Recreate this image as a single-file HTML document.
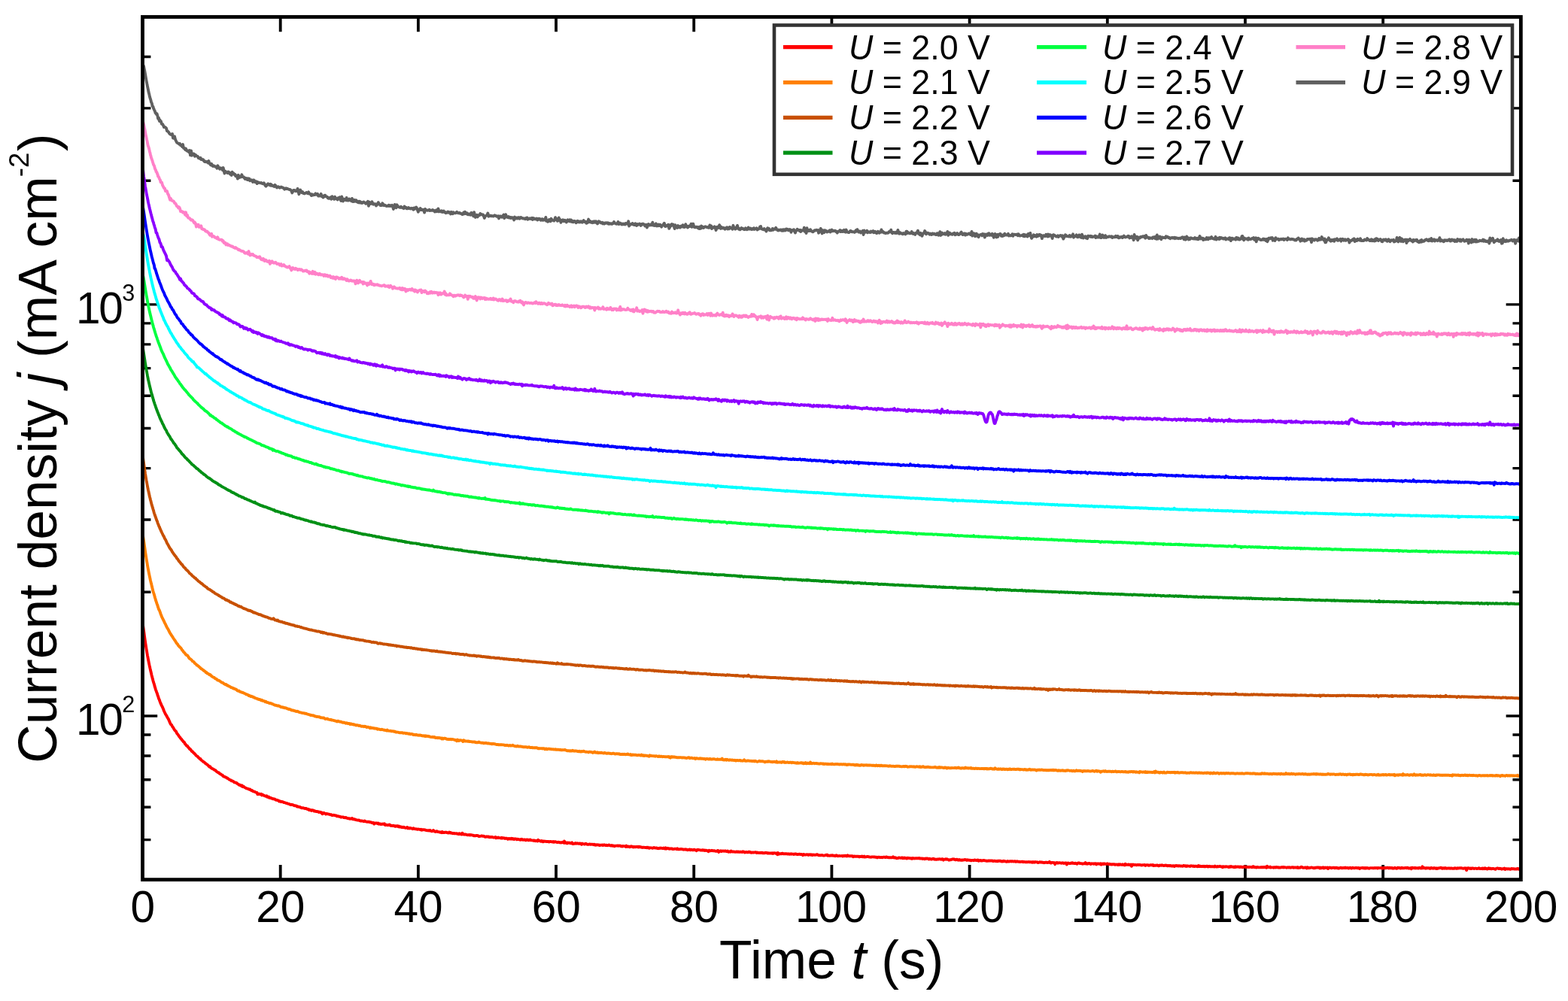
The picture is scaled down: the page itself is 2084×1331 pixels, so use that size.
<!DOCTYPE html>
<html lang="en">
<head>
<meta charset="utf-8">
<title>Current density vs. time</title>
<style>html,body{margin:0;padding:0;background:#fff;}body{width:2084px;height:1331px;overflow:hidden;}svg{display:block;}</style>
</head>
<body>
<svg width="2084" height="1331" viewBox="0 0 2084 1331" font-family='"Liberation Sans", sans-serif' fill="#000" role="img" aria-label="Current density j versus time t for cell voltages U = 2.0 V to 2.9 V">
<rect x="0" y="0" width="2084" height="1331" fill="#fff"/>
<path d="M372.69 1169.65V1149.95M372.69 22.50V42.20M555.87 1169.65V1149.95M555.87 22.50V42.20M739.05 1169.65V1149.95M739.05 22.50V42.20M922.24 1169.65V1149.95M922.24 22.50V42.20M1105.42 1169.65V1149.95M1105.42 22.50V42.20M1288.61 1169.65V1149.95M1288.61 22.50V42.20M1471.80 1169.65V1149.95M1471.80 22.50V42.20M1654.98 1169.65V1149.95M1654.98 22.50V42.20M1838.16 1169.65V1149.95M1838.16 22.50V42.20" stroke="#000" stroke-width="3.8" fill="none"/>
<path d="M189.50 1116.63H200.40M2021.35 1116.63H2010.45M189.50 1073.32H200.40M2021.35 1073.32H2010.45M189.50 1036.69H200.40M2021.35 1036.69H2010.45M189.50 1004.97H200.40M2021.35 1004.97H2010.45M189.50 976.98H200.40M2021.35 976.98H2010.45M189.50 951.95H209.20M2021.35 951.95H2001.65M189.50 787.27H200.40M2021.35 787.27H2010.45M189.50 690.93H200.40M2021.35 690.93H2010.45M189.50 622.58H200.40M2021.35 622.58H2010.45M189.50 569.57H200.40M2021.35 569.57H2010.45M189.50 526.25H200.40M2021.35 526.25H2010.45M189.50 489.63H200.40M2021.35 489.63H2010.45M189.50 457.90H200.40M2021.35 457.90H2010.45M189.50 429.92H200.40M2021.35 429.92H2010.45M189.50 404.88H209.20M2021.35 404.88H2001.65M189.50 240.20H200.40M2021.35 240.20H2010.45M189.50 143.87H200.40M2021.35 143.87H2010.45M189.50 75.52H200.40M2021.35 75.52H2010.45" stroke="#000" stroke-width="3.4" fill="none"/>
<defs><clipPath id="plotclip"><rect x="191.6" y="22.5" width="1828.3" height="1147.2"/></clipPath></defs>
<g clip-path="url(#plotclip)" fill="none" stroke-linejoin="round" stroke-linecap="butt">
<path d="M189.5 831.4l.5 .1 .5 3.4 .5 3.6 .5 3.5 .5 3.9 .5 3.6 .5 3.5 .5 3.3 .5 3.3 .5 3.2 .5 2.9 .5 3 .5 2.9 .5 2.5 .5 2.8 .5 2.5 .5 2.6 .5 2.4 .5 2.1 .5 2.4 .5 2.1 .5 2.3 .5 2 .5 2.4 .5 1.7 .5 2.3 .5 1.5 .5 2.1 .5 1.6 .5 1.8 .5 1.4 .5 2.1 .5 1.6 .5 1.6 .5 1.9 .5 1 .5 1.6 .5 1.4 .5 1.2 .5 1.9 .5 1.2 .5 1.5 .5 1.9 .5 .8 .5 1.3 .5 1.5 .5 1.3 .5 1.4 .5 .7 .5 1.7 .5 .7 1 2 1 2.3 1 2.8 1 2 1 2.2 1 1.4 1 1.9 1 1.8 1 1.6 1 2.4 1 2.3 1 2.1 1 .6 1 2.2 1 1.1 1 1.8 1 1.7 1 1.1 1 .9 1 2.4 1 1.1 1 1.3 1 1.7 1 1.1 1 1.5 1 .9 1 1.7 1 .8 1 1.4 1 .7 1 2.1 1 .8 1 1.5 1 .3 1 1.6 1 .9 1 1.6 1 .2 1 1.6 1 1.3 1 .3 1 1.4 1 .6 1 1.3 1 1 .92 1.2 .91 .5 .92 .6 .91 1.2 .92 .6 .92 1.2 .91-0 .92 1.6 .91 .5 .92 .8 .92 .9 .91 .3 .92 .8 .91 1 .92 .6 .92 .7 .91 .6 .92 .8 .91 1 .92 1 .92-.3 .91 1.6 .92 .4 .91 .8 .92 .3 .92 .4 .91 .8 .92 .4 .91 .4 .92 1.1 .92 .8 .91 .4 .92 .8 .91 0 .92 1.4 .92 .2 .91 .7 .92 .7 .91 .2 .92 1.5 .92 .2 .91 .6 .92 .2 .91 .3 .92 1.1 .92-.1 .91 .9 .92 .5 .91 .8 .92 .3 .92 .4 .91 .9 .92 0 .91 .4 .92 .5 .92 1.1 .91 .1 .92 .3 .91 0 .92 .8 .92 .9 .91 .5 .92 .8 .91-.3 .92 .9 .92 .6 .91-.6 .92 1.8 .91-.6 .92 .5 .92 1 .91 .3 .92 .7 .91 .2 .92 .4 .92 .2 .91 .3 .92 .8 .91-.4 .92 1 .92 .7 .91-.2 .92 1 .91 .4 .92 .1 .92 .3 .91 .6 .92 .5 .91 .1 .92 2.1 .92-.1 .91-.5 .92 .4 .91 .4 .92-.5 .92 1.6 .91-.9 .92 .9 .91-0 .92 .8 .92 .3 .91 .3 .92-.6 .91 1.5 .92 .1 .92-.3 .91 1.4 .92-.2 .91 .2 .92 .6 .92 .1 .91 .6 .92 .1 .91 .1 .92 .3 .92 .9 .91 .1 .92 0 .91 .4 .92 .2 .92 1.2 .91-.2 .92 .2 .91 .7 .92-.3 .92 .2 .91 .4 .92 .5 .91 .2 .92 .2 .92 .5 .91 .1 .92 .1 .91 .8 .92-0 .92 .2 .91 .6 .92 .4 .91-.4 .92 .4 .92 .1 .91 .3 .92 .7 .91 0 .92 .2 .92 .1 .91 1.1 .92-.3 .91 .5 .92 .1 .92 0 .91 .7 .92 .1 .91 .7 .92-0 .92-.3 .91 .6 .92 .2 .91 .3 .92-.2 .92 .2 .91 .7 .92 .3 .91-.2 .92 1.2 .92-.2 .91-.1 .92 1 .91-.8 .92 .4 .92 .2 .91 .9 .92-.4 .91 .7 .92 .1 .92-.1 .91 .5 .92-.2 .91 .8 .92-.3 .92 .2 .91 .7 .92-.1 .91 1.8 .92-.8 .92-.7 .91 .7 .92 .1 .91 .9 .92-.6 .92 .2 .91 .2 .92 .3 .91 0 .92 .6 .92-0 .91 .1 .92 .9 .91-.2 .92-.2 .92 .1 .91 .5 .92-.1 .91 .2 .92 .9 .92-.2 .91 .1 .92 .4 .91-0 .92 .3 .92 .7 .91-.3 .92-0 .91 0 .92 .7 .92-0 .91 .3 .92-.4 .91 .5 .92 .4 .92 .3 .91 .1 .92-0 .91 .6 .92-.2 .92-.4 .91-.3 .92 1.2 .91 .3 .92-.3 .92 .2 .91 .6 .92 .1 .91 .2 .92 .3 .92-0 .91-.1 .92 .8 .91 .1 .92 .3 .92-.2 .91 .1 .92 .2 .91 .4 .92-.7 .92 .6 .91 .2 .92 .3 .91 .2 .92-.1 .92 .2 .91-.2 .92 .7 .91-.1 .92 .2 .92 .6 .91 .1 .92-.2 .91 1.6 .92-1 .92-.1 .91-.1 .92 .1 .91 .7 .92-.7 .92 1.2 .91-.1 .92-.2 .91 .7 .92-.2 .92-.3 .91-.1 .92 .4 .91-.5 .92 1.7 .92-.4 .91 0 .92 .4 .91 .1 .92-.2 .92-.5 .91 .4 .92 1 .91-.3 .92 .5 .92-.1 .91-.3 .92 .4 .91 .7 .92-.5 .92 .5 .91-.7 .92 .1 .91 1.1 .92-.7 .92 1 .91-.3 .92 .1 .91 .7 .92-.4 .92 .6 .91-.5 .92 .5 .91 .4 .92 .1 .92-.3 .91-.5 .92 1.4 .91-.6 .92 .7 .92-.5 .91 .2 .92 .3 .91 .1 .92 .7 .92-1 .91 .5 .92 .3 .91 .2 .92 0 .92 .2 .91 .3 .92-.3 .91 .1 .92 .2 .92 .4 .91-.5 .92 1.1 .91-.6 .92 .1 .92 .1 .91-.1 .92 .2 .91 .3 .92 .3 .92 .2 .91-.2 .92 .1 .91 .4 .92-.6 .92 .6 .91 .5 .92 .3 .91-.5 .92-.9 .92 1 .91 .7 .92 .3 .91-.5 .92-.3 .92 .6 .91 .3 .92 .1 .91 .2 .92 .5 .92-.6 .91 .9 .92-1.1 .91 .9 .92 0 .92 0 .91-.4 .92 .3 .91-.2 .92 .5 .92 .3 .91 0 .92-1 .91 .9 .92-.4 .92 .8 .91-.2 .92 .7 .91-.4 .92 .4 .92-.2 .91 .2 .92 .1 .91-.2 .92 .7 .92-.4 .91 .7 .92-1 .91 .7 .92 .5 .92 .1 .91-1.8 .92 1.7 .91 .1 .92 .2 .92-.2 .91 0 .92 .4 .91 .2 .92 .2 .92-.2 .91-.1 .92 .5 .91-.5 .92 .3 .92 .1 .91 .3 .92 .1 .91 .6 .92-.3 .92 .2 .91-.3 .92-.1 .91 .3 .92 0 .92 .9 .91-.1 .92-.1 .91-.2 .92-.3 .92 .4 .91-0 .92 0 .91 .5 .92 .5 .92 .1 .91-.6 .92 .2 .91 .2 .92-.3 .92 .7 .91 .2 .92-.4 .91 .3 .92-.3 .92 .2 .91 .5 .92 0 .91-.2 .92-.4 .92 1.3 .91-.5 .92 .2 .91-.5 .92 .6 .92 0 .91 0 .92 .4 .91-.8 .92 .9 .92-.4 .91 .1 .92 .2 .91 .5 .92-.3 .92-.1 .91 .4 .92 .8 .91-.6 .92-.3 .92 .6 .91-0 .92-.8 .91 1 .92-.7 .92 .6 .91 .5 .92-.8 .91 .3 .92-.1 .92 .8 .91-.6 .92 .3 .91 .2 .92 .2 .92 .4 .91-.8 .92-.2 .91 .9 .92-.2 .92 .3 .91-.4 .92 .3 .91 .5 .92-.8 .92 .4 .91-.3 .92 .9 .91-.2 .92-.8 .92 .4 .91 .6 .92 0 .91 0 .92 .5 .92-.6 .91 .6 .92 .3 .91-.6 .92 .5 .92 .3 .91-1.5 .92 1 .91-.1 .92 .6 .92 .4 .91-.9 .92 .5 .91 .9 .92-.9 .92 .4 .91 .1 .92-.3 .91 .5 .92-.1 .92-.1 .91 0 .92 .6 .91-.3 .92-.2 .92 .1 .91 .3 .92 .1 .91-.5 .92 .8 .92-.6 .91-.1 .92 .5 .91 .3 .92 .2 .92-.5 .91 .2 .92 .5 .91-.2 .92 .4 .92-.1 .91-.6 .92 .3 .91 .6 .92-2.2 .92 2.3 .91-.3 .92-.1 .91 1 .92-.9 .92 .1 .91 .2 .92-.1 .91 .5 .92-0 .92-.8 .91 1.7 .92 0 .91-.5 .92 .2 .92-.8 .91 .7 .92-.3 .91-.1 .92 .4 .92 .2 .91-.4 .92 0 .91 .6 .92 .7 .92-1.2 .91 .5 .92 0 .91 .5 .92-.3 .92-.6 .91 .4 .92 .7 .91 .1 .92 0 .92-.4 .91-.1 .92 .5 .91-.2 .92-.1 .92 0 .91 .6 .92-.5 .91 .2 .92 .8 .92-.6 .91 .5 .92-.3 .91 .1 .92 0 .92 .7 .91-.5 .92 .1 .91-.1 .92-.1 .92 .5 .91-.5 .92-.2 .91 .6 .92 .1 .92-.4 .91 .6 .92-.1 .91-.5 .92-.1 .92 .8 .91-0 .92 .3 .91-.6 .92 .8 .92-.3 .91 .2 .92 .5 .91-.6 .92 0 .92 0 .91-.2 .92 .4 .91-.3 .92 .1 .92-.1 .91 .8 .92-.2 .91 .4 .92-.5 .92 .1 .91-0 .92-0 .91 .8 .92-1.3 .92 1.3 .91 0 .92-.4 .91 .2 .92 .5 .92-.4 .91-.6 .92 .4 .91 .7 .92-.6 .92 .7 .91-.5 .92 .4 .91-.3 .92 0 .92 .2 .91-.5 .92 .8 .91-.7 .92 .6 .92-.2 .91 .5 .92 .3 .91-.3 .92-.1 .92 .2 .91 .1 .92 .2 .91-.4 .92 .6 .92-.6 .91 .3 .92 .8 .91-.6 .92 .2 .92-0 .91-0 .92 .5 .91-.5 .92-.5 .92 .5 .91 .2 .92-.2 .91 0 .92 .6 .92-.1 .91 .3 .92-.3 .91-.4 .92 .3 .92 0 .91 .1 .92 .3 .91-.7 .92 .6 .92 .5 .91-1.3 .92 1.2 .91-.2 .92-.5 .92 .3 .91 .7 .92-.5 .91 .2 .92 0 .92-.2 .91 .7 .92-0 .91-.1 .92-.2 .92-.1 .91-0 .92 .6 .91-.9 .92 1 .92-.1 .91 0 .92-.1 .91-.2 .92 .1 .92 .2 .91 .3 .92 .2 .91-.2 .92 .1 .92-.3 .91 .5 .92-.1 .91 .5 .92-.2 .92-.3 .91-.3 .92 .9 .91-.7 .92 .4 .92 .2 .91 0 .92-.5 .91 .1 .92 .7 .92-.1 .91 .7 .92-1.1 .91-.2 .92 .2 .92 .1 .91 .2 .92 .2 .91 .1 .92-.3 .92 0 .91 .4 .92-.2 .91 .5 .92-.4 .92-0 .91 .6 .92 0 .91 1 .92-1.5 .92 .6 .91 .1 .92-.3 .91-.3 .92 .3 .92 .3 .91-.1 .92 0 .91 .3 .92 .3 .92-0 .91-.7 .92-.2 .91 1.9 .92-.9 .92-.4 .91-.4 .92 .9 .91-.5 .92-.1 .92 .2 .91 .2 .92-.5 .91 .1 .92 .5 .92 0 .91-.4 .92 1.2 .91-.3 .92-.2 .92 .4 .91-1.1 .92 .7 .91 .2 .92-.1 .92 .1 .91 .1 .92 .3 .91-.1 .92-.4 .92 .5 .91-.4 .92 .2 .91 .3 .92-.3 .92 0 .91 .2 .92 .1 .91-.8 .92 .7 .92-.2 .91 .8 .92-.4 .91-.2 .92 .4 .92-.1 .91 .2 .92-.8 .91 .6 .92-.2 .92 .8 .91-.2 .92-.2 .91 .1 .92-0 .92-.1 .91-.1 .92-.1 .91 .8 .92-.6 .92 .5 .91 .1 .92-0 .91-.2 .92 .3 .92-.3 .91-.1 .92 .6 .91-.1 .92 .2 .92-.3 .91-.5 .92 .5 .91-.1 .92 .6 .92-.5 .91 .5 .92-.1 .91 0 .92 0 .92 .2 .91-.5 .92 .7 .91-.8 .92 .3 .92 .1 .91 .4 .92-.4 .91 1.7 .92-2.1 .92 1.6 .91-.6 .92 .1 .91-.1 .92 .2 .92-.5 .91-.1 .92 .7 .91-0 .92-.3 .92 .1 .91 0 .92 .2 .91 .2 .92-.3 .92 .2 .91 .3 .92-.4 .91 .3 .92-.3 .92 .2 .91-0 .92 .4 .91-.4 .92-.2 .92 .4 .91-.2 .92 .6 .91-.2 .92-.2 .92-.2 .91 .4 .92-.1 .91 .1 .92 .1 .92 1 .91-1.2 .92 .4 .91 .2 .92 .1 .92-.3 .91 .1 .92-.1 .91 .7 .92-.7 .92 .3 .91-.3 .92 .5 .91-.4 .92 .7 .92-.6 .91 .1 .92 .1 .91 .1 .92-.2 .92-.3 .91-0 .92 .5 .91 .4 .92 .1 .92-.2 .91 .2 .92-.2 .91-.1 .92 .3 .92 .3 .91 0 .92-.2 .91-.5 .92 .2 .92-.5 .91 1.1 .92-.3 .91 .4 .92 .1 .92-.5 .91 .3 .92-.2 .91-.3 .92 .6 .92 0 .91-0 .92 .4 .91-.7 .92-.2 .92 .8 .91 .1 .92-.1 .91-.1 .92 .1 .92-0 .91-0 .92-.1 .91 .5 .92-.5 .92-.2 .91 .4 .92-.5 .91 .3 .92 .5 .92-1.1 .91 .7 .92 .1 .91-0 .92 .1 .92-.1 .91-.1 .92 0 .91 1.1 .92-.5 .92-.2 .91 .3 .92-0 .91-0 .92-.1 .92 0 .91 0 .92 .7 .91-.6 .92 .3 .92 0 .91-.6 .92 .9 .91-.3 .92-.5 .92 1 .91-.2 .92-.1 .91-.3 .92-0 .92 .2 .91-0 .92 .4 .91-0 .92 .1 .92-.2 .91-.1 .92 0 .91 .1 .92 0 .92 .2 .91 .1 .92-.1 .91 .7 .92-.6 .92 .1 .91-.2 .92 .4 .91 0 .92-.2 .92 .3 .91-.1 .92-.5 .91 0 .92 .2 .92 .3 .91-.6 .92 .2 .91 .3 .92 .2 .92 0 .91 .1 .92-.1 .91 .2 .92-.1 .92-.2 .91-.8 .92 1.1 .91 .2 .92-.3 .92 .1 .91 .8 .92-.1 .91-0 .92-.6 .92-0 .91 .1 .92 .2 .91 .1 .92-.6 .92 .9 .91-.1 .92-.6 .91 .6 .92-.3 .92 .2 .91 .5 .92-.8 .91 .2 .92 .1 .92 .1 .91 .2 .92-.1 .91 .6 .92-.8 .92 .5 .91-.3 .92 .3 .91-.1 .92-.2 .92 .1 .91 .1 .92-.2 .91 .2 .92-.5 .92 .6 .91-.1 .92 .2 .91-.2 .92 .6 .92-.3 .91 0 .92 .5 .91-.7 .92 .4 .92-.4 .91 .2 .92 0 .91 .8 .92-.7 .92 .5 .91-0 .92 .3 .91-.5 .92-.3 .92 .1 .91 .8 .92-.2 .91 .3 .92 0 .92-.3 .91-.1 .92 .2 .91-.5 .92 .3 .92 .1 .91 .3 .92-.7 .91-0 .92 1.5 .92-.8 .91-.2 .92-.3 .91 .4 .92-.4 .92 .3 .91 .5 .92 .6 .91-.3 .92-.3 .92 .2 .91-.7 .92-0 .91-.4 .92 .4 .92-.1 .91 .8 .92 .1 .91-.6 .92-.1 .92 .8 .91 .2 .92-.8 .91 .5 .92 .4 .92-.3 .91 .4 .92-.4 .91 0 .92-.1 .92-.5 .91 .5 .92-.1 .91 .6 .92-.7 .92 .4 .91 .1 .92 .2 .91-.1 .92 .6 .92-.4 .91-.1 .92 0 .91 .3 .92-.7 .92 .2 .91 .3 .92-.2 .91 .3 .92-.6 .92 1.2 .91-.5 .92-0 .91-.3 .92 .6 .92 0 .91-.4 .92 .1 .91-.3 .92 .5 .92 0 .91 .3 .92-.1 .91 .2 .92-.3 .92 .2 .91-.2 .92 .1 .91-.2 .92 .2 .92-.1 .91 .5 .92-.2 .91 0 .92-.1 .92 .4 .91-.2 .92 .4 .91-.6 .92 .3 .92-.3 .91 .1 .92 0 .91 .7 .92-.4 .92 .4 .91-.7 .92 .4 .91-.2 .92 .3 .92 .4 .91-0 .92-.7 .91 .5 .92 .1 .92-.3 .91-0 .92-.1 .91 .3 .92-.4 .92 .3 .91 .1 .92-.2 .91-.1 .92 .6 .92-.2 .91-.4 .92 .4 .91 .2 .92-.2 .92 .5 .91-.2 .92 0 .91-.2 .92 0 .92 .5 .91-.2 .92 .1 .91 .1 .92 .1 .92-.1 .91-0 .92-.1 .91-.1 .92 .4 .92-.1 .91-.2 .92 .4 .91 .3 .92-.8 .92 .4 .91 .3 .92-.7 .91 .4 .92 0 .92-.1 .91 .7 .92-.2 .91-.3 .92-.3 .92 .4 .91-.2 .92 .4 .91-.2 .92 .2 .92 .4 .91-.2 .92-.3 .91 .1 .92-.2 .92 .5 .91-.5 .92 .2 .91-.9 .92 1.1 .92 .6 .91-.7 .92 0 .91 0 .92 .2 .92 .1 .91 1.9 .92-1.6 .91-.2 .92-.4 .92 .8 .91-.3 .92-.3 .91 .3 .92 0 .92 .3 .91-.1 .92-.4 .91 .4 .92 .4 .92-.3 .91-.2 .92-.1 .91 2.1 .92-1.5 .92-.6 .91 .5 .92 .2 .91-.1 .92-.4 .92 .2 .91-.6 .92 .6 .91 0 .92 .3 .92-.3 .91-0 .92 .6 .91 .4 .92-1 .92-.4 .91 .1 .92 .5 .91 .1 .92-0 .92 .3 .91 .3 .92-.3 .91-.1 .92 0 .92-1.2 .91 1.5 .92-.3 .91 .4 .92-.7 .92 .3 .91-.4 .92 .5 .91 .6 .92-.7 .92 .1 .91 0 .92 .3 .91-.4 .92 .2 .92-.3 .91 1.3 .92-1 .91 0 .92-.1 .92 .4 .91-.1 .92-.5 .91 1.5 .92-1 .92-.2 .91 .6 .92-.8 .91 .6 .92-.3 .92 .2 .91 .1 .92-.6 .91 .6 .92 .3 .92-.4 .91 .4 .92-.1 .91 .5 .92-.4 .92 .1 .91 0 .92-.1 .91 .6 .92-.3 .92-0 .91 .1 .92 .5 .91-.9 .92 .7 .92-.7 .91 .3 .92 .3 .91 .1 .92-.6 .92 .7 .91-.2 .92 .6 .91-1.7 .92 1.2 .92-.3 .91 .1 .92 .1 .91-.4 .92 .6 .92-.1 .91-.3 .92 2.2 .91-1.9 .92-.5 .92 .5 .91 .1 .92-.1 .91 0 .92 .5 .92-.5 .91 .1 .92-0 .91 0 .92-0 .92 .2 .91 .3 .92-.2 .91-0 .92-.2 .92 0 .91-.2 .92 1 .91-.6 .92-.2 .92 .3 .91-.1 .92 .5 .91-.2 .92-.5 .92 .2 .91-.1 .92 .3 .91-.4 .92 1 .92-.4 .91-0 .92 0 .91 .1 .92-.4 .92 .3 .91 .5 .92-0 .91-.8 .92 .2 .92 .1 .91-.4 .92 .4 .91 .1 .92 .2 .92-.1 .91-.4 .92 .4 .91-.2 .92 .6 .92-0 .91-.4 .92 .5 .91-.4 .92 .2 .92 .3 .91 .2 .92-.6 .91 .1 .92 .8 .92-.9 .91 .3 .92-.5 .91 .5 .92-.2 .92 .4 .91-.5 .92 .4 .91-.1 .92 .1 .92 .1 .91 .1 .92-.5 .91-.3 .92 .5 .92 .3 .91-.5 .92 .7 .91-.6 .92 .3 .92 0 .91 0 .92 .4 .91-.7 .92 .1 .92 .1 .91 .3 .92-.3 .91 .6 .92-.3 .92-.1 .91-.1 .92 .5 .91 .1 .92-1.1 .92 .9 .91-.5 .92 .5 .91-.1 .92 .3 .92-.3 .91-.1 .92 .4 .91-.5 .92 .7 .92-.2 .91-.6 .92-0 .91 .9 .92-.5 .92-.2 .91 .6 .92-.2 .91 .1 .92-.1 .92 0 .91 .2 .92 .1 .91-.9 .92 .6 .92 .3 .91 .1 .92-.6 .91 .3 .92-.2 .92-.3 .91 .4 .92 .3 .91-.2 .92 1 .92-1.1 .91 .3 .92-.1 .91 .2 .92-.4 .92 .2 .91 .1 .92 .1 .91 .5 .92-.9 .92 .6 .91-.8 .92 .6 .91-.1 .92 .1 .92 .5 .91-.6 .92 .7 .91-.9 .92 .4 .92-.1 .91-.2 .92 .4 .91-.3 .92 .5 .92-.5 .91 .3 .92 0 .91 .5 .92-.4 .92-.3 .91-.3 .92 .5 .91 .4 .92-.2 .92-.4 .91 .3 .92 .2 .91-.3 .92 .1 .92 0 .91 .1 .92 .3 .91-1.1 .92-0 .92 1.1 .91-.4 .92 .5 .91 .1 .92-.6 .92 .1 .91 .4 .92 0 .91-0 .92-.1 .92-.3 .91 .3 .92-.3 .91 .4 .92-.4 .92 .2 .91 .1 .92-.8 .91 1.2 .92-1.8 .92 1.2 .91 0 .92 .1 .91-.6 .92 .9 .92-.1 .91-0 .92 0 .91 .3 .92-.5 .92-.1 .91 .5 .92-.6 .91 .2 .92-.1 .92 .6 .91-.3 .92 .3 .91-.1 .92-.5 .92 .3 .91-.3 .92-.2 .91 .6 .92-.3 .92 .2 .91 0 .92 .5 .91-.5 .92-.1 .92 .2 .91-.3 .92 .4 .91 .1 .92-.3 .92-.2 .91 .1 .92 .5 .91-.4 .92 .2 .92-.2 .91-0 .92 .4 .91-.7 .92 .9 .92-.3 .91 .2 .92-.4 .91-.8 .92 .2 .92 .6 .91 .4 .92-.2 .91 .1 .92-.4 .92 .1 .91 1 .92-1.2 .91 .1 .92 .8 .92-.3 .91 .1 .92-.3 .91-.2 .92 .2 .92 .2 .91 .3 .92 .1 .91-.6 .92 .3 .92-.4 .91-.2 .92 .3 .91-.2 .92 0 .92 1 .91-.9 .92 .7 .91-.6 .92 .3 .92-.6 .91 1.1 .92-.5 .91-.5 .92 .4 .92 .2 .91-.6 .92 1.5 .91-1.2 .92 .1 .92-.4 .91 .3 .92 .5 .91-.4 .92-.1 .92-.2 .91 .1 .92 .6 .91-.4 .92-.3 .92 .7 .91-.3 .92 .5 .91-0 .92-.4 .92-.4 .91 .1 .92 .5 .91-.1 .92-.2 .92 .2 .91-.2 .92-.5 .91 .7 .92-.2 .92 0 .91-.1 .92 .6 .91-.4 .92-.4 .92 .3 .91 .6 .92-.7 .91-.1 .92 .4 .92 .2 .91-.2 .92-.3 .91 .1 .92-0 .92 .3 .91-.3 .92 .2 .91 .8 .92-.8 .92-.1 .91 0 .92-.3 .91 .6 .92-.5 .92 .7 .91-.6 .92 .6 .91-.6 .92 .4 .92-.3 .91 .5 .92 .1 .91-.6 .92 0 .92-0 .91 0 .92 .1 .91 .1 .92 0 .92-.3 .91 .2 .92-.1 .91-.1 .92 .5 .92-.5 .91 .1 .92 0 .91 0 .92-.1 .92 .1 .91 .7 .92-.9 .91 0 .92 .5 .92-.7 .91 .6 .92-.4 .91-.1 .92-.1 .92 .7 .91-.6 .92 .4 .91-.2 .92 .4 .92-.4 .91 .7 .92-.3 .91 .2 .92-.8 .92 .5 .91 .3 .92 .2 .91-1 .92-0 .92 .2 .91-0 .92 .5 .91-.2 .92-.6 .92 .6 .91 0 .92 .1 .91-.3 .92-.2 .92-0 .91 .4 .92-.6 .91 .2 .92 .6 .92 0 .91-.1 .92-.3 .91 1.2 .92-1.6 .92 .2 .91 .3 .92 .2 .91-.6 .92 .7 .92-.3 .91-0 .92-.1 .91 .5 .92-.6 .92-.2 .91 .6 .92 .1 .91-.2 .92-2 .92 2.1 .91-.2 .92-.2 .91 .5 .92 .2 .92-.7 .91 .3 .92-.2 .91 .3 .92-.1 .92 .6 .91-.7 .92-.3 .91 .6 .92-.1 .92 .3 .91-.7 .92 .4 .91 .5 .92-.6 .92 .8 .91-.6 .92 .1 .91-.4 .92-.1 .92-.1 .91-.3 .92 .9 .91 .2 .92-.6 .92 .3 .91 .2 .92-.8 .91 .5 .92 .4 .92-.2 .91-.1 .92 0 .91-.1 .92 .4 .92-.2 .91-.2 .92 .4 .91 .1 .92-.3 .92 .1 .91-.5 .92 .2 .91 .3 .92 .1 .92-.6 .91 .4 .92-.2 .91-.1 .92-.1 .92-0 .91 .1 .92 .3 .91 .1 .92 .1 .92-.4 .91-.1 .92 .2 .91 2.6 .92-2.6 .92-.2 .91-.1 .92 .5 .91 .3 .92-.5 .92 .6 .91-.6 .92-.1 .91 .2 .92 .5 .92-.5 .91-0 .92 .1 .91 .4 .92-.2 .92-.1 .91-.6 .92 .5 .91 .4 .92-.1 .92 0 .91-.6 .92 .8 .91-.6 .92 .6 .92-1 .91 .9 .92-.2 .91 .6 .92-.6 .92-.7 .91 .9 .92-.3 .91-.1 .92 .7 .92-.2 .91-.2 .92-0 .91 .1 .92 .5 .92 .2 .91-.9 .92-.2 .91-.2 .92 .2 .92 .4 .91-.4 .92 .3 .91-0 .92 .7 .92-.6 .91 .2 .92 .1 .91-.9 .92 1.5 .92-.8 .91 .2 .92-.3 .91 .5 .92-.5 .92 .2 .91 .4 .92-0 .91-.8 .92 .2 .92 .2 .91-.1 .92 .1 .91 .3 .92-.1 .92 0 .91 .1 .92-.6 .91 .2 .92 .6 .92-.7 .91-.7 .92 .9 .53-.1" stroke="#ff0000" stroke-width="3.9"/>
<path d="M189.5 712.6l.5-.1 .5 3 .5 3.4 .5 3.4 .5 3.6 .5 3.6 .5 3.5 .5 3.3 .5 3.3 .5 3.1 .5 3.2 .5 2.8 .5 3 .5 2.8 .5 2.6 .5 2.7 .5 2.7 .5 2.3 .5 2.3 .5 2.4 .5 2.4 .5 2.1 .5 2.1 .5 1.9 .5 2.3 .5 2 .5 2 .5 1.9 .5 1.7 .5 1.4 .5 1.8 .5 1.7 .5 2 .5 1.4 .5 2 .5 1.3 .5 1.6 .5 1.6 .5 1.4 .5 1.1 .5 2.1 .5 1.2 .5 1.8 .5 .5 .5 1.1 .5 1.3 .5 1.4 .5 1.6 .5 1.2 .5 1.3 .5 1.4 1 2 1 2.1 1 2 1 2.1 1 1.9 1 2.3 1 1.9 1 1.7 1 1.7 1 2.1 1 2 1 1.3 1 1.7 1 1.4 1 1.7 1 1.5 1 1.5 1 1.3 1 1.9 1 1.4 1 .9 1 1.9 1 .8 1 1.3 1 .8 1 1.2 1 2 1 .7 1 1.7 1 .9 1 1.2 1 1.4 1 .7 1 .3 1 1.4 1 1.7 1 1.3 1 .5 1 .8 1 .8 1 1.4 1 .4 1 1 1 1.3 1 .8 .92 .7 .91 1.2 .92 .2 .91 .8 .92 .8 .92 1 .91 .6 .92 1.3 .91 .1 .92 1 .92 .4 .91 1 .92 .4 .91 .7 .92 1.2 .92 .1 .91 1.2 .92 .1 .91 .5 .92 1.2 .92-.3 .91 .9 .92 1 .91 .7 .92 .6 .92 .4 .91 .3 .92 1.1 .91 .5 .92 .2 .92 .9 .91 .9 .92 .2 .91 .2 .92 .7 .92 .6 .91 .7 .92 .6 .91 .1 .92 .6 .92 .9 .91 .4 .92 .7 .91-.2 .92 .6 .92 1 .91-.1 .92 1 .91 .2 .92 .3 .92 1 .91 .1 .92 .4 .91 .4 .92 .7 .92-.1 .91 .7 .92 .3 .91 .2 .92 1.2 .92 .6 .91 .3 .92-.3 .91 1 .92 .5 .92 .1 .91 .7 .92-.1 .91 .4 .92 .5 .92 .4 .91 .3 .92 .9 .91-.1 .92 .5 .92 .4 .91 1.1 .92-.4 .91 .7 .92 .7 .92-.4 .91 .5 .92 .5 .91 .1 .92 1 .92-.1 .91 .7 .92 .3 .91 .2 .92 .6 .92-0 .91 .7 .92-.3 .91 .5 .92 .8 .92-.5 .91 1 .92 .1 .91 .3 .92 .3 .92 .8 .91-.4 .92 1 .91 .2 .92 .1 .92 .4 .91 .5 .92-0 .91 0 .92 .8 .92 0 .91 .4 .92 .5 .91 .4 .92 .6 .92-.1 .91 .3 .92 .4 .91 .2 .92-.2 .92 .5 .91 .2 .92 .7 .91 .5 .92 0 .92-0 .91 .7 .92-.2 .91 .6 .92-.1 .92 .3 .91 .2 .92 .7 .91 .1 .92 .5 .92-.2 .91 .7 .92 0 .91 .8 .92 .2 .92-.1 .91 .4 .92 .2 .91 .4 .92 0 .92 .6 .91-.1 .92-.1 .91 .8 .92 .1 .92 .5 .91 .2 .92 .1 .91 .3 .92 .2 .92 .1 .91 .1 .92 .3 .91 .4 .92-.3 .92 .7 .91 .1 .92 .5 .91 0 .92 .5 .92 .1 .91 .6 .92-.1 .91 .2 .92 .3 .92-.2 .91 .4 .92 .8 .91 0 .92 .2 .92 .4 .91-.1 .92 .2 .91 .1 .92-0 .92 .9 .91-.1 .92 .3 .91 .1 .92-.1 .92 0 .91 .9 .92 .7 .91-.1 .92-.1 .92-.3 .91 .8 .92 .3 .91 0 .92 .5 .92-.3 .91 .8 .92-.1 .91 .1 .92 .2 .92 .4 .91 .3 .92 0 .91 .3 .92 .7 .92-.8 .91 .1 .92 .7 .91-.1 .92 .5 .92-.3 .91 .7 .92 .4 .91 .2 .92-.4 .92 .4 .91 .5 .92 .4 .91-.5 .92 .2 .92 .7 .91-.2 .92 0 .91 1.1 .92-.9 .92 .4 .91 .6 .92-.2 .91 .5 .92-.3 .92 .7 .91 .1 .92 .5 .91-.3 .92 .1 .92 .3 .91 .4 .92-.3 .91 .4 .92 .6 .92-.1 .91 .2 .92-.2 .91 .6 .92-.4 .92 .1 .91 .3 .92 .8 .91-.2 .92-.1 .92 .3 .91 .4 .92 .7 .91-.9 .92 .9 .92 0 .91-.2 .92 .2 .91 .6 .92-.2 .92 .2 .91-.1 .92-0 .91 1.2 .92-.4 .92 .1 .91 .3 .92 .3 .91 .1 .92-.4 .92 .4 .91 .2 .92 .3 .91-.1 .92 .4 .92 .1 .91 .4 .92-.9 .91 .9 .92 .2 .92 .2 .91-0 .92-.1 .91 .5 .92 .1 .92-.1 .91-0 .92 .6 .91-.5 .92 .8 .92 .4 .91-.1 .92 .1 .91 0 .92 .5 .92 .1 .91-.1 .92 .3 .91-.1 .92 0 .92 .5 .91-.1 .92-.1 .91 0 .92 .8 .92-.4 .91 .1 .92 .4 .91 .3 .92-.4 .92 .7 .91 .1 .92-.3 .91 .1 .92 .4 .92 .7 .91-.4 .92 .4 .91 .1 .92-.5 .92 .5 .91 .4 .92-.2 .91 .5 .92-.4 .92 0 .91 .4 .92 .4 .91-.2 .92 .5 .92-.5 .91 .4 .92 .6 .91-.8 .92 .8 .92-.2 .91-.1 .92 .5 .91-.2 .92 .7 .92 .1 .91 .2 .92-.1 .91-.2 .92 .6 .92-.4 .91 .2 .92 .9 .91-.2 .92-0 .92 .4 .91-.4 .92 .4 .91-.3 .92 .3 .92 .2 .91 1 .92-1 .91 1 .92-.6 .92-.3 .91 .1 .92 .4 .91 .6 .92-.1 .92 .5 .91-.3 .92 .4 .91-.2 .92-.2 .92 .5 .91-.2 .92-.1 .91 .3 .92 .2 .92 .3 .91 .5 .92-.2 .91 1.2 .92-1.7 .92 .6 .91 .8 .92-.6 .91-.2 .92 .3 .92 0 .91 .3 .92 1.2 .91-1.8 .92 .8 .92 .6 .91-.1 .92 .1 .91-.1 .92 .4 .92-.4 .91 .6 .92-.1 .91 .1 .92-0 .92 .4 .91-0 .92-.1 .91 .2 .92-.2 .92 .7 .91 .2 .92-0 .91-.1 .92 .1 .92-.8 .91 .8 .92 .1 .91 .2 .92 .2 .92-.1 .91-0 .92 .6 .91-.3 .92 0 .92-.2 .91 .2 .92 .4 .91 .2 .92-.4 .92 .5 .91 .2 .92-.1 .91 .2 .92 .4 .92-.4 .91-.1 .92 .4 .91-.1 .92 .3 .92 .3 .91 .2 .92-.1 .91 .4 .92-.2 .92 .2 .91-0 .92 0 .91-.1 .92 .2 .92-0 .91 .1 .92 .2 .91 .4 .92-.3 .92 .3 .91-.4 .92 .4 .91 .5 .92-.2 .92-.5 .91 .6 .92 0 .91-.1 .92-.7 .92 .9 .91 0 .92 .6 .91 0 .92 .1 .92 .2 .91-.7 .92 .5 .91 .3 .92-.2 .92 .1 .91 0 .92 .4 .91-0 .92 .4 .92-.1 .91 0 .92 0 .91-.1 .92 .3 .92 .3 .91-0 .92-.3 .91-.1 .92 .7 .92-.1 .91 .1 .92-.2 .91 .5 .92 .1 .92-.2 .91 .3 .92-.3 .91 .3 .92-.4 .92 .5 .91 .8 .92-.4 .91 .3 .92-.2 .92 0 .91 .1 .92-.1 .91 .4 .92-.3 .92 .2 .91 .9 .92-.6 .91-.2 .92 .9 .92-.5 .91-.1 .92-.1 .91 .3 .92-0 .92 .2 .91 .1 .92 .1 .91-.2 .92 .4 .92 0 .91-.4 .92 .6 .91-.1 .92 .2 .92-.3 .91 .3 .92 .1 .91-.2 .92 .5 .92-.1 .91 .2 .92-.3 .91 0 .92 .1 .92-.2 .91 .5 .92 .3 .91 .4 .92-0 .92 .1 .91 0 .92 .3 .91-.4 .92 .3 .92-0 .91-.8 .92 .8 .91 0 .92 .2 .92-.2 .91 0 .92 .1 .91 .4 .92 0 .92 .3 .91-.6 .92 .7 .91 .2 .92-.6 .92 .3 .91-.3 .92-.3 .91 .4 .92 .5 .92 .1 .91-.1 .92 .3 .91-0 .92 .5 .92-.8 .91 .2 .92 .1 .91 .1 .92 .1 .92 .8 .91-.7 .92 .3 .91-.9 .92 .7 .92 .5 .91 .1 .92-.6 .91 1 .92-.4 .92-.2 .91 .4 .92-.3 .91-.1 .92 .5 .92 .2 .91 .1 .92-.6 .91 .2 .92 .3 .92 .4 .91 .1 .92-.4 .91-.1 .92 .5 .92-.2 .91 .3 .92 .2 .91-.1 .92-.3 .92-0 .91-0 .92 .6 .91 .2 .92-.5 .92 .1 .91-0 .92 .3 .91-.2 .92 .1 .92 .6 .91-0 .92-.2 .91 .3 .92-.4 .92 .4 .91-.3 .92 .1 .91 .5 .92-.5 .92 .2 .91-.6 .92 .5 .91 .4 .92 .1 .92-.4 .91 1 .92-.1 .91-.6 .92 .4 .92 0 .91-.1 .92-.1 .91 .4 .92-0 .92 .4 .91-.2 .92-.3 .91 .1 .92 .3 .92 .3 .91-1 .92 .9 .91 .3 .92-.6 .92 .8 .91-.5 .92 .2 .91-.1 .92 .3 .92 .3 .91 0 .92 .5 .91-1.3 .92 .6 .92-.2 .91 .3 .92-0 .91 .1 .92 .2 .92-.1 .91 .4 .92-.6 .91 .3 .92 .2 .92 .4 .91-.6 .92 .1 .91 .5 .92-.1 .92-.3 .91 .7 .92-.2 .91-.1 .92 .1 .92 .1 .91-.1 .92 .3 .91 0 .92-.3 .92-.1 .91 .9 .92-.7 .91 1.4 .92-.9 .92-.7 .91 .8 .92-.2 .91-.3 .92 .6 .92-.2 .91 .2 .92 .4 .91-0 .92-.2 .92 .1 .91 0 .92-.1 .91-0 .92 .2 .92 .2 .91-.2 .92 .1 .91 .2 .92-.2 .92 .5 .91 .1 .92-.2 .91-.3 .92-.2 .92-.1 .91 1 .92-.2 .91-.4 .92 .1 .92 .4 .91 .3 .92-.1 .91-.3 .92 1.1 .92-.6 .91-.4 .92 .4 .91 .1 .92 .1 .92-0 .91-.4 .92 .5 .91-.3 .92 .3 .92 0 .91 .2 .92-0 .91-.1 .92 .8 .92-.7 .91-0 .92 .2 .91 .1 .92 .2 .92-.6 .91 .3 .92 .4 .91-.1 .92 0 .92-.4 .91 .1 .92 .2 .91 .3 .92 .2 .92 0 .91-.6 .92 .5 .91 .1 .92-.1 .92 0 .91-.1 .92 .2 .91-1.3 .92 1.8 .92-.2 .91 .4 .92-.6 .91-.2 .92 1 .92-1 .91 .3 .92 .5 .91 .2 .92-.5 .92 .2 .91 0 .92 .3 .91-.3 .92 .4 .92 .1 .91-.2 .92 .1 .91 .6 .92-.5 .92-.1 .91 .4 .92 .1 .91-.5 .92-0 .92 .7 .91-.1 .92 .1 .91 .1 .92-.6 .92-.7 .91 1.3 .92 0 .91-.1 .92 .1 .92-.3 .91-0 .92 .2 .91 .2 .92 .1 .92-.1 .91 .2 .92 .2 .91-.2 .92-.2 .92 .6 .91-.7 .92 .4 .91 .5 .92 .2 .92-.2 .91-.5 .92-.3 .91 .4 .92 .1 .92 .1 .91-.2 .92 .1 .91 .3 .92-0 .92 .8 .91-.6 .92 0 .91-.2 .92 .2 .92-.5 .91 .4 .92-.3 .91 .5 .92 .2 .92-.1 .91 .4 .92-.5 .91 .2 .92-.3 .92 .3 .91 .4 .92-1.1 .91 1.3 .92-.1 .92-.1 .91-.2 .92 .2 .91-.2 .92 .6 .92-.7 .91-.2 .92 .6 .91-.6 .92 1 .92-.4 .91 .3 .92-.1 .91-.4 .92 .5 .92 .2 .91-.5 .92 .1 .91 0 .92 .5 .92-.5 .91 .2 .92 .2 .91 .1 .92-.1 .92 .5 .91 .1 .92-.7 .91 .8 .92-.3 .92 .1 .91 0 .92-.5 .91 .1 .92 .5 .92-.3 .91 .9 .92-.8 .91 .4 .92-.8 .92 1.2 .91-0 .92-.8 .91 .5 .92-.1 .92 .4 .91-1.8 .92 1.4 .91 .4 .92-.3 .92-.1 .91-.1 .92 .4 .91-.1 .92-.2 .92 .4 .91-.2 .92 .3 .91 .1 .92 .2 .92-.2 .91-.3 .92 .2 .91 0 .92 .4 .92-.4 .91 .6 .92-.4 .91 .3 .92-.3 .92 .5 .91-.5 .92 .6 .91-.2 .92 .1 .92-0 .91-.4 .92 .6 .91-.7 .92 .5 .92 .2 .91 .1 .92-.4 .91 .1 .92-.1 .92-0 .91 .2 .92-.1 .91 .4 .92-.2 .92-.1 .91 0 .92 .3 .91-.2 .92-.1 .92 .1 .91 .3 .92-.4 .91 .5 .92 .4 .92-.6 .91 .2 .92-.3 .91 .1 .92 .2 .92 .2 .91-.1 .92-.2 .91 .2 .92-.1 .92 .7 .91-.5 .92 .6 .91-.8 .92 .2 .92 .6 .91-.4 .92 .7 .91-.1 .92-.1 .92-.7 .91 .5 .92-.1 .91 .5 .92-.5 .92 .2 .91-.2 .92-.2 .91 .6 .92-.2 .92 .2 .91-.3 .92 .3 .91-.2 .92 .1 .92 .2 .91-.1 .92 .3 .91-.4 .92 .2 .92 .4 .91-.5 .92-.2 .91 .8 .92-.3 .92-.2 .91-0 .92 .6 .91-.6 .92-.1 .92 .6 .91-0 .92 .1 .91-.3 .92 .3 .92-.3 .91 .2 .92 .1 .91 .1 .92 .2 .92-0 .91-.4 .92 .1 .91 .4 .92 .1 .92-.1 .91-.2 .92 .2 .91 .2 .92 .1 .92-.4 .91-.1 .92 .3 .91-.2 .92 .2 .92-.2 .91 .4 .92 0 .91 .3 .92-0 .92-.3 .91-.2 .92 .5 .91-.4 .92-.2 .92 .3 .91-.2 .92 .8 .91-.1 .92 0 .92-.4 .91 .1 .92 .1 .91-.1 .92 .1 .92 .2 .91-.3 .92 .2 .91 .4 .92-.3 .92-.4 .91 .2 .92 .1 .91 .1 .92 .2 .92-.6 .91 .9 .92-.4 .91 .2 .92-.6 .92 0 .91 .7 .92 .1 .91 .1 .92-.3 .92 .1 .91-.2 .92-.1 .91 .4 .92 .1 .92 0 .91 .2 .92 0 .91 0 .92 0 .92-.1 .91-.2 .92-.3 .91 .6 .92 .3 .92-.2 .91 .4 .92-.3 .91-.6 .92 .8 .92-.5 .91 .3 .92-.1 .91 .1 .92 .5 .92-.1 .91-.6 .92 .5 .91-.3 .92 1 .92-.4 .91-.4 .92 .3 .91 .1 .92-.1 .92 .2 .91-.3 .92 .1 .91-0 .92 0 .92 0 .91-.5 .92 .5 .91 .3 .92-.5 .92 .2 .91-.6 .92 .8 .91-0 .92 .2 .92 .2 .91-.6 .92 .1 .91 .3 .92-.2 .92 .3 .91-1.1 .92 .9 .91-.2 .92-.1 .92 .5 .91-.3 .92 .1 .91 .1 .92-.6 .92 .9 .91-.1 .92 0 .91-.1 .92 .5 .92-.3 .91-.3 .92 .4 .91 .2 .92-.3 .92 .1 .91 .1 .92 .1 .91-0 .92-.2 .92 .2 .91-.1 .92-0 .91 .4 .92-.4 .92-.1 .91 .4 .92-.4 .91 .6 .92-.3 .92 .3 .91-.3 .92-.2 .91-.4 .92 .5 .92 .5 .91-.4 .92 .4 .91 .1 .92-1.3 .92 .9 .91 .1 .92 .4 .91 .1 .92-.6 .92 .4 .91-.1 .92-.3 .91 .6 .92 .2 .92-.7 .91 .4 .92-.3 .91 .5 .92 0 .92-.3 .91 0 .92 .5 .91-.4 .92 .3 .92-.7 .91 .1 .92 .7 .91-.2 .92-.1 .92-.2 .91 .3 .92-.3 .91 .3 .92 .2 .92-.2 .91-.3 .92-0 .91 .3 .92-.4 .92 .8 .91-.4 .92 .1 .91 0 .92-0 .92 .5 .91-.5 .92-.1 .91 .6 .92-.4 .92 .6 .91-.2 .92-.3 .91 .2 .92-.7 .92 .4 .91 .6 .92-.4 .91 .1 .92-0 .92 .1 .91-.1 .92 .2 .91-0 .92 .8 .92-.9 .91 .1 .92 .1 .91-.3 .92 .4 .92-.1 .91-.1 .92-.3 .91 .5 .92 .1 .92 0 .91 .1 .92-.2 .91 .4 .92-.3 .92 .3 .91-.3 .92 .4 .91-.3 .92-.2 .92 .1 .91 .2 .92-.4 .91 .5 .92-.6 .92 .6 .91-.3 .92-0 .91 .2 .92 .4 .92 .2 .91-.5 .92 .4 .91-.2 .92 .3 .92-.3 .91 .1 .92-.4 .91 .6 .92-.1 .92 .1 .91 .2 .92-.5 .91 .2 .92-.5 .92 .2 .91-0 .92 .5 .91-0 .92-.1 .92-0 .91 .5 .92-.3 .91-.3 .92 .6 .92-0 .91-.2 .92-.8 .91 .4 .92 .3 .92-.1 .91-.3 .92 .4 .91-.2 .92 .3 .92 0 .91 .9 .92-1.1 .91 .5 .92-.5 .92 .5 .91-.1 .92-0 .91-.1 .92-.2 .92 .3 .91 .1 .92 .2 .91-.2 .92 0 .92-.4 .91-.1 .92 .5 .91 .5 .92-.6 .92-.1 .91-.5 .92 1.1 .91-.6 .92 .1 .92 .2 .91 .2 .92 1 .91-.9 .92-.1 .92-.1 .91-.3 .92 .1 .91 .5 .92-.8 .92 .5 .91 .4 .92-.1 .91-.3 .92 0 .92 .3 .91-.2 .92 .2 .91 .3 .92-.5 .92-0 .91 .4 .92-.2 .91-.2 .92-.3 .92 .9 .91 .1 .92-.5 .91 .2 .92-.1 .92 .1 .91 .3 .92-.2 .91-.2 .92 .2 .92-.1 .91 .2 .92-.2 .91-.1 .92 .6 .92-.2 .91 0 .92 .4 .91-.6 .92-0 .92 .2 .91-.4 .92 .1 .91-.1 .92 .5 .92-.6 .91 .5 .92-.1 .91 .5 .92-.5 .92 .4 .91-.1 .92 0 .91 .8 .92-1.4 .92 .6 .91-.2 .92 0 .91 .5 .92-.5 .92 0 .91 .5 .92-.8 .91 .9 .92-.6 .92 .7 .91-.6 .92 .3 .91-0 .92-0 .92 .1 .91-.1 .92 .3 .91-.1 .92-.6 .92-.3 .91 1.3 .92-1.9 .91 1.4 .92-.2 .92 0 .91-0 .92 .8 .91 .1 .92-.9 .92 .4 .91-.1 .92 .5 .91-.5 .92-.4 .92 .9 .91 0 .92 .1 .91-.3 .92-.7 .92 .2 .91 .2 .92 .2 .91-.2 .92 .3 .92-.4 .91 .1 .92-0 .91 .1 .92-.3 .92 .9 .91-.7 .92 .1 .91 .3 .92-.7 .92 .8 .91 0 .92 .1 .91-.5 .92 0 .92 .2 .91-.1 .92 .2 .91 .1 .92-.1 .92-.1 .91 .4 .92 .1 .91-.1 .92-.1 .92 0 .91 .3 .92-.5 .91-.2 .92 .3 .92 .1 .91-.1 .92 0 .91 .1 .92 .1 .92-.2 .91-.1 .92 .2 .91 .2 .92-.1 .92-.3 .91 .3 .92-.1 .91 .3 .92-.3 .92 .2 .91 .2 .92-.2 .91 0 .92-0 .92-.2 .91 .4 .92-.5 .91 .2 .92-.1 .92 .4 .91 .5 .92-.9 .91 .5 .92-.1 .92 .5 .91-1.1 .92 .4 .91 .4 .92-.1 .92 .1 .91-.6 .92 .3 .91 0 .92 .8 .92-.5 .91 0 .92-.2 .91 .5 .92-.3 .92 .1 .91-.3 .92 .5 .91-0 .92-.5 .92 0 .91 .3 .92-.1 .91-.2 .92 .3 .92 .2 .91-.2 .92-.1 .91 .2 .92-.1 .92-0 .91 .2 .92 .2 .91 0 .92-.2 .92-.2 .91 .1 .92 .1 .91 .1 .92-.2 .92 .1 .91 .1 .92-.4 .91 .3 .92 .1 .92 .1 .91-.1 .92-.2 .91-.2 .92-.1 .92 .1 .91 .1 .92 .1 .91 0 .92 .3 .92-.2 .91 .1 .92 .1 .91-.3 .92-.1 .92 .2 .91-.1 .92 .7 .91-0 .92-.5 .92 .2 .91 .3 .92 0 .91-.1 .92-0 .92 .1 .91-1 .92 .2 .91 .3 .92 .3 .92-.6 .91 .4 .92 .1 .91 0 .92-.2 .92 .2 .91 .3 .92 .2 .91-.4 .92-0 .92 .4 .91 .1 .92-.7 .91 .1 .92 0 .92 .3 .91-.1 .92-.1 .91 .5 .92-.3 .92-.3 .91 .2 .92 0 .91 .4 .92-.8 .92 .5 .91 0 .92 .3 .91-.3 .92 .2 .92 0 .91-1.2 .92 .9 .91-0 .92 .2 .92-.4 .91 .5 .92-.2 .91 .1 .92-.6 .92 .7 .91-0 .92-.4 .91 .3 .92 .2 .92 .4 .91-.7 .92 .2 .91-.2 .92 .3 .92-.5 .91 .2 .92 .2 .91-0 .92-.1 .92-.2 .91 .2 .92 .4 .91-.3 .92-.3 .92 .5 .91-0 .92 .2 .91 .1 .92-.4 .92 .4 .91-.3 .92 .1 .91-.3 .92 .1 .92-0 .91-.4 .92 .4 .91-.3 .92 .5 .92-.7 .91 .6 .92-.4 .91 .2 .92 .2 .92 .1 .91-.3 .92 .2 .91 .3 .92-.3 .92 .4 .91-.3 .92 .3 .91-.1 .92 .1 .92-.3 .91-0 .92-.7 .91 .4 .92 .1 .92 .5 .91-.4 .92-.1 .91 .2 .92-.1 .92-.1 .91-0 .92 .5 .91 .2 .92-.5 .92 .2 .91 .1 .92-.3 .91 .2 .92-.4 .92-.2 .91 .4 .92 .4 .91-.3 .92-.3 .92 .5 .91 .2 .92-.5 .91 .3 .92 .5 .92-.7 .91 .2 .92-.3 .91-.1 .92 0 .92 .6 .91-.1 .92-.2 .91 .6 .92-.6 .92 .1 .91 .2 .92-.4 .91-0 .92 .1 .92-.1 .91 .3 .92-0 .91-.2 .92-.4 .92 .4 .91-.2 .92 .2 .91 .2 .92 .4 .92-.1 .91-.6 .92 .3 .91-.1 .92 .2 .92 .4 .91-.3 .92-.1 .91-.2 .92-0 .92-0 .91 .3 .92 .3 .91-.3 .92-.2 .92 .1 .91 .2 .92 .2 .91 .1 .92-.7 .92-.1 .91 .9 .92-.3 .91 0 .92 .2 .92-.5 .91 .3 .92-.5 .91 .6 .92-.3 .92-0 .91-.3 .92 .7 .91-.2 .92-0 .92-.5 .91 .1 .92 .5 .91-.3 .92 .1 .92 0 .91-.2 .92 .4 .91-.7 .92 1.5 .92-.6 .91-.3 .92 .1 .91-.2 .92 .5 .92-.6 .91-.1 .92 .3 .91-.2 .92 0 .92 .5 .91-1.6 .92 1.4 .91-.4 .92 .3 .92 .1 .91-.1 .92-.4 .91 .4 .92 .1 .92 .4 .91-.4 .92-.4 .91 .1 .92-0 .92 .5 .91-.1 .92-1.2 .91 .9 .92 .5 .92-.6 .91 .4 .92-.2 .91 .1 .92-.1 .92-.3 .91-.2 .92 .7 .91 .3 .92-.4 .92 .3 .91-.1 .92-.4 .91-0 .92 .4 .92-0 .91-.4 .92-.2 .91 .3 .92 0 .92 .3 .91-.4 .92 .3 .91 .2 .92 .1 .92-.6 .91 .6 .92-.2 .91 .4 .92-.6 .92 .2 .91-.2 .92-.1 .91-0 .92 .3 .92 .1 .91-.2 .92 0 .91 .4 .92-.3 .92-.1 .91 .3 .92-.3 .91 .3 .92-.3 .92 .2 .91-.1 .92-.1 .91 .2 .92 .4 .92-.2 .91-.2 .92 .8 .91-1.3 .92 .5 .92-.2 .91-.1 .92 .2 .91 .1 .92-.2 .92 .3 .91-.5 .92 .6 .91 0 .92 .4 .92-.4 .91-.2 .92-0 .91 .2 .92 0 .92-.4 .91-.1 .92 .6 .91-.1 .92-.3 .92 .6 .91-.3 .92-.3 .91 .2 .92 .2 .92-.1 .91-.1 .92 .3 .91-.4 .92 .3 .92 0 .91 .2 .92-0 .91-0 .92 .4 .92-.3 .91-.5 .92 .1 .91 .1 .92 .5 .92-.2 .91-.1 .92-0 .91-.1 .92 .3 .92-.4 .91 .3 .92-.1 .91-.3 .92 .5 .92-.1 .91-.1 .92-.3 .91 .4 .92-.3 .92-.1 .91 .6 .92-.3 .91 .1 .92 .1 .92 .1 .91-.6 .92-.1 .91 .7 .92-.4 .92 .2 .91 .1 .92 .8 .91-1.1 .92 0 .92-.3 .91 .7 .92-.2 .91 0 .92 .5 .92-.8 .91-.1 .92 .2 .91 .4 .92-.5 .92 .1 .91 .4 .92-.4 .91 .1 .92-.1 .92 .4 .91-.3 .92 .4 .91-.3 .92 .2 .92-.3 .91 .4 .92-.8 .91 1.2 .92-.3 .92-.5 .91 .1 .92 .2 .53 0" stroke="#ff8000" stroke-width="3.9"/>
<path d="M189.5 608.4l.5 .1 .5 3.5 .5 3.6 .5 3.7 .5 3.6 .5 3.3 .5 3.4 .5 2.9 .5 3.3 .5 2.9 .5 2.5 .5 2.8 .5 2.6 .5 2.5 .5 2.5 .5 2.2 .5 2.3 .5 2.4 .5 2.2 .5 1.8 .5 2.2 .5 1.7 .5 2.2 .5 2 .5 1.7 .5 1.6 .5 1.5 .5 1.9 .5 1.4 .5 2 .5 1.8 .5 1.5 .5 1.3 .5 1.5 .5 1.3 .5 1.5 .5 1.4 .5 1.4 .5 .9 .5 1.8 .5 1.4 .5 1 .5 1.4 .5 1.3 .5 .7 .5 1.7 .5 .9 .5 1.1 .5 1.3 .5 1 .5 1.1 1 2 1 2.2 1 1.5 1 2.5 1 1.4 1 2.2 1 2.4 1 1.6 1 1.8 1 2 1 1.6 1 1.3 1 1.3 1 2 1 1.4 1 1.6 1 1.2 1 1.4 1 1 1 2 1 .8 1 1.6 1 1.5 1 1.1 1 1.2 1 1.4 1 .6 1 1.6 1 1.5 1 1.1 1 .5 1 1.6 1 1 1 .7 1 1 1 1.3 1 1.3 1 .8 1 .7 1 1.2 1 1.1 1 .7 1 .8 1 1.1 1 .3 .92 1.4 .91 .4 .92 1.1 .91 .9 .92 .6 .92 .6 .91 .9 .92 1 .91 .2 .92 .8 .92 1 .91 .8 .92 .5 .91 .6 .92 1 .92 .2 .91 1.4 .92 .5 .91 .8 .92-0 .92 .7 .91 .7 .92 .4 .91 .8 .92 .9 .92 .1 .91 .8 .92 1 .91 .3 .92 .6 .92 .5 .91 .4 .92 .6 .91 .7 .92 .4 .92 .7 .91 .4 .92 .6 .91 .9 .92 .3 .92 .1 .91 .7 .92 1 .91 .5 .92-.2 .92 .9 .91 .4 .92-.1 .91 1.1 .92 .9 .92-.2 .91 .6 .92 .7 .91 .2 .92 .4 .92 .6 .91 .1 .92 .9 .91-0 .92 .7 .92 .6 .91 .7 .92-.2 .91 .7 .92 .4 .92-.1 .91 .8 .92 .5 .91 .5 .92 .7 .92 0 .91 .4 .92 .3 .91 .4 .92 .5 .92 .7 .91-.2 .92 .6 .91-.2 .92 .5 .92 .8 .91-.1 .92 .9 .91 .6 .92-.2 .92 .4 .91 .5 .92 .3 .91 .4 .92 .2 .92 .7 .91 .2 .92 .3 .91-.2 .92 .7 .92 .5 .91 .5 .92-0 .91 .6 .92 .4 .92-0 .91 .6 .92 .1 .91 .1 .92 .6 .92 .6 .91 .1 .92 .2 .91 .8 .92-0 .92 .2 .91-.2 .92-.7 .91 1.3 .92 1.1 .92 0 .91-.2 .92 .8 .91-.7 .92 1.2 .92 .4 .91 .1 .92 .4 .91 .3 .92-.3 .92 .7 .91 .4 .92 0 .91 .1 .92 .9 .92-0 .91 .1 .92 .2 .91 .4 .92 .5 .92-.1 .91 .5 .92 .2 .91 .2 .92 .3 .92 .2 .91 .1 .92 .1 .91 .7 .92 .4 .92 .1 .91-.1 .92 .5 .91 .1 .92 0 .92 .4 .91 .3 .92 .5 .91-.2 .92 .8 .92-0 .91 .5 .92 .1 .91 .1 .92 .2 .92 .3 .91 .2 .92 .3 .91 .5 .92-0 .92 .4 .91 .1 .92-.1 .91 .4 .92 .3 .92 .2 .91-0 .92 .5 .91-.1 .92 .3 .92 .4 .91 .1 .92-.1 .91 .2 .92 .3 .92 .2 .91 .8 .92-.5 .91 .2 .92 1 .92-.7 .91 .4 .92 .5 .91 .1 .92 .2 .92 .5 .91 .4 .92-.3 .91 .2 .92 .1 .92 .1 .91 .2 .92 .4 .91 0 .92 .4 .92 0 .91 .1 .92 .3 .91 .2 .92 .1 .92 .2 .91 .4 .92-.2 .91 .7 .92-.2 .92 .3 .91 .5 .92 .1 .91-.4 .92 .6 .92 .4 .91-.3 .92 .3 .91 .6 .92-.4 .92 .8 .91-.5 .92 .3 .91 .2 .92 .2 .92 .5 .91 .1 .92 .1 .91 .2 .92-.3 .92 .4 .91 .6 .92-.4 .91 .8 .92-.2 .92-0 .91 .5 .92 .2 .91-.2 .92 .2 .92 .1 .91 .2 .92-.2 .91 .5 .92 .6 .92-.2 .91 .3 .92 .3 .91 0 .92 0 .92 .2 .91 .1 .92 .4 .91-0 .92 .4 .92 .4 .91-.2 .92-.2 .91 .5 .92 0 .92 .1 .91 .1 .92 .1 .91 1.1 .92 .1 .92-.1 .91-.5 .92 .4 .91 .4 .92-.2 .92 .3 .91 .3 .92 .2 .91-.1 .92 .2 .92-0 .91 .1 .92 .3 .91 0 .92 .6 .92-.2 .91-.1 .92 .6 .91-.2 .92 .3 .92 .2 .91-.2 .92 .3 .91 .2 .92-0 .92-.1 .91 1 .92-.5 .91 .2 .92 .1 .92 .2 .91 .3 .92 .1 .91-.1 .92 .3 .92 .2 .91-0 .92 .4 .91-.1 .92 .3 .92-.3 .91 .7 .92-.2 .91-.1 .92 .2 .92 .1 .91 .4 .92-.5 .91 .5 .92 .5 .92 .2 .91-.4 .92 .4 .91 .2 .92-0 .92 0 .91 .5 .92-.1 .91 .2 .92 .2 .92-.2 .91 .1 .92 .8 .91-.6 .92 .6 .92 .2 .91-.2 .92 .1 .91 .1 .92 0 .92 .3 .91 .1 .92 0 .91 .2 .92 .4 .92-.1 .91 .1 .92 .5 .91-.3 .92 .3 .92-.2 .91 .1 .92 .4 .91 .2 .92-.7 .92 .9 .91 .1 .92-0 .91 .2 .92-.2 .92 .4 .91-.2 .92 .3 .91 .1 .92 .2 .92-.2 .91 .4 .92 .2 .91 .2 .92-.2 .92 .3 .91-.1 .92 .3 .91-.1 .92 0 .92 .2 .91 .6 .92 .1 .91-.2 .92 .1 .92 .2 .91-.3 .92 .8 .91-.5 .92 .1 .92 .3 .91-.1 .92 .4 .91 .2 .92-.1 .92 .2 .91-.1 .92-.1 .91 .2 .92 .8 .92-.4 .91-.2 .92-.1 .91 .5 .92 .4 .92-0 .91 .4 .92 .2 .91-.2 .92 .1 .92 .2 .91-.2 .92 .1 .91-.2 .92 .6 .92-.2 .91 .3 .92 .6 .91-.7 .92 .3 .92-.1 .91 .1 .92 .5 .91-.4 .92 .5 .92 .1 .91 .3 .92-.5 .91 .2 .92 .5 .92-.5 .91 .6 .92 .3 .91-.5 .92 .2 .92 .5 .91-.4 .92 .6 .91 .1 .92-.1 .92 0 .91 .1 .92-.2 .91 .6 .92 .1 .92-.1 .91 .2 .92-.3 .91 .2 .92-.2 .92 .5 .91 .4 .92-.1 .91-.1 .92 .2 .92 0 .91 .5 .92-.4 .91 .6 .92-.1 .92-.3 .91 .5 .92 .1 .91-.1 .92 .5 .92-.4 .91 .1 .92 .3 .91 .1 .92-.1 .92 .4 .91-.5 .92 .6 .91-.1 .92 .1 .92-.1 .91 .3 .92-.8 .91 .6 .92 .4 .92 .3 .91-.3 .92 .4 .91 .5 .92-.3 .92 .3 .91-.3 .92-.3 .91 .4 .92 .2 .92-.2 .91 .4 .92-.1 .91 .4 .92-.1 .92 .2 .91 .1 .92-.1 .91 .5 .92-.5 .92 .1 .91 .2 .92 .2 .91-.2 .92 .5 .92-.1 .91 .2 .92-.2 .91 .1 .92 .3 .92-.1 .91 0 .92 .3 .91 .2 .92-.1 .92 .2 .91-.2 .92 .4 .91-.2 .92 .3 .92-.2 .91 .3 .92 .3 .91-.1 .92-.3 .92 .7 .91-.4 .92-.2 .91 .9 .92-.4 .92 .3 .91 0 .92 .4 .91 .1 .92-1.3 .92 1.2 .91-.3 .92 .3 .91 0 .92 .1 .92-.6 .91 .9 .92 .2 .91 0 .92 .3 .92-.3 .91-.1 .92 .3 .91-.5 .92 .5 .92-.1 .91 .1 .92 0 .91 .1 .92 .4 .92-.3 .91 .2 .92 .3 .91-0 .92 .4 .92-.2 .91 .5 .92-.2 .91-.3 .92 .2 .92 .5 .91-.6 .92 .2 .91-.1 .92 .3 .92 .4 .91 .1 .92-.2 .91-.2 .92 .5 .92-.1 .91 .3 .92-0 .91 .2 .92-.3 .92 .2 .91 .1 .92-0 .91 .2 .92-.4 .92 .2 .91-.2 .92 .6 .91 .3 .92-0 .92 .3 .91-.3 .92-.1 .91 .3 .92 .1 .92 0 .91 .3 .92-.4 .91 .1 .92 .2 .92 .4 .91-.4 .92 .6 .91 0 .92-.3 .92 0 .91 .2 .92-.2 .91 .7 .92-.2 .92 .2 .91-.3 .92 .3 .91-0 .92 .4 .92-.5 .91 .6 .92-.2 .91 0 .92-.3 .92 .4 .91 0 .92 .5 .91-.4 .92-.1 .92 .6 .91-.1 .92-.1 .91 .2 .92 .2 .92-.1 .91 .1 .92 .4 .91-.3 .92-.4 .92 .7 .91 .2 .92-0 .91 0 .92-.6 .92 .3 .91 .3 .92 .1 .91 0 .92-.2 .92 .2 .91 .1 .92 .4 .91 .3 .92-.7 .92 .4 .91-.2 .92 .5 .91-.1 .92 .1 .92-0 .91-.1 .92 0 .91 .2 .92 .3 .92 .3 .91-.1 .92-.3 .91 .5 .92-.2 .92-0 .91 .1 .92-.5 .91 .2 .92 .3 .92 .1 .91 .2 .92-.3 .91 .3 .92-.3 .92 .8 .91-.4 .92-0 .91 .4 .92-.1 .92-.1 .91 .6 .92-.5 .91 .4 .92-.2 .92 .4 .91 0 .92-.2 .91 0 .92 .5 .92-.2 .91 .2 .92-0 .91 .2 .92-.1 .92-.1 .91 .5 .92-.3 .91 .1 .92 .2 .92 .1 .91-.3 .92 .2 .91 0 .92 0 .92-.1 .91-.3 .92 .5 .91 .4 .92-.1 .92-.1 .91 .1 .92 .3 .91-.1 .92-0 .92 .2 .91 .2 .92-.1 .91 0 .92-.9 .92 .6 .91 .5 .92-.1 .91 0 .92 .3 .92 .1 .91 .5 .92-.7 .91 .3 .92 .5 .92-.6 .91 .3 .92-.3 .91 .6 .92-.4 .92 .4 .91 .1 .92-.3 .91-.1 .92 .2 .92 .2 .91 .2 .92 .1 .91-.3 .92 .5 .92-.1 .91-.1 .92-.1 .91 0 .92-.2 .92 .4 .91 .2 .92 .4 .91-.1 .92-.4 .92 .4 .91-.3 .92 .8 .91 .1 .92-.4 .92-.1 .91 .4 .92-.1 .91 .1 .92-0 .92-.2 .91 .3 .92 .2 .91-.1 .92-.1 .92 0 .91 .3 .92 .1 .91-.2 .92-.1 .92 .4 .91-.1 .92 .1 .91 .4 .92-0 .92-.7 .91-0 .92 .5 .91-.3 .92-0 .92 .4 .91 0 .92 .1 .91 .2 .92-.2 .92 .2 .91 0 .92 .3 .91-.6 .92 .6 .92-.5 .91 .2 .92 .4 .91 .1 .92 0 .92-.1 .91 .2 .92-.2 .91 .3 .92 .7 .92-1.1 .91 .4 .92-0 .91-.1 .92 .3 .92-0 .91-1.4 .92 1.1 .91 .5 .92 .1 .92 .8 .91-.8 .92 .4 .91-.3 .92-.1 .92 .4 .91-.1 .92 .1 .91-.5 .92 .7 .92-.1 .91 .2 .92 0 .91 .4 .92-.4 .92 .1 .91 .3 .92 0 .91-.1 .92-.1 .92 0 .91 .1 .92-0 .91 .4 .92-.3 .92 .3 .91-.2 .92 .4 .91-.2 .92 .4 .92-.2 .91 0 .92-.1 .91 .1 .92 0 .92 0 .91 0 .92 .4 .91 0 .92-.1 .92 .4 .91-.3 .92-.2 .91 .3 .92 .1 .92-0 .91 .1 .92-.2 .91 .2 .92 .1 .92 .1 .91-.1 .92-0 .91 .2 .92 .1 .92-.1 .91 .1 .92-.2 .91 .6 .92-.5 .92 .9 .91-.6 .92 .4 .91-.3 .92 .2 .92-0 .91-.2 .92-0 .91 .2 .92-.2 .92 .7 .91-.5 .92 .6 .91-.3 .92-.3 .92 .8 .91-.1 .92-.4 .91 .1 .92 0 .92 .4 .91-.4 .92 .2 .91 .4 .92 .2 .92-.5 .91 .1 .92-.3 .91 .7 .92-.4 .92 .2 .91 .2 .92 .1 .91 .1 .92-.3 .92 .2 .91 .1 .92 .2 .91 .1 .92-0 .92-.4 .91 .3 .92-.2 .91 .5 .92-.3 .92 .1 .91 .1 .92-.1 .91 .3 .92 .1 .92-.1 .91-0 .92-.7 .91 .7 .92 .2 .92 0 .91-.8 .92 1 .91 .1 .92-.3 .92-0 .91 .2 .92-.2 .91-.3 .92 .3 .92 .6 .91-.2 .92-.1 .91-.1 .92 .5 .92-.2 .91 0 .92 .1 .91 0 .92 .2 .92 .2 .91-.5 .92 .1 .91 .5 .92-.7 .92 .6 .91 .3 .92-.1 .91 .2 .92 0 .92 0 .91-.1 .92 .3 .91-.4 .92 .1 .92 .5 .91-.5 .92 .2 .91-.1 .92 .4 .92-0 .91 .1 .92-.5 .91-0 .92 .7 .92 .6 .91-1 .92-0 .91-.1 .92 .7 .92-.5 .91 .3 .92 .1 .91-.2 .92 .1 .92 0 .91 .3 .92 .2 .91 0 .92-.5 .92 .1 .91 .2 .92 .2 .91 .1 .92-.6 .92 .6 .91 .2 .92-.2 .91 0 .92-.3 .92 .8 .91-.2 .92-.2 .91 0 .92 .4 .92 .1 .91-.3 .92-.2 .91 .5 .92-.3 .92 .2 .91 0 .92-.1 .91 .5 .92-.5 .92 .6 .91-.4 .92 .2 .91 0 .92 .2 .92-.3 .91 .7 .92-.4 .91 .4 .92-.1 .92-.2 .91-.1 .92 .3 .91 .1 .92-.5 .92 .4 .91 .2 .92 .2 .91-.3 .92 .1 .92-.1 .91-.1 .92 .5 .91-.1 .92-.1 .92 .4 .91-.1 .92-.5 .91-.8 .92 1.3 .92-.1 .91 .6 .92-.7 .91 .5 .92-0 .92-.7 .91 1.1 .92-.6 .91 .2 .92-.1 .92 .1 .91-.1 .92 .1 .91 .3 .92-.4 .92 .3 .91 .1 .92 .1 .91-0 .92 .4 .92-.3 .91-0 .92-.1 .91 .5 .92-0 .92-.5 .91 .1 .92-0 .91 .5 .92-.2 .92 .2 .91-.3 .92 .2 .91 0 .92 .3 .92-.4 .91-.3 .92 .5 .91 .4 .92 .1 .92-.8 .91 .6 .92 .1 .91-0 .92-.2 .92 .3 .91-.1 .92 .4 .91-.4 .92 .5 .92-.3 .91-.1 .92 .4 .91-.2 .92 .2 .92-0 .91-.2 .92 .1 .91 .5 .92-.6 .92 .3 .91 .2 .92-0 .91 .1 .92-.4 .92 .4 .91 .5 .92-1 .91 .5 .92-.1 .92-.1 .91 .4 .92-.1 .91 .3 .92-.2 .92-.4 .91 .3 .92 .2 .91 .1 .92-.2 .92 .3 .91-.3 .92 .5 .91-.2 .92 .1 .92-.7 .91 .7 .92 0 .91-.2 .92 .1 .92 .3 .91-.2 .92 .2 .91-.5 .92 .7 .92-.6 .91 .1 .92 .4 .91-.1 .92-.1 .92 .4 .91-.1 .92 .4 .91-.3 .92 .3 .92-.4 .91 .3 .92 .6 .91-.5 .92-.5 .92 .4 .91 0 .92 .3 .91-.6 .92 .7 .92-.1 .91-.1 .92 .3 .91-.7 .92 1.5 .92-.8 .91 .2 .92-.4 .91 .3 .92-0 .92 .2 .91-.4 .92 .7 .91-.3 .92 .3 .92-.3 .91 0 .92 .1 .91 .2 .92-0 .92-.3 .91 .1 .92 .2 .91-.3 .92 .4 .92-.2 .91 .4 .92 .1 .91-.2 .92-.1 .92 .3 .91-.2 .92 .4 .91-.6 .92 .4 .92-.1 .91 .4 .92-.1 .91 0 .92-.2 .92 .1 .91-.2 .92 .1 .91 .5 .92-.5 .92 .4 .91 .1 .92-0 .91 .2 .92-.7 .92 .7 .91 .2 .92-.6 .91 .2 .92 0 .92-.1 .91 .4 .92-.3 .91 .3 .92 0 .92-.4 .91 .2 .92 .2 .91 .4 .92-.3 .92 .1 .91-1 .92 1.5 .91-.4 .92 .1 .92 .2 .91-.1 .92-.5 .91 .2 .92 .6 .92-.7 .91 .6 .92 .3 .91-.5 .92 0 .92 .3 .91 0 .92-0 .91 .6 .92-.7 .92 .4 .91 1.3 .92-1.5 .91-.1 .92 .7 .92-.6 .91 .4 .92-.6 .91 .4 .92-.5 .92 .2 .91 0 .92 .3 .91 .3 .92 .1 .92-.3 .91-.3 .92-.4 .91 .9 .92-.1 .92-0 .91 .3 .92 0 .91 .3 .92-0 .92 0 .91-.3 .92-.1 .91-0 .92 .1 .92 .3 .91-.5 .92 .3 .91 .2 .92 .3 .92-.4 .91 0 .92 0 .91 .4 .92-.6 .92 .6 .91-.4 .92 .2 .91 .4 .92-.3 .92 .1 .91-.5 .92 .2 .91 .7 .92-.4 .92 .2 .91-.1 .92 .1 .91 0 .92 .2 .92-.3 .91 .1 .92 .2 .91-.1 .92 .1 .92-.1 .91 .2 .92-.1 .91-.3 .92 .2 .92 .4 .91 .5 .92-.7 .91-.3 .92 .7 .92 .4 .91-.7 .92 .1 .91 0 .92 .5 .92-.8 .91 .7 .92-.1 .91-0 .92-0 .92 .2 .91 .1 .92-.5 .91 .3 .92 .2 .92-.4 .91 .5 .92 0 .91-.2 .92-.3 .92 .2 .91-0 .92 .4 .91-.1 .92 0 .92 .2 .91-.1 .92-.1 .91 .1 .92 .1 .92-.1 .91-.1 .92 .1 .91 .2 .92-.4 .92 .2 .91 .1 .92-.2 .91 .6 .92-.3 .92-.4 .91 .8 .92-.1 .91-.7 .92 .8 .92-0 .91-.1 .92 .2 .91-.3 .92 .4 .92-.4 .91 .2 .92-0 .91 .1 .92-.1 .92-.1 .91 .3 .92-.1 .91 .1 .92-.3 .92 .5 .91-.4 .92-0 .91 .2 .92 .4 .92-.2 .91-0 .92 .1 .91-.2 .92 .2 .92 .1 .91-.1 .92-.3 .91 .7 .92-.3 .92-.3 .91 .2 .92 1 .91-.7 .92-.3 .92-.1 .91-.4 .92 .8 .91 .2 .92 0 .92 0 .91 0 .92-0 .91-0 .92 .2 .92-.3 .91 .3 .92-.7 .91 .2 .92 .5 .92-.1 .91-.3 .92 .8 .91 .1 .92-.5 .92 .1 .91-.2 .92-.2 .91 .3 .92-.1 .92 .2 .91-0 .92-0 .91 .1 .92 .4 .92-.6 .91 .3 .92 .3 .91-.2 .92-0 .92-.1 .91-.1 .92 .1 .91 .3 .92-.2 .92 .4 .91-0 .92-.1 .91 .1 .92-.2 .92 .4 .91-.4 .92 .2 .91-.1 .92 0 .92-.1 .91 .3 .92-.3 .91 .5 .92-.2 .92 .1 .91-.2 .92 .1 .91 0 .92-.1 .92 .1 .91-.2 .92 .1 .91 .3 .92-.4 .92-.2 .91 .6 .92 .3 .91-.4 .92 .1 .92-0 .91 .3 .92-.5 .91 .3 .92-0 .92 .4 .91-.3 .92-.1 .91-.1 .92-.4 .92 .2 .91 .1 .92 .2 .91 .2 .92-.6 .92 .7 .91-.1 .92 .1 .91 1.1 .92-1.2 .92 .2 .91 .2 .92-.4 .91 0 .92 .2 .92 0 .91 .1 .92-0 .91 .1 .92-.2 .92-.1 .91 .2 .92 .2 .91-.3 .92 .2 .92 0 .91-0 .92-0 .91 .2 .92-0 .92 0 .91-.2 .92 .2 .91 0 .92-0 .92-.2 .91 .4 .92 0 .91-.2 .92 .3 .92-.4 .91 .2 .92-.2 .91-.9 .92 1.1 .92-.1 .91 .1 .92 .3 .91 .1 .92-.2 .92 0 .91 .1 .92-.1 .91-.2 .92 .3 .92-0 .91 .4 .92-.6 .91 .4 .92 0 .92-.3 .91 .5 .92-.1 .91 .1 .92-0 .92-.3 .91-.3 .92 .6 .91-.1 .92-.5 .92 0 .91 .2 .92 .1 .91-.1 .92-.1 .92 .1 .91 .3 .92 0 .91-.2 .92 .3 .92-.4 .91-.2 .92 .5 .91-.1 .92-0 .92 .1 .91 .2 .92 .1 .91-.2 .92-0 .92 .3 .91-.2 .92-.1 .91-.1 .92 0 .92 .1 .91 0 .92-.1 .91 .5 .92 .2 .92-.5 .91-.1 .92 .3 .91-.6 .92 .2 .92 .2 .91 .3 .92 .1 .91-.2 .92 .1 .92-.3 .91 0 .92 .1 .91 .3 .92-.2 .92 .3 .91-.5 .92 .4 .91 .1 .92-.4 .92 .4 .91-.2 .92-.1 .91 .5 .92-.4 .92 .5 .91-.9 .92 .5 .91 .2 .92-.6 .92 .8 .91-.5 .92 .4 .91-.3 .92 .2 .92 0 .91-0 .92-.5 .91 .5 .92-.5 .92 .5 .91-0 .92-.1 .91 0 .92-.2 .92 .5 .91-.3 .92 .3 .91 .2 .92-.2 .92 .1 .91-.5 .92-0 .91 .4 .92-.4 .92 .5 .91-.3 .92 .5 .91-.4 .92 .1 .92 .4 .91-.3 .92-0 .91 .1 .92-.4 .92-.1 .91 1.3 .92-1.2 .91 .2 .92-.3 .92 .4 .91-.5 .92 .4 .91 .2 .92 0 .92 0 .91-.3 .92 .2 .91-.2 .92 .3 .92 .1 .91-.3 .92 .3 .91-.1 .92-.2 .92 .2 .91-.1 .92-0 .91-0 .92 .5 .92-.8 .91 .3 .92 .3 .91-.6 .92 .3 .92 .2 .91-.3 .92 .1 .91-.1 .92 0 .92-0 .91-.2 .92 .8 .91-.5 .92-0 .92-.2 .91 .1 .92 .1 .91-.4 .92 .7 .92-.2 .91-.2 .92 .1 .91 .1 .92 .1 .92-.2 .91 .3 .92-.3 .91 .3 .92-.3 .92 .1 .91 .4 .92-.2 .91-.2 .92 .2 .92-.2 .91-.1 .92 .4 .91-.2 .92-.4 .92 .4 .91-0 .92 .2 .91-.2 .92 .3 .92-.1 .91-.6 .92 .9 .91-.3 .92-0 .92 .2 .91-.4 .92 .1 .91-.2 .92 .5 .92-.1 .91 .1 .92-.7 .91-0 .92 .5 .92 1.1 .91-1 .92-.1 .91-0 .92-.4 .92 .6 .91-.3 .92-.2 .91 .3 .92-.2 .92-.1 .91 .2 .92 .2 .91-.2 .92 0 .92 .4 .91 .3 .92-.6 .91 .1 .92 .5 .92-1.1 .91 1.2 .92-.5 .91-.2 .92-.1 .92-0 .91 0 .92 .1 .91 .4 .92-.1 .92-.2 .91 .4 .92-.5 .91 .3 .92-.2 .92 .3 .91-.5 .92 .1 .91 .5 .92-.4 .92 .3 .91-.1 .92 .1 .91-.6 .92 .1 .92-.2 .91 .5 .92-.5 .91 .7 .92-.4 .92 0 .91 .4 .92 .3 .91-.3 .92-.2 .92 .4 .91-.4 .92-.2 .91 .1 .92 .1 .92 .3 .91-.4 .92 .3 .91-.3 .92 .4 .92-.5 .91 .4 .92 .2 .91-.6 .92 .3 .92-.1 .91 .2 .92 .3 .91-.4 .92-.1 .92 1 .91-.8 .92 .1 .91 .1 .92 .2 .92-.4 .91 .2 .92-0 .91 .4 .92-.6 .92-.2 .91 .2 .92 .4 .91-.2 .92 .4 .92-.9 .91 1 .92-.6 .91 .2 .92 .3 .92-.4 .91 .3 .92 .2 .91-1.7 .92 1.1 .92 .3 .91-0 .92 .1 .91 .1 .92-.6 .92 .7 .91-.1 .92-.3 .91 .3 .92 .1 .92-.3 .91 0 .92 .3 .91-0 .92 .9 .92-1.2 .91 0 .92-.1 .91 .7 .92-.1 .92 .3 .91-.7 .92 .1 .91 .1 .92 .3 .92-.4 .91 .2 .92 0 .91 0 .92 0 .92 .2 .91 .1 .92-.3 .91 .3 .92 0 .92-0 .91-.3 .92 .4 .91-.3 .92 0 .92 .5 .91-.1 .92-0 .91-.1 .92 .2 .92-.1 .91 .1 .92-.5 .91-.1 .92 .4 .92 0 .91-.1 .92 .4 .91-.3 .92 .3 .92 .3 .91-.5 .92 .1 .91-.1 .92-.3 .92 .4 .91-0 .92 0 .91-0 .92 0 .92 .4 .91-.2 .92-.4 .91 .7 .92-0 .92 .1 .91-.2 .92-0 .91 .2 .92-0 .92-.2 .91 .2 .92 .1 .91 .3 .92-.4 .92 .1 .91-.5 .92 .3 .91-0 .92-.1 .92-.1 .91 .7 .92 .1 .91-.2 .92-.2 .92 .1 .91 .2 .92-.1 .91-.3 .92 .3 .92-.1 .91 .2 .92 0 .91 .2 .92 0 .92-.2 .91 .2 .92-.1 .91 .4 .92-.1 .92-.1 .91 0 .92-.1 .53 .1" stroke="#c85000" stroke-width="3.9"/>
<path d="M189.5 463.5l.5-.2 .5 3.2 .5 3.2 .5 3.4 .5 3.2 .5 3.3 .5 3.1 .5 3 .5 3.1 .5 2.8 .5 2.6 .5 2.8 .5 2.7 .5 2.4 .5 2.6 .5 2.2 .5 2.2 .5 2.3 .5 2.1 .5 2 .5 2 .5 2.1 .5 2.3 .5 1.4 .5 1.9 .5 1.4 .5 2 .5 1.7 .5 1.9 .5 1.6 .5 1.4 .5 1.6 .5 1.4 .5 1.3 .5 1.6 .5 1.4 .5 1.5 .5 1.4 .5 1.1 .5 1.6 .5 .9 .5 1.5 .5 1.3 .5 .8 .5 1.6 .5 1.2 .5 1.4 .5 .8 .5 1.2 .5 1.2 .5 .6 1 2.6 1 1.6 1 2.4 1 2.1 1 1.8 1 1.3 1 2.6 1 1.5 1 1.8 1 1.3 1 1.7 1 2.2 1 1 1 1.5 1 1.5 1 1.7 1 .9 1 1.7 1 1.2 1 2.1 1 1 1 1.1 1 1.3 1 1.1 1 1.2 1 1.3 1 1.6 1 .7 1 1.1 1 1.3 1 1.3 1 .9 1 .7 1 1.3 1 1 1 .7 1 1.2 1 1.2 1 .8 1 1.4 1 .7 1 .7 1 1 1 .8 1 .9 .92 1.1 .91 .6 .92 .4 .91 .9 .92 1.2 .92 .4 .91 .8 .92 1.2 .91 .4 .92 .8 .92 .6 .91 1.1 .92 .3 .91 .6 .92 .9 .92 1.1 .91 .4 .92 .9 .91 .6 .92 .1 .92 .9 .91 .6 .92 .7 .91 .9 .92 .6 .92 .5 .91 .7 .92 .2 .91 .9 .92 .2 .92 .8 .91 .3 .92 1.2 .91 .2 .92 .8 .92 .1 .91 .9 .92 .7 .91 .4 .92 .5 .92 .5 .91 .5 .92 .5 .91 .4 .92 .9 .92 .3 .91 .5 .92 .6 .91 .2 .92 .4 .92 .5 .91 1.2 .92 0 .91 .7 .92-0 .92 .7 .91 .6 .92 .3 .91 .9 .92 .1 .92 .5 .91 .7 .92 .6 .91 .2 .92 .2 .92 .5 .91 .8 .92-.1 .91 .4 .92 .5 .92 .8 .91 .3 .92 .1 .91 .5 .92 .6 .92 .3 .91 .3 .92 .4 .91 .5 .92 .3 .92 .6 .91 .3 .92 .3 .91 .6 .92 .4 .92-.8 .91 1.6 .92 .2 .91 .2 .92 .8 .92 .2 .91 .5 .92 .1 .91 .9 .92 .1 .92 .1 .91 .9 .92-.3 .91 .9 .92-0 .92 .2 .91 .4 .92 .2 .91 .4 .92 .6 .92 .3 .91-0 .92 .7 .91-0 .92 .7 .92 .2 .91 .3 .92 .7 .91-.4 .92 1.3 .92 .5 .91-.2 .92 .2 .91 .1 .92 .7 .92 0 .91 .3 .92 .2 .91 1.3 .92-.3 .92-.2 .91 .6 .92 0 .91 .8 .92-.1 .92 .5 .91 .4 .92 .1 .91 .1 .92 .5 .92 .1 .91 .9 .92 .1 .91-.3 .92 .4 .92 1.1 .91-.1 .92 .1 .91 .5 .92 .2 .92 .4 .91-0 .92 .7 .91-0 .92-.1 .92 .5 .91 .2 .92 .5 .91 .2 .92 .2 .92 .1 .91 .5 .92 .1 .91 .7 .92-.3 .92 .4 .91 .2 .92 .2 .91 .5 .92 .3 .92 .2 .91 .5 .92-.4 .91 .7 .92 .2 .92 .3 .91-.1 .92 .2 .91 .7 .92-.2 .92 .8 .91 .3 .92-.2 .91 .4 .92 .2 .92 .5 .91 .4 .92-0 .91 .2 .92 .3 .92-.2 .91 .4 .92 .4 .91-0 .92 .7 .92-.4 .91 .4 .92 .3 .91 .3 .92-.1 .92 .4 .91 .3 .92 .2 .91 .3 .92-.1 .92 .2 .91-.2 .92 .1 .91 .9 .92-0 .92 .4 .91 .5 .92-.1 .91 .5 .92 .2 .92 .1 .91 .3 .92 .3 .91-.3 .92 .9 .92-.6 .91 .7 .92-0 .91 .2 .92 .4 .92 .1 .91 .1 .92 .3 .91 .1 .92 .4 .92-.1 .91 .6 .92-.2 .91 .5 .92-.1 .92 .8 .91-.4 .92 .7 .91-.1 .92-.1 .92 .9 .91 .1 .92 .3 .91-.3 .92 .5 .92 .4 .91-.1 .92 .7 .91-.4 .92 .4 .92-.2 .91 .2 .92 .3 .91 .2 .92 .3 .92 .2 .91-.4 .92 .7 .91 0 .92-0 .92 .4 .91 .5 .92 .1 .91-.3 .92 .3 .92 .3 .91 .6 .92-.2 .91 0 .92 .4 .92-.4 .91 .7 .92 .4 .91 .1 .92-.4 .92 1.1 .91-.2 .92-0 .91 .2 .92 .4 .92-.1 .91 .2 .92 .3 .91-.2 .92 .6 .92-.2 .91 .5 .92 .3 .91 0 .92 .3 .92-.1 .91 0 .92 .6 .91-.1 .92 0 .92 .2 .91 .2 .92 .4 .91 .2 .92 .3 .92-.4 .91 .4 .92 .2 .91-.3 .92 .6 .92 .3 .91-.2 .92 .1 .91 .9 .92-.6 .92 .8 .91-.1 .92 .1 .91-0 .92 0 .92 .7 .91 .3 .92-.5 .91 .6 .92-.1 .92 .3 .91-0 .92 0 .91-0 .92 .1 .92 .5 .91 .1 .92-.1 .91 .1 .92 .3 .92 .4 .91 .3 .92 .1 .91-0 .92 .3 .92-.3 .91 .8 .92-.2 .91-.1 .92 .1 .92 .1 .91 .3 .92 .4 .91-.4 .92 .7 .92 0 .91-.3 .92-.1 .91 .6 .92 .2 .92 .7 .91 .2 .92-.3 .91 .2 .92-.1 .92 .5 .91-.3 .92 .2 .91 .3 .92 .3 .92 0 .91-.4 .92 .7 .91-0 .92 .3 .92 .3 .91-.5 .92 .5 .91 .3 .92-.4 .92 .8 .91-0 .92 0 .91-.1 .92 .4 .92 .2 .91-.2 .92-.1 .91 .3 .92 .4 .92 .2 .91 .2 .92 0 .91-0 .92 .2 .92-.1 .91 .6 .92-.3 .91-.2 .92 .6 .92-.3 .91 .7 .92 .3 .91-0 .92 .1 .92 .1 .91 0 .92 .1 .91-.1 .92 .5 .92 .2 .91 .3 .92-.3 .91 .2 .92 .4 .92-.3 .91 .1 .92 .2 .91 .1 .92 .5 .92-.6 .91 .3 .92 0 .91 .5 .92 .2 .92-.2 .91 .5 .92-.3 .91 .7 .92-.2 .92 .3 .91-.4 .92 .6 .91-0 .92-.1 .92-.1 .91 .9 .92-.2 .91-.1 .92 .4 .92 .2 .91 .1 .92-.3 .91 .4 .92 0 .92-.2 .91 .5 .92-.1 .91 .5 .92-.2 .92 .3 .91 .2 .92 .3 .91-.1 .92-.3 .92 .7 .91-.2 .92 .3 .91-.1 .92-0 .92-.1 .91 .4 .92 .3 .91-.2 .92 .1 .92 .1 .91 .2 .92 .1 .91 .3 .92-.1 .92 .2 .91-.2 .92 .6 .91-.1 .92-.2 .92 .2 .91 .2 .92 .4 .91-.1 .92 .4 .92-.1 .91-.2 .92 .1 .91 .7 .92-.5 .92 .1 .91 .1 .92 0 .91 .6 .92 .1 .92-.3 .91 .7 .92-.1 .91-.2 .92-.6 .92 .8 .91 .1 .92 .4 .91-.2 .92 .4 .92 .5 .91-.6 .92 .1 .91 .5 .92 .2 .92-.7 .91 .4 .92-.2 .91 .6 .92 0 .92-.1 .91 .4 .92 .3 .91-.9 .92 .4 .92 .3 .91 .3 .92 .2 .91 0 .92 .5 .92-.3 .91-.1 .92-.2 .91 .1 .92 .5 .92 .3 .91-.3 .92 .5 .91-.4 .92 .6 .92-.1 .91 .5 .92-.2 .91 0 .92-0 .92-.1 .91 .2 .92 0 .91 0 .92 .7 .92 .1 .91-.1 .92 .1 .91-.3 .92-.2 .92 .8 .91 .1 .92 .1 .91 .2 .92 0 .92-.2 .91 .4 .92 .1 .91 .3 .92-.1 .92-0 .91 0 .92-.1 .91 .2 .92 .4 .92-.6 .91 .3 .92 .5 .91-.2 .92-.2 .92 .6 .91 .1 .92 0 .91 .1 .92-.3 .92 1 .91-.7 .92-.1 .91 .6 .92 .1 .92-0 .91 .1 .92 .2 .91-0 .92-.4 .92 .5 .91 .1 .92 .1 .91 0 .92-.1 .92 .4 .91 .1 .92 .1 .91-.4 .92 .5 .92 .4 .91-.2 .92-.1 .91 .2 .92 0 .92 .1 .91 .2 .92 .1 .91-.2 .92 .7 .92-.1 .91-.6 .92 .5 .91 .1 .92-.5 .92 .4 .91 .6 .92-.2 .91 .2 .92 0 .92 .1 .91-.1 .92-.1 .91 0 .92 .3 .92 .4 .91 .1 .92 .2 .91-.2 .92-.1 .92 .6 .91-0 .92-.1 .91 .1 .92-.1 .92 .4 .91-.6 .92 .4 .91 .5 .92-.2 .92 .4 .91-.2 .92-.2 .91 .1 .92-.2 .92 .8 .91-.2 .92 .2 .91-.7 .92 .5 .92 .4 .91-.1 .92 .1 .91 .5 .92-.2 .92 .3 .91-.2 .92-.1 .91 .4 .92-.1 .92 .6 .91-.3 .92-.4 .91 .3 .92-0 .92 .6 .91-.3 .92-.2 .91 .3 .92 .4 .92-0 .91-.1 .92 .1 .91-.3 .92 .3 .92 .1 .91-.1 .92 .4 .91-.3 .92 .6 .92-.3 .91-0 .92 0 .91 .2 .92 .3 .92 0 .91-.1 .92 .2 .91-.2 .92 .3 .92 .2 .91 0 .92-.1 .91 0 .92 .3 .92 0 .91-.3 .92 .3 .91 .2 .92 .2 .92-0 .91 .4 .92-.5 .91 .6 .92-.3 .92 .2 .91-.1 .92 .2 .91-.3 .92 .7 .92-.3 .91 .1 .92-.4 .91 .6 .92-.1 .92 .4 .91 0 .92-.3 .91 .1 .92 .6 .92-.3 .91 .4 .92 .1 .91 .1 .92-.5 .92 .1 .91 .2 .92 0 .91 .4 .92-0 .92 .1 .91-0 .92 .1 .91 .1 .92-0 .92-.1 .91 .5 .92-.3 .91-.2 .92-0 .92 .6 .91-.2 .92 .1 .91-.1 .92 .4 .92 .2 .91-.1 .92-.2 .91 .2 .92 .2 .92-.2 .91 0 .92 .1 .91 .7 .92-0 .92-.3 .91 .1 .92 .3 .91 .1 .92-.1 .92-.2 .91 0 .92 .3 .91 .2 .92 0 .92-.1 .91-0 .92 .5 .91-.4 .92 .2 .92 .1 .91 .2 .92 .2 .91-.7 .92-.1 .92 .8 .91 .2 .92 0 .91 0 .92-.1 .92 .1 .91 .5 .92-.5 .91 .4 .92-.2 .92 .1 .91-.2 .92 .2 .91 0 .92-.1 .92 .1 .91-.1 .92 .7 .91-.4 .92 .2 .92 .5 .91-.2 .92-.1 .91 .3 .92-.1 .92 .2 .91-.3 .92 .5 .91-.1 .92-.1 .92-.1 .91 .2 .92-0 .91 .2 .92 .1 .92-.1 .91 .5 .92-0 .91-.5 .92 1.1 .92-.8 .91-.1 .92 .4 .91 .3 .92 .6 .92-.8 .91 .2 .92 .1 .91 .3 .92-.1 .92 0 .91 .1 .92-0 .91 0 .92 0 .92-0 .91 .5 .92-.3 .91 .1 .92-0 .92 .2 .91-.2 .92 .3 .91-.1 .92 .4 .92-.6 .91 .7 .92-.2 .91-.2 .92 .4 .92-.1 .91 .2 .92-.1 .91 .2 .92-0 .92-0 .91-0 .92 .3 .91 .1 .92 0 .92-.2 .91 .2 .92 .1 .91 0 .92 0 .92 .2 .91-.1 .92 .2 .91-.3 .92 .3 .92-0 .91 0 .92 .4 .91-.5 .92 .3 .92 .1 .91 .2 .92-.3 .91 0 .92 .2 .92 .2 .91 .1 .92 .4 .91 .6 .92-.7 .92-.1 .91 .2 .92 0 .91-.1 .92 0 .92 .5 .91 0 .92-.4 .91 .5 .92-.4 .92 .2 .91 .1 .92 0 .91 0 .92 0 .92 0 .91 0 .92 .4 .91 .2 .92-.4 .92 .4 .91 .1 .92-.4 .91 .5 .92 .4 .92-.5 .91-.1 .92 .4 .91-0 .92-.2 .92-.3 .91 .8 .92-.8 .91 .6 .92-.5 .92 .5 .91 .1 .92 .1 .91 .2 .92 .1 .92-.3 .91 .4 .92 0 .91-.3 .92 .4 .92-.2 .91 .2 .92-.2 .91 .3 .92 .3 .92-.3 .91 .2 .92 .4 .91 .2 .92-.7 .92 .2 .91-.4 .92 .2 .91 .8 .92-.4 .92 0 .91 .1 .92 .3 .91-.4 .92 .1 .92 .2 .91-0 .92 .2 .91 .3 .92-.4 .92 .2 .91 .4 .92-.3 .91-.2 .92 .5 .92 0 .91 .3 .92-.4 .91 .3 .92 .1 .92-.6 .91 .4 .92 .5 .91-.5 .92 .5 .92-.3 .91-.2 .92-.2 .91 .4 .92-.1 .92 .8 .91-.9 .92 .8 .91-.2 .92 .3 .92-.5 .91 .4 .92-.2 .91 .4 .92 .7 .92-.6 .91-.1 .92 .2 .91 0 .92-.2 .92-.3 .91 .4 .92-.3 .91 .3 .92 .8 .92-.1 .91-.5 .92 .4 .91 .2 .92-.3 .92-.3 .91 0 .92 .8 .91 0 .92 0 .92-.1 .91 0 .92 .1 .91-.1 .92 .2 .92 .1 .91-.3 .92 .7 .91-.3 .92 .1 .92-.3 .91 .2 .92 0 .91-.1 .92 .1 .92 .7 .91-.4 .92 .4 .91-.3 .92 0 .92-.1 .91 .3 .92-.2 .91 .3 .92-.4 .92 .2 .91 .2 .92 .2 .91-.3 .92 .3 .92 .1 .91 .1 .92-.1 .91 .1 .92-0 .92-.2 .91 .6 .92-.4 .91 .2 .92 .4 .92-.2 .91-0 .92-.1 .91-0 .92-.1 .92 .3 .91 .4 .92-.2 .91-.3 .92 .5 .92-.4 .91 .1 .92 .4 .91-0 .92 .2 .92-.5 .91 .4 .92-0 .91-.1 .92 .1 .92-.4 .91 .5 .92-.2 .91 .3 .92-.2 .92 .4 .91-0 .92-.1 .91 .1 .92-.1 .92 .4 .91-.1 .92-0 .91 0 .92 0 .92 .1 .91-.1 .92-.1 .91-.1 .92 .1 .92 .6 .91-.3 .92 .3 .91 .2 .92-.2 .92-0 .91 .1 .92 .2 .91-.3 .92 .3 .92 .4 .91-.2 .92-0 .91-0 .92-.1 .92-.2 .91 .5 .92 0 .91-.4 .92 .4 .92 .3 .91-.1 .92 0 .91-.3 .92 .1 .92 .2 .91 .3 .92-.3 .91 .5 .92-.6 .92 .2 .91 .4 .92-.5 .91 .5 .92-0 .92 0 .91-0 .92-0 .91-.2 .92 .2 .92-0 .91-.2 .92 .1 .91 .5 .92-.2 .92-.1 .91 .2 .92-.3 .91 .6 .92 .1 .92 .2 .91-.4 .92 .3 .91-.3 .92 0 .92 .1 .91 .2 .92-.1 .91 .2 .92-.2 .92-0 .91 .4 .92-.4 .91 .2 .92 .4 .92-.2 .91 .1 .92-.1 .91-0 .92 .4 .92-.2 .91 0 .92 .2 .91-.3 .92 .3 .92-.8 .91 1.1 .92-0 .91-.5 .92 .4 .92 0 .91-.3 .92 .3 .91-.1 .92 .1 .92 .1 .91 .2 .92-.2 .91 0 .92 0 .92-.1 .91 .4 .92 .9 .91-.6 .92-.5 .92 .4 .91-.2 .92 .4 .91-.5 .92 .7 .92-.6 .91 .5 .92 .2 .91-.2 .92 .4 .92-.4 .91 1 .92-1 .91 .2 .92 .2 .92 .4 .91-.6 .92-0 .91 .5 .92-.2 .92-.2 .91 .2 .92 .2 .91-.3 .92-.2 .92 .6 .91 0 .92-.3 .91 .3 .92 .3 .92-.5 .91 .1 .92 .5 .91 .3 .92-.1 .92-.2 .91-.1 .92 .2 .91-.4 .92 .1 .92 .4 .91 0 .92 .1 .91 0 .92-.1 .92-.2 .91 .4 .92-0 .91-.8 .92 1 .92-.1 .91 .1 .92-.3 .91 .1 .92 .8 .92-.7 .91 .1 .92 .3 .91-.6 .92 .5 .92 .1 .91 .1 .92 0 .91-.4 .92 .4 .92 .1 .91-.6 .92 .7 .91-.2 .92 .2 .92-0 .91-0 .92 .2 .91-0 .92 .1 .92-.1 .91-.2 .92 .6 .91-.3 .92-.3 .92 .5 .91-.1 .92 .2 .91 .1 .92-.2 .92-.2 .91 .5 .92-.3 .91 .1 .92 .2 .92-.2 .91 0 .92 .5 .91-.3 .92 .1 .92-.1 .91 .1 .92-.1 .91 .2 .92-0 .92 0 .91-0 .92 .7 .91-.3 .92-.4 .92-.1 .91 .5 .92-.1 .91-.1 .92 .3 .92-.3 .91 .6 .92-.3 .91-.2 .92-.1 .92 .7 .91-.4 .92 .1 .91 .1 .92-.2 .92-0 .91 .1 .92 .4 .91-.2 .92-.1 .92 .1 .91 .5 .92-.1 .91-.3 .92 .2 .92-0 .91 .1 .92 .4 .91-.5 .92 .2 .92 .1 .91-0 .92-.1 .91-.1 .92 .1 .92-.3 .91 .2 .92 .2 .91 .3 .92 .1 .92-.2 .91-.1 .92-.1 .91-0 .92 .4 .92 .1 .91-.1 .92-.2 .91 .1 .92 .5 .92-.2 .91-.1 .92 .3 .91-.1 .92-.4 .92 .5 .91 0 .92 .3 .91-.5 .92 .4 .92 0 .91-0 .92-0 .91-0 .92-0 .92 .1 .91 .1 .92-.1 .91-.1 .92 .1 .92 0 .91 .1 .92 .1 .91-.3 .92 .4 .92 .4 .91-.2 .92-.3 .91-.2 .92 .3 .92 .1 .91 .1 .92-.2 .91 0 .92 .4 .92-.2 .91 .4 .92-.5 .91-.1 .92 .5 .92-.3 .91 .1 .92 .4 .91-.2 .92 .5 .92-.5 .91 .2 .92 .1 .91 .1 .92-0 .92-.2 .91-.1 .92 .4 .91 .4 .92-.3 .92-.5 .91 0 .92 .4 .91-.2 .92 .2 .92 .1 .91-0 .92 .1 .91 .3 .92-.5 .92 .3 .91-.2 .92 .1 .91-.1 .92 .4 .92-.2 .91 .5 .92-.1 .91-.5 .92 .5 .92-.2 .91 0 .92 .4 .91 .2 .92-.7 .92 .1 .91 .1 .92 .3 .91-.2 .92 .3 .92-.7 .91 .1 .92 .7 .91 .1 .92-.5 .92 0 .91 .2 .92 .1 .91 0 .92-0 .92 .7 .91-.3 .92-.3 .91 0 .92 .2 .92 .1 .91 .3 .92-0 .91-.2 .92-.2 .92 .4 .91-0 .92-.7 .91 .2 .92 .3 .92 .2 .91-.1 .92-0 .91-.1 .92 .6 .92-.4 .91-.5 .92 .4 .91 .3 .92-.3 .92 .6 .91-.6 .92 .2 .91-.2 .92 .5 .92-.4 .91 0 .92 .5 .91 .2 .92-.4 .92 .5 .91-.1 .92-.6 .91 .6 .92 .2 .92-.2 .91-.2 .92 .1 .91-.1 .92 .3 .92 .2 .91-.1 .92 0 .91 .4 .92-.4 .92 .3 .91-.5 .92 .2 .91 .3 .92 .2 .92-.1 .91 0 .92-.1 .91 .2 .92 0 .92-.2 .91-.4 .92 .3 .91 .7 .92-.5 .92 0 .91-.1 .92 .3 .91-.2 .92 .4 .92-.1 .91-.5 .92 .3 .91 .2 .92-.1 .92 .1 .91 .1 .92-.1 .91-.1 .92 .3 .92-.1 .91-.1 .92 .1 .91 .5 .92-.3 .92-.2 .91 .1 .92-0 .91 0 .92 .1 .92 .3 .91-.2 .92-.1 .91 .4 .92-.1 .92-0 .91 0 .92-0 .91 .2 .92-.3 .92 0 .91 .3 .92-.3 .91 .1 .92 .2 .92 .5 .91-.5 .92 .2 .91-.3 .92 .1 .92 .6 .91-.3 .92-0 .91-.2 .92 .4 .92-.1 .91 .1 .92 0 .91-.2 .92-.1 .92 .2 .91 .1 .92 .1 .91-.1 .92-.3 .92 .7 .91-.2 .92-.4 .91 .7 .92-.6 .92-.1 .91 .1 .92 .6 .91-.2 .92-.1 .92 .1 .91 .3 .92-.4 .91 .3 .92-.1 .92 0 .91 .2 .92-.1 .91 .1 .92-.1 .92-.2 .91 .2 .92 .2 .91 .5 .92-.6 .92 .3 .91-.3 .92 .3 .91 .1 .92-.2 .92 .1 .91-.2 .92 .2 .91 .1 .92 .1 .92-.2 .91-0 .92 0 .91 .1 .92 .2 .92 .1 .91-.4 .92 .4 .91-.1 .92-.2 .92 .1 .91-.1 .92-.5 .91 .7 .92 .1 .92-.1 .91 .2 .92 .1 .91-0 .92-0 .92-0 .91-.5 .92 .5 .91-.4 .92 .6 .92-.3 .91 0 .92-0 .91 .3 .92-.3 .92 .1 .91-0 .92 .2 .91-.2 .92 .3 .92-.1 .91-.1 .92 .2 .91-.1 .92-.1 .92 .2 .91-.4 .92 .4 .91 .2 .92-.3 .92 .3 .91 .1 .92-.3 .91 .5 .92-.4 .92 .3 .91-.1 .92 .2 .91-.2 .92 .1 .92 .2 .91 .1 .92-.2 .91 .1 .92-.4 .92 .1 .91 .2 .92 .1 .91 .1 .92 .2 .92-.3 .91 .2 .92-0 .91-.3 .92-.2 .92 .4 .91-0 .92 .3 .91-.1 .92 .1 .92-.2 .91-0 .92 .2 .91 .2 .92-.5 .92 .2 .91-.2 .92 .1 .91 .3 .92-0 .92-.2 .91 .2 .92 .3 .91-.5 .92 .4 .92-.1 .91-.5 .92 .9 .91 0 .92-.5 .92 .1 .91-.1 .92 .2 .91 0 .92 .3 .92-.1 .91-.1 .92-0 .91 .3 .92-.3 .92 0 .91 .2 .92 .1 .91-.3 .92 .1 .92 .6 .91-.8 .92 .4 .91-.1 .92 .4 .92-.4 .91-.2 .92 .3 .91-.1 .92 .4 .92-0 .91-.1 .92 .1 .91-.3 .92 .1 .92 .3 .91-.3 .92 .1 .91-.2 .92 .2 .92 0 .91 .1 .92 .1 .91-.2 .92 .3 .92-.1 .91 .1 .92-.1 .91-.1 .92 .2 .92-.1 .91 0 .92-0 .91-.4 .92 .9 .92-.2 .91 .2 .92-.3 .91 .2 .92-.2 .92-.3 .91 .7 .92-.2 .91 .3 .92-.2 .92 .2 .91-1.4 .92 1.5 .91-.4 .92 .2 .92-.3 .91-0 .92 .6 .91-.8 .92 .6 .92-0 .91-0 .92-.3 .91 .3 .92-.3 .92 .1 .91 .1 .92 .3 .91-.2 .92 0 .92 .2 .91 0 .92-.3 .91 .5 .92-.2 .92-.1 .91-.3 .92 .3 .91 .1 .92 .1 .92-0 .91-.1 .92 0 .91-.2 .92 .1 .92 .4 .91-.2 .92 .2 .91-0 .92 .2 .92-.5 .91 .2 .92-.4 .91 .3 .92 .1 .92 .4 .91-.3 .92-.2 .91 .6 .92 .1 .92-.2 .91-.2 .92 .4 .91-.6 .92 .3 .92-.3 .91 .6 .92-.1 .91 0 .92 .1 .92-.3 .91-.2 .92 .1 .91 .4 .92-0 .92-.7 .91 1 .92-.2 .91 0 .92-0 .92-.1 .91-0 .92-0 .91-.1 .92-.2 .92 .3 .91 .2 .92-.3 .91 .2 .92 0 .92-.1 .91-0 .92 .1 .91-.1 .92-.2 .92 .6 .91 .4 .92-.6 .91 .2 .92-.5 .92 .3 .91 0 .92 .2 .91-.3 .92 .3 .92-.2 .91 .3 .92-.3 .91-0 .92 0 .92-0 .91 .1 .92-.1 .91 .2 .92-.1 .92 .1 .91-.1 .92 .1 .91 .3 .92-0 .92-.2 .91 .3 .92-.1 .91-.4 .92 .1 .92-.1 .91 0 .92 .6 .91-.4 .92 0 .92 .9 .91-1 .92 .2 .91 .3 .92-.1 .92 0 .91 .2 .92-.5 .91 0 .92 .5 .92-.1 .91-.1 .92 0 .91 .2 .92 .1 .92-.5 .91 .4 .92 .4 .91-.6 .92 .3 .92 .3 .91-.5 .92 .1 .91-.4 .92 .3 .92-.3 .91 .6 .92 .6 .91-.7 .92 .1 .92-.6 .91 1 .92-.3 .91 0 .92 .4 .92-.5 .91-0 .92-.1 .91-.3 .92 1.2 .92-.8 .91-.2 .92 .1 .91 .3 .92 .2 .92-.2 .91-.3 .92 0 .91 .4 .92 .2 .92-.3 .91-.5 .92 .7 .91-.4 .92 .3 .92 0 .91 .1 .92-.3 .91-0 .92 .2 .92 .2 .91-.2 .92-.1 .91-.1 .92-.2 .92 .5 .91-.2 .92-.4 .91 .9 .92-.1 .92 .1 .91-.4 .92 .2 .91-.4 .92 .4 .92-0 .91 .1 .92-.4 .91 .5 .92 .1 .92-0 .91-.1 .92 .1 .91-.1 .92-.2 .92-.2 .91-0 .92 .3 .53-.1" stroke="#009015" stroke-width="3.9"/>
<path d="M189.5 366.1l.5 0 .5 2.1 .5 2.8 .5 2.9 .5 3.1 .5 3.2 .5 3 .5 3 .5 3 .5 3 .5 2.7 .5 2.8 .5 2.7 .5 2.6 .5 2.4 .5 2.7 .5 2.3 .5 2.4 .5 2.2 .5 2.3 .5 2 .5 2 .5 2.2 .5 2.1 .5 1.8 .5 2 .5 2 .5 1.4 .5 2.2 .5 1.7 .5 1.5 .5 1.7 .5 1.6 .5 1.8 .5 1.4 .5 1.7 .5 1.6 .5 1 .5 1.8 .5 1.4 .5 1.3 .5 1.6 .5 1.3 .5 1.1 .5 1.4 .5 1.4 .5 1.2 .5 1.2 .5 1.8 .5 1.1 .5 1.2 1 2.1 1 1.8 1 2.5 1 2.5 1 1.9 1 2 1 2.2 1 2.3 1 1.5 1 1.9 1 1.6 1 2.3 1 1.4 1 1.6 1 1.7 1 1.5 1 1.8 1 2 1 1.1 1 1.6 1 1.2 1 1.6 1 1.1 1 2 1 .9 1 1.6 1 1.3 1 1.5 1 1.1 1 1.3 1 .8 1 1.3 1 1.2 1 1.2 1 1.1 1 1.6 1 .9 1 1.1 1 .9 1 1.1 1 .9 1 1.6 1 .8 1 1.2 1 .9 .92 .7 .91 1 .92 .5 .91 1.5 .92 .7 .92 .9 .91 .8 .92 1.2 .91 .4 .92 .9 .92 .6 .91 .9 .92 1.1 .91 .8 .92 .5 .92 .5 .91 .7 .92 1.1 .91 .6 .92 1 .92 1.5 .91-.3 .92 1.2 .91 .7 .92 .2 .92 .8 .91 .9 .92 .4 .91 .3 .92 1.4 .92 .3 .91 .7 .92 .9 .91 .6 .92 .6 .92 .9 .91 .6 .92-0 .91 1.2 .92 .4 .92 .7 .91 .7 .92 .8 .91 .4 .92 .4 .92 .9 .91-.1 .92 1 .91 .5 .92 .3 .92 .5 .91 .6 .92 .6 .91 .9 .92 .4 .92 .4 .91 .6 .92 .9 .91 .1 .92 .5 .92 1.1 .91-.1 .92 .8 .91 .6 .92 .3 .92 .4 .91 .8 .92 .3 .91 .6 .92 .3 .92 .9 .91-.1 .92 .4 .91 .5 .92 .7 .92 .3 .91 .6 .92 .3 .91 .7 .92 .1 .92 .5 .91 .6 .92 .4 .91 .4 .92 .5 .92 .4 .91 .6 .92 .5 .91 .6 .92 .2 .92 .2 .91 .3 .92 .4 .91 .3 .92 .9 .92 .6 .91 .1 .92 .4 .91-.1 .92 .8 .92 .3 .91 .6 .92 .2 .91 .3 .92 .4 .92 .4 .91 1 .92 .1 .91-.1 .92 .6 .92 .2 .91 1.7 .92-1.1 .91 .9 .92 .4 .92 .6 .91 .3 .92-.1 .91 0 .92 .5 .92 .4 .91 .5 .92 .2 .91 .2 .92 .8 .92 .2 .91 .2 .92 .4 .91 .3 .92 .2 .92 1.1 .91-.3 .92 .3 .91 .8 .92-.1 .92 .4 .91 .1 .92 .4 .91 0 .92 .9 .92 .6 .91-.1 .92 .4 .91 .5 .92 .3 .92-.2 .91 .4 .92 .3 .91 .7 .92-.2 .92 .4 .91 .4 .92 .3 .91 .4 .92 .1 .92 .7 .91-.2 .92 .9 .91-.1 .92 .4 .92-.1 .91 .6 .92-0 .91 .2 .92 .8 .92 .1 .91-0 .92 .1 .91 .9 .92 .1 .92 .4 .91 .3 .92 .4 .91-.5 .92 0 .92 1.2 .91-.3 .92 .9 .91 .1 .92 .2 .92 .2 .91-0 .92 .6 .91 .2 .92 .4 .92 .6 .91-.3 .92 .5 .91 .6 .92-.3 .92 .2 .91 .3 .92 .1 .91 .2 .92 .7 .92 .5 .91 0 .92 0 .91 .3 .92 .4 .92 0 .91 .4 .92 .2 .91 .5 .92 .4 .92 0 .91-.1 .92 .4 .91 .5 .92 .5 .92-.3 .91 1 .92-.5 .91 .3 .92 .4 .92-0 .91 .4 .92 .2 .91 .1 .92 .3 .92 .4 .91 .4 .92 .5 .91-.3 .92-.1 .92 .5 .91-.1 .92 .6 .91-.1 .92 .8 .92-.1 .91 .3 .92 .2 .91 .6 .92-.5 .92 .8 .91 .3 .92 .1 .91 .1 .92 .3 .92 0 .91 .1 .92 .6 .91 .2 .92 .3 .92-0 .91 .4 .92 .1 .91 .5 .92-.2 .92-.2 .91 .4 .92 .5 .91-.1 .92 .6 .92-.3 .91 .6 .92 .3 .91-.4 .92 .8 .92 .4 .91-.2 .92 .2 .91 .2 .92 .5 .92 .2 .91-.1 .92 .2 .91 .5 .92 0 .92 .6 .91-.2 .92 0 .91 .1 .92 .3 .92-0 .91 .6 .92 .5 .91-.5 .92 .2 .92 .3 .91 .4 .92 0 .91 .6 .92 .2 .92-.2 .91 .3 .92 .1 .91 .5 .92 .4 .92-.4 .91 .3 .92 .1 .91 .6 .92 .1 .92-.1 .91 .3 .92 .7 .91 .2 .92-.5 .92 .4 .91 .1 .92 .3 .91-.1 .92 .5 .92 .3 .91 .2 .92-.4 .91 .9 .92-.4 .92 0 .91 .8 .92 .1 .91-0 .92 .3 .92 .2 .91 .1 .92-.2 .91 .4 .92 .2 .92 .4 .91 .3 .92-.2 .91 0 .92 .2 .92 .5 .91-.2 .92 .8 .91-.2 .92 .1 .92 .3 .91 0 .92-0 .91 .4 .92 .2 .92-0 .91 .2 .92 .2 .91-.3 .92 .4 .92 .3 .91-0 .92 .5 .91 .2 .92-1.2 .92 1.2 .91 .4 .92 0 .91 .3 .92 .2 .92-.3 .91 .6 .92-.1 .91-.2 .92 .8 .92-.2 .91 .3 .92 .4 .91 .2 .92-.1 .92-0 .91 0 .92 .7 .91-.1 .92 .6 .92 .6 .91-.9 .92 .7 .91-.5 .92 .4 .92 .2 .91-.1 .92 .4 .91 .2 .92 .6 .92-.1 .91-.3 .92 .4 .91 .3 .92-.2 .92 0 .91 .3 .92-.1 .91 .5 .92-0 .92 .5 .91-.2 .92-.1 .91 .6 .92-.1 .92 0 .91 .4 .92-.1 .91-.1 .92 .3 .92 .6 .91 .3 .92-.3 .91 .3 .92-.4 .92 .7 .91-0 .92 .3 .91-.1 .92 .2 .92-.2 .91 .6 .92-.1 .91 .3 .92 .4 .92-.8 .91 .9 .92 0 .91 .1 .92 .3 .92-.2 .91-.2 .92 .4 .91 .2 .92-1.1 .92 1.6 .91 .1 .92-.2 .91 .4 .92 0 .92 .2 .91 .1 .92 .4 .91-.1 .92 .5 .92-.2 .91 .3 .92 .2 .91-.5 .92 .5 .92 .1 .91 .2 .92 .2 .91 .2 .92 0 .92-.1 .91 .8 .92-.5 .91 .2 .92-.1 .92-0 .91 .1 .92 .7 .91-0 .92-.2 .92 .4 .91-.2 .92 .1 .91-.1 .92 .4 .92 .4 .91 .5 .92-.5 .91 .3 .92 .1 .92 .2 .91-.2 .92 0 .91 .6 .92-.4 .92 .5 .91-.1 .92 .2 .91 .3 .92-1.1 .92 1.7 .91-.7 .92 .1 .91 .5 .92-.7 .92 .6 .91 .4 .92-0 .91 .1 .92 .1 .92 .1 .91 .1 .92 .6 .91-.2 .92-.2 .92 .2 .91 .4 .92 .2 .91-.5 .92 .4 .92-.4 .91 .5 .92 .6 .91-.1 .92-.1 .92-.1 .91 .4 .92 .1 .91 .1 .92 .2 .92 0 .91-.3 .92 .3 .91 .2 .92-.1 .92 .7 .91-.4 .92 .4 .91 .1 .92 .1 .92 0 .91-.1 .92 .4 .91 .2 .92-.3 .92 .6 .91-.3 .92 .5 .91-.2 .92 .5 .92 .1 .91 .1 .92 .2 .91-.4 .92-.6 .92 .5 .91 .2 .92 .5 .91 .1 .92-.3 .92 .5 .91-.2 .92 .1 .91 .3 .92-.3 .92 .6 .91 0 .92 .4 .91-.1 .92-0 .92 .3 .91-.2 .92 .1 .91-.6 .92 .6 .92 .3 .91 .3 .92 .2 .91 .1 .92-.3 .92 .2 .91-.1 .92-.1 .91 .7 .92-.5 .92 .6 .91-.2 .92 .2 .91 .3 .92-.3 .92 .4 .91-.2 .92 .3 .91 0 .92 .2 .92-.7 .91 .8 .92 .2 .91-.2 .92 .6 .92-.1 .91-0 .92-0 .91 .2 .92-.1 .92 .3 .91 0 .92 .4 .91-.3 .92-0 .92 .4 .91-.1 .92 .5 .91-.9 .92 .6 .92 .1 .91-0 .92 .3 .91 .6 .92-.5 .92 .5 .91-.4 .92 .1 .91 .2 .92 .5 .92-.2 .91 .1 .92-.2 .91 .2 .92 1.4 .92-1.5 .91-.1 .92 .5 .91-.1 .92 0 .92-.1 .91 .7 .92-0 .91-0 .92 .3 .92 .2 .91-.2 .92 .3 .91-.4 .92 .4 .92-.2 .91 .3 .92 .4 .91-.3 .92 .6 .92-.1 .91 0 .92-.4 .91 .4 .92 .2 .92 .2 .91-.2 .92-.2 .91 .6 .92-.5 .92 .3 .91-.2 .92 .5 .91 .3 .92 .1 .92-.8 .91 .9 .92-0 .91 .1 .92 .2 .92-0 .91 .3 .92-.5 .91 .4 .92 0 .92-.2 .91 .4 .92-0 .91-.1 .92 .4 .92-.1 .91 .4 .92-.3 .91 1 .92-.6 .92 0 .91 .3 .92 .3 .91-.4 .92 .1 .92 0 .91 .2 .92-1.1 .91 1.5 .92 .1 .92 0 .91-.2 .92-.3 .91 .2 .92 .3 .92-0 .91-.2 .92 .3 .91-.2 .92 .2 .92 .4 .91-.2 .92 0 .91 .2 .92-.2 .92 .6 .91 .2 .92 0 .91-.2 .92 .1 .92 .6 .91-.3 .92-.1 .91 .4 .92-.4 .92 1.2 .91-.4 .92-.1 .91-.8 .92 .8 .92 .2 .91-0 .92 .5 .91-.6 .92 .1 .92 .4 .91-.1 .92 .3 .91-.2 .92-.1 .92-0 .91 .3 .92-0 .91 .3 .92-0 .92-.4 .91 .7 .92-.3 .91-.1 .92 .8 .92-.4 .91 .1 .92 .2 .91-.3 .92 .3 .92 .2 .91-.2 .92 .3 .91 .2 .92-.1 .92-.4 .91 .4 .92 .2 .91 .4 .92-.1 .92-0 .91-.3 .92 .4 .91 .5 .92-.5 .92 0 .91 .2 .92 .2 .91-.2 .92 .2 .92-.2 .91 .2 .92 .2 .91-.1 .92-0 .92 1.3 .91-1 .92 .6 .91-.8 .92 .4 .92 0 .91 .6 .92-.2 .91-.1 .92 .2 .92-.1 .91 .2 .92-.4 .91-.1 .92 .5 .92 .1 .91 .1 .92 .4 .91-.3 .92 .1 .92-.1 .91-.2 .92 .2 .91 .2 .92 .2 .92 1 .91-.7 .92-.1 .91-.3 .92 .6 .92-.2 .91-.4 .92 .7 .91 0 .92 .1 .92 .1 .91-.2 .92 .2 .91-.1 .92 .2 .92 .3 .91-0 .92-.2 .91 .5 .92-.3 .92-.4 .91 .9 .92-0 .91 .1 .92-.2 .92-0 .91-.1 .92 .4 .91 .4 .92-.2 .92 0 .91-.2 .92 .2 .91 .2 .92-.1 .92 .5 .91-.9 .92 .7 .91-.1 .92 .1 .92 .1 .91-0 .92 .1 .91 0 .92-.2 .92 .5 .91 .1 .92-.4 .91 .4 .92-0 .92 .1 .91 0 .92-.1 .91 .3 .92-.4 .92 .8 .91-.5 .92 .1 .91 .4 .92-.1 .92 .2 .91 1 .92-.9 .91-.1 .92-.2 .92 .3 .91-.1 .92 .3 .91-.6 .92 .5 .92 .1 .91-0 .92 .4 .91 .1 .92-.6 .92 .8 .91-.3 .92 .2 .91 .1 .92-.2 .92 .2 .91 .2 .92-.2 .91 .2 .92 .2 .92-.1 .91-0 .92-0 .91 0 .92 .1 .92-.1 .91 .3 .92-.3 .91 .5 .92 .4 .92-.2 .91-.2 .92 .3 .91-.1 .92-.1 .92 .6 .91-.1 .92-0 .91-.1 .92-.2 .92 .2 .91 .3 .92-0 .91 .1 .92-.2 .92-.4 .91 .8 .92 .1 .91 .2 .92 0 .92-0 .91-.3 .92-.2 .91 .3 .92-0 .92-.1 .91 .3 .92 .3 .91-.5 .92 .5 .92 .1 .91-.3 .92 .2 .91-0 .92-.1 .92 .5 .91 .1 .92 0 .91-.1 .92-.1 .92 .5 .91-.7 .92 .6 .91-.2 .92-.1 .92 .6 .91 .2 .92-.4 .91 0 .92 .2 .92-0 .91 1.2 .92-1.3 .91 .1 .92 .3 .92-.1 .91 0 .92 .1 .91 .1 .92 .4 .92-.5 .91 .5 .92-.3 .91-0 .92 .5 .92-.1 .91 .2 .92 0 .91-.2 .92-.1 .92 .3 .91-.2 .92 .2 .91 .5 .92-.6 .92 .1 .91 .5 .92 .1 .91-.2 .92 .1 .92-.1 .91 0 .92 .2 .91 .2 .92-.4 .92-0 .91 .5 .92-.2 .91 .4 .92-.1 .92-.2 .91 .3 .92 .7 .91-.6 .92-.1 .92-.2 .91 .6 .92 .2 .91-.2 .92-0 .92-0 .91 .1 .92-0 .91 .2 .92-0 .92 0 .91 1 .92-1.1 .91 .1 .92-0 .92 .2 .91 .1 .92 .4 .91-.4 .92 .1 .92 .1 .91-.2 .92 .2 .91-.3 .92 .6 .92 .1 .91 0 .92 .3 .91-.2 .92 .2 .92-.1 .91-.1 .92 .1 .91 .2 .92-0 .92-.4 .91 .1 .92 .1 .91-.1 .92 .2 .92 0 .91 0 .92 .3 .91 .3 .92 .1 .92 .1 .91 0 .92-.8 .91 1 .92-.3 .92-.3 .91 .2 .92 .1 .91-0 .92 .4 .92-.2 .91 .5 .92 0 .91-.7 .92 .3 .92 .4 .91-.1 .92-0 .91 0 .92-0 .92-0 .91 .3 .92-.1 .91-.1 .92-.2 .92 .5 .91-.1 .92-.4 .91 .6 .92-.2 .92 .3 .91-.1 .92 .4 .91-.5 .92 .7 .92-.3 .91 .5 .92-.3 .91-0 .92-.2 .92 1.3 .91-.7 .92-.2 .91-.1 .92 0 .92 .1 .91 .2 .92-.2 .91 .1 .92 .4 .92-.3 .91 0 .92 .4 .91 .2 .92-.2 .92 0 .91 0 .92 0 .91 .1 .92 .1 .92-.2 .91-.1 .92 .2 .91 0 .92 .4 .92 .1 .91-.2 .92-.2 .91 0 .92-0 .92 .4 .91 .2 .92-.3 .91 .1 .92 .2 .92 0 .91 .2 .92-.2 .91 .1 .92 .1 .92 .3 .91-.2 .92 .2 .91-.2 .92 .3 .92-.1 .91-.2 .92-.1 .91 .6 .92-.4 .92 .3 .91-.7 .92 .8 .91-.2 .92 .6 .92-.5 .91 .4 .92 .5 .91-.2 .92-.2 .92-.3 .91 .6 .92 .1 .91-.4 .92 .1 .92-.1 .91-0 .92 .2 .91 .2 .92-0 .92 .2 .91-.1 .92-0 .91 .3 .92-.5 .92 .3 .91 .1 .92 .2 .91-.4 .92 .5 .92-.5 .91 .2 .92 .4 .91-1.3 .92 1.1 .92 .4 .91-.1 .92-.1 .91-0 .92 .2 .92-.5 .91 .8 .92-.4 .91-0 .92 .4 .92-0 .91-.1 .92 .1 .91-0 .92-.3 .92-.1 .91 .7 .92-0 .91-.1 .92 .3 .92-.4 .91 0 .92 .4 .91-.3 .92-0 .92 .2 .91-.1 .92 .3 .91 .2 .92-.3 .92 .2 .91 .2 .92-.2 .91 .1 .92 .3 .92-.4 .91 .3 .92 .5 .91-.6 .92-.2 .92 .2 .91 .1 .92 .4 .91-.1 .92-.1 .92-.4 .91 .4 .92 .6 .91-.7 .92 .4 .92 .1 .91 .1 .92 0 .91 .1 .92 .2 .92-.2 .91 .1 .92-.2 .91 .1 .92-.2 .92 .5 .91-.8 .92 .8 .91-.5 .92 .5 .92-.2 .91 .8 .92-.5 .91-.1 .92 .4 .92-.1 .91-.3 .92 .2 .91 .4 .92-.8 .92 .2 .91 .4 .92 .4 .91-.6 .92 .2 .92 0 .91 .4 .92-.1 .91-.1 .92-.1 .92-.2 .91 .6 .92 .3 .91-.4 .92-.1 .92 .5 .91-.6 .92-.1 .91 .7 .92 0 .92 .2 .91-.4 .92 .2 .91-0 .92 .2 .92-.1 .91 .1 .92 .1 .91-0 .92-.2 .92 .4 .91-0 .92-0 .91-.2 .92 .1 .92 .1 .91-.5 .92 .7 .91-.2 .92-.2 .92 .6 .91-.4 .92 .2 .91 0 .92-.2 .92 .2 .91 .7 .92-.1 .91-.5 .92 .4 .92-.2 .91 .3 .92-.5 .91 .1 .92 .4 .92-.2 .91 .4 .92 0 .91-0 .92-.2 .92 .3 .91-.2 .92-.2 .91 .6 .92-.6 .92 .2 .91 .3 .92 .2 .91-.1 .92-.2 .92 .7 .91-.7 .92 1.1 .91-1 .92 .3 .92 .1 .91 0 .92-.1 .91 .2 .92 0 .92-.2 .91 .5 .92-.2 .91 0 .92-.2 .92 .4 .91 .2 .92-.2 .91 0 .92 .1 .92-.1 .91 .3 .92-.3 .91 .4 .92-0 .92-0 .91 0 .92 .1 .91-.3 .92 0 .92 .3 .91-.2 .92 0 .91 0 .92 .4 .92-.1 .91 .2 .92 .7 .91-.7 .92-.2 .92 .2 .91 .2 .92 .1 .91-.2 .92 .2 .92-.3 .91 0 .92-0 .91 .4 .92-.3 .92 .2 .91 .1 .92-.2 .91-.1 .92 .6 .92-.1 .91 .5 .92-.4 .91 .2 .92-.1 .92-.4 .91 .5 .92-.1 .91-.2 .92 .1 .92 .2 .91-.4 .92 .4 .91-.3 .92 .5 .92 .1 .91-.4 .92 .1 .91 .1 .92 .1 .92-.1 .91 .4 .92-.1 .91-.3 .92 .4 .92-.2 .91 .2 .92 .3 .91-.4 .92 .2 .92-.1 .91 .2 .92 .3 .91 .4 .92-1 .92 .8 .91-.1 .92-.4 .91 .4 .92-.2 .92 .2 .91-.5 .92 .7 .91-.6 .92 0 .92 .5 .91 .2 .92-.2 .91 .3 .92 .1 .92-.2 .91 .3 .92-0 .91-.5 .92 .1 .92 .1 .91 .1 .92 .5 .91 0 .92-.7 .92 .9 .91-1 .92 .2 .91 .1 .92 .6 .92-.5 .91 .4 .92-0 .91-.1 .92 .2 .92-.2 .91 .2 .92-.1 .91 .9 .92-1.1 .92 .5 .91-.2 .92 .5 .91-0 .92-.2 .92 .2 .91-.4 .92 .1 .91 .4 .92-.5 .92 .5 .91 .1 .92-0 .91-.1 .92 .1 .92-.4 .91 .3 .92-.4 .91 .1 .92 .4 .92 .2 .91-.8 .92 .9 .91-.3 .92-.2 .92 .4 .91 .1 .92-.1 .91 .1 .92 .5 .92-.6 .91-.1 .92 .2 .91 .3 .92-.2 .92 .3 .91-.1 .92 .2 .91-.7 .92 .8 .92-.6 .91 .7 .92-.6 .91 .1 .92 .2 .92 .5 .91-.5 .92 .4 .91-.2 .92-.2 .92 .4 .91-.2 .92-0 .91 .7 .92-.4 .92-0 .91-0 .92 .5 .91-.8 .92 .3 .92-.1 .91-.1 .92-.1 .91 .4 .92 .1 .92-0 .91-.1 .92-.1 .91 .3 .92-.1 .92 .2 .91-0 .92 .4 .91-.4 .92 .3 .92-.2 .91 .2 .92-0 .91 .1 .92-.4 .92 .2 .91-.2 .92 .4 .91-.2 .92 .1 .92-.2 .91 .3 .92 .2 .91-.1 .92 .1 .92 .2 .91-.1 .92 .1 .91-.5 .92 .1 .92-0 .91 .3 .92 .3 .91-0 .92-.1 .92-.3 .91 .2 .92-1.3 .91 1.2 .92 .2 .92-.1 .91 .2 .92 .3 .91-.3 .92 .1 .92-.1 .91 1.5 .92-1.2 .91-0 .92 .3 .92-.1 .91-.2 .92-.1 .91 .3 .92 .1 .92 .2 .91-.2 .92-.3 .91-.1 .92 .2 .92 .5 .91-.3 .92-0 .91-.1 .92 .2 .92 .2 .91-.1 .92-.4 .91 .2 .92 .4 .92-.4 .91 .4 .92-.3 .91-.2 .92 .7 .92-.3 .91 .3 .92-.3 .91 .2 .92 .4 .92-.2 .91-.2 .92 .1 .91-.3 .92 .5 .92 .2 .91 .2 .92-.7 .91 .1 .92 .1 .92 0 .91-.2 .92 .2 .91 .3 .92-.3 .92 .6 .91-.8 .92 .3 .91 .2 .92-0 .92-.1 .91 .5 .92 0 .91-.1 .92-.1 .92-.2 .91-.1 .92 .5 .91 .1 .92-0 .92-.1 .91-0 .92 0 .91 .4 .92-.7 .92 .2 .91 .2 .92 .1 .91-.1 .92 .2 .92-.1 .91-0 .92-.2 .91-.1 .92 .4 .92 .3 .91 0 .92-.7 .91 .5 .92-.2 .92 .2 .91-.3 .92 .9 .91-.8 .92 .1 .92 .5 .91 .1 .92-.4 .91-.3 .92 .6 .92-.1 .91-.1 .92 .1 .91-.2 .92 .3 .92-.2 .91 .3 .92-.2 .91 .4 .92-.1 .92 0 .91-.2 .92 .4 .91-.2 .92-.1 .92-.3 .91 .5 .92-.1 .91 .4 .92-.1 .92-.2 .91-.4 .92 .6 .91 .3 .92-.3 .92-.1 .91 .2 .92-.3 .91 .3 .92-.4 .92-.1 .91 .2 .92 .4 .91-.3 .92-.2 .92 .5 .91-.1 .92 .3 .91 .4 .92-.3 .92 .1 .91-.1 .92-.3 .91 .1 .92-.1 .92 .4 .91-.1 .92-.1 .91 .2 .92-.2 .92 .3 .91-.4 .92 .9 .91-.3 .92-.1 .92 .3 .91-.2 .92 0 .91-.3 .92 .2 .92 .2 .91-.2 .92 .1 .91-.1 .92 .4 .92-.2 .91-.2 .92-.2 .91 .4 .92 .3 .92-.5 .91 .3 .92 0 .91 .3 .92-.2 .92 .1 .91-.1 .92-.1 .91 .1 .92 .1 .92-.1 .91 .2 .92-.3 .91 .6 .92-.4 .92-.1 .91 .3 .92-.3 .91 .1 .92 .1 .92 0 .91 .1 .92-.2 .91 .6 .92-.8 .92 .4 .91 .3 .92-.2 .91-.1 .92-.1 .92 .5 .91-.4 .92 .2 .91 0 .92-.3 .92 .4 .91-0 .92 .1 .91-.5 .92 .4 .92-.1 .91-0 .92 .7 .91-.4 .92-.1 .92-.1 .91-.1 .92 .3 .91-.3 .92 .3 .92 .3 .91-.2 .92 .3 .91-.5 .92 .2 .92 .5 .91-.7 .92 .2 .91 .4 .92-.4 .92-0 .91 .1 .92-.2 .91 .4 .92-.6 .92 1.1 .91-.4 .92-.4 .91 .4 .92-0 .92 0 .91 .5 .92-.4 .91-.1 .92 .1 .92-.2 .91 0 .92 .4 .91 .3 .92-.4 .92 .3 .91 .3 .92-.5 .91-.2 .92 .4 .92-.4 .91 .1 .92-0 .91 .1 .92 .2 .92-.7 .91 .3 .92 .4 .91-0 .92 .2 .92-.5 .91 .5 .92-0 .91-.2 .92 .2 .92-.3 .91 .1 .92 .1 .91-.3 .92 .3 .92-.3 .91 .8 .92-.3 .91 .8 .92-.7 .92-.5 .91 .6 .92-.3 .91 .4 .92 .2 .92-.9 .91 .6 .92-.2 .91 .1 .92 .4 .92-.1 .91-.1 .92-.6 .91 .4 .92 .1 .92 .2 .91-.1 .92-.4 .91 .1 .92 .4 .92 .3 .91-.3 .92-.2 .91 .3 .92-.2 .92 .2 .91 .2 .92-.6 .91 .3 .92 .2 .92-0 .91-0 .92 0 .91-0 .92 .2 .92-.4 .91 .2 .92 .1 .91 .1 .92 .1 .92 0 .91-.6 .92 .5 .91 .2 .92-.3 .92-.2 .91 .5 .92-.5 .91 .2 .92 .2 .92-.1 .91-.1 .92-0 .91 .5 .92-.3 .92-.1 .91-.1 .92-.1 .91 .3 .92 .1 .92-.6 .91 .3 .92 .3 .91 .2 .92 .2 .92-.2 .91-.2 .92 .1 .91-.2 .92 .2 .92 .1 .91-.4 .92 .3 .91 .1 .92 .1 .92 .1 .91 .1 .92-.7 .91 .4 .92 .4 .92-.2 .91-.2 .92 0 .91 0 .92 .3 .92 .3 .91 .1 .92-1.3 .91 .9 .92-.1 .92-.1 .91 .5 .92-.4 .91 .2 .92-0 .92-.1 .91 .6 .92-.4 .91 .3 .92-.4 .92-.1 .91 .3 .92-.3 .91 .5 .92-.1 .92-0 .91-.2 .92 .2 .91-.1 .92 .1 .92-.3 .91 .4 .92-.5 .91 .6 .92 .5 .92-.7 .91 .2 .92 .1 .91-.1 .92-.1 .92-.2 .91 .6 .92-.5 .91-0 .92 .9 .92-.7 .91-.3 .92 .2 .91 .3 .92 .6 .92-.7 .91-.1 .92 .1 .53-.3" stroke="#00ff40" stroke-width="3.9"/>
<path d="M189.5 310.9l.5 .1 .5 .9 .5 2 .5 2.8 .5 3.2 .5 3.2 .5 3.4 .5 3.3 .5 3.3 .5 3.2 .5 3.1 .5 3.2 .5 3 .5 2.9 .5 2.9 .5 2.7 .5 2.7 .5 2.6 .5 2.7 .5 2.4 .5 2.5 .5 2.5 .5 2.2 .5 2.1 .5 2.3 .5 2.2 .5 2 .5 2 .5 1.9 .5 1.8 .5 2.2 .5 1.7 .5 1.7 .5 1.7 .5 1.7 .5 2 .5 1.3 .5 1.4 .5 1.8 .5 1.7 .5 1.4 .5 1.2 .5 1.3 .5 2 .5 .9 .5 1.6 .5 1.2 .5 1.3 .5 1.3 .5 1.1 .5 1.2 1 2.5 1 2.4 1 2.9 1 1.4 1 2.6 1 1.8 1 1.9 1 1.2 1 2.7 1 1.7 1 2.1 1 1.8 1 1.3 1 2.2 1 1.4 1 1.6 1 1.7 1 1.4 1 1.8 1 1.6 1 1.2 1 1.5 1 1.7 1 1.1 1 1.1 1 1.6 1 1.1 1 1.2 1 1 1 1.6 1 1 1 1.4 1 .7 1 1.3 1 1.7 1 1.2 1 .8 1 1.1 1 .5 1 1.7 1 .8 1-.1 1 2 1 1 1 1.4 .92 .8 .91 2.1 .92-.1 .91 .6 .92 .9 .92 .5 .91 1.3 .92 .6 .91 .9 .92 .9 .92 .7 .91 .7 .92 1 .91 1.1 .92-.3 .92 1.2 .91 .9 .92 .6 .91 .9 .92 .9 .92 .6 .91 .6 .92 1 .91 .6 .92 .7 .92 1.1 .91 .4 .92 .2 .91 1.2 .92 .2 .92 .9 .91 .2 .92 1.3 .91 0 .92 1.1 .92 1 .91 .3 .92 .5 .91 .4 .92 .8 .92 .8 .91-.1 .92 .9 .91 1.1 .92 .2 .92 .9 .91 .5 .92 .2 .91 .8 .92 .9 .92 .2 .91 .6 .92 .7 .91 .3 .92 .6 .92 .7 .91 .4 .92 .6 .91 .6 .92 .8 .92 .1 .91 .4 .92 1.3 .91 .1 .92-.1 .92 .8 .91 .2 .92 1.1 .91 0 .92 .7 .92 .9 .91 0 .92 .6 .91 .6 .92 .6 .92 .5 .91 .6 .92-.1 .91 .7 .92 0 .92 .8 .91 .5 .92 .8 .91 .2 .92 .2 .92 .5 .91 .3 .92 .5 .91 .4 .92 .6 .92 .3 .91 .6 .92 .6 .91-.1 .92 .5 .92 .3 .91 1.2 .92 .3 .91 .2 .92 .3 .92 .1 .91 .9 .92 .2 .91 .4 .92 .4 .92-.3 .91 .6 .92 .7 .91 .6 .92 0 .92 .7 .91 .3 .92 .2 .91 .7 .92 0 .92 .3 .91 1.1 .92 .3 .91 .1 .92 .6 .92-.1 .91 .5 .92 .5 .91 .3 .92 .4 .92-.1 .91 .9 .92-.1 .91 .6 .92 .9 .92-0 .91-0 .92 .5 .91 .1 .92 .4 .92 .3 .91 .3 .92 .5 .91 .5 .92 .7 .92-.1 .91 .3 .92-0 .91 .9 .92 0 .92 1.2 .91-.5 .92 .6 .91-.2 .92 .4 .92 .3 .91 .3 .92 .5 .91 .2 .92-.1 .92 .4 .91 .4 .92 .6 .91 .1 .92 .5 .92 .3 .91 .3 .92-.3 .91 1.2 .92-0 .92 0 .91 .5 .92 .1 .91 .5 .92 0 .92 1 .91-.3 .92 .5 .91 0 .92 .6 .92 .5 .91-0 .92 0 .91 .5 .92 .2 .92 .5 .91 .2 .92 .2 .91 .2 .92 .2 .92 .4 .91 .5 .92-0 .91 .4 .92-0 .92 .3 .91 0 .92 .5 .91 .2 .92-.1 .92 .5 .91 .1 .92 .5 .91 .3 .92 .6 .92-0 .91 .1 .92 .2 .91 .3 .92 .2 .92 .5 .91 0 .92 .4 .91 .4 .92-0 .92 .3 .91 .6 .92 0 .91 .1 .92 .4 .92 0 .91 .2 .92 .6 .91-.2 .92 .3 .92 .3 .91 .5 .92 .2 .91-.1 .92 .4 .92 .1 .91 .5 .92 .1 .91 0 .92 .6 .92-.3 .91 .3 .92 .1 .91 1.1 .92-.3 .92 .4 .91 .6 .92-.3 .91 .2 .92 .1 .92 .4 .91 0 .92 .5 .91 .2 .92 .1 .92 .1 .91 .3 .92 .2 .91 .2 .92 .3 .92-0 .91 .3 .92 .3 .91 .5 .92-.1 .92 .1 .91 .2 .92 .6 .91-.3 .92 .2 .92 .3 .91 .1 .92 .3 .91 .3 .92 .1 .92-.1 .91 .7 .92 .2 .91-.1 .92 .8 .92-.2 .91 .2 .92-.1 .91 1 .92 .1 .92 0 .91 .3 .92-.6 .91 .5 .92 .4 .92 .1 .91-.1 .92 .5 .91 .3 .92-0 .92 .5 .91 .1 .92-.3 .91 .3 .92 .1 .92 .6 .91-.3 .92 .6 .91 .2 .92-.2 .92 .6 .91 .1 .92 .5 .91-.1 .92 .1 .92 .3 .91 .3 .92-.3 .91 .2 .92 .6 .92 .4 .91-.6 .92 .8 .91-0 .92 .2 .92 .2 .91-.1 .92 .1 .91 .8 .92-.6 .92 .5 .91 .5 .92-.2 .91 .3 .92 .1 .92-.1 .91 .5 .92 0 .91 .1 .92 .4 .92-0 .91 .3 .92-0 .91 .6 .92-0 .92 0 .91 .1 .92 .1 .91 .2 .92-0 .92 .7 .91-.4 .92 .6 .91 .1 .92-.1 .92 .2 .91-.1 .92 .4 .91 .1 .92 .5 .92-.2 .91 .1 .92 .5 .91-.4 .92 .4 .92 .5 .91-.1 .92 .4 .91-.7 .92 .6 .92 .3 .91-.6 .92 1.1 .91-.3 .92 .3 .92 .4 .91 .1 .92 0 .91 0 .92 .4 .92-.1 .91 .7 .92-.4 .91 .1 .92 .6 .92 .3 .91-.1 .92-.1 .91-.1 .92 .1 .92 .8 .91 0 .92-.3 .91 .5 .92-.2 .92 .6 .91 .4 .92-.3 .91 .4 .92-.2 .92 .2 .91 .4 .92 .2 .91-.2 .92 .5 .92-.1 .91-.6 .92 1 .91 .3 .92-.8 .92 .7 .91 .6 .92-.2 .91-.4 .92 .4 .92 .4 .91 0 .92 .4 .91 0 .92 .4 .92-.5 .91 .6 .92 .1 .91 0 .92 .3 .92-.3 .91 .4 .92 .6 .91-.2 .92 0 .92 .4 .91-.1 .92-.1 .91 .4 .92 .3 .92-.2 .91 .6 .92-.2 .91 .1 .92-0 .92 .7 .91 .9 .92-1.4 .91 .4 .92-0 .92 .5 .91-.1 .92 .3 .91-.1 .92-0 .92 .6 .91-.2 .92 .1 .91-0 .92 .4 .92 .3 .91-.2 .92 .7 .91-.1 .92-.2 .92 .3 .91-.1 .92 .3 .91-.3 .92 .2 .92 .8 .91-.2 .92 .1 .91-.2 .92 .4 .92-0 .91-.3 .92 .5 .91 .2 .92 0 .92 .4 .91 0 .92-.7 .91 .7 .92 .2 .92 .2 .91 .1 .92-.2 .91 .5 .92-.1 .92-.3 .91 .1 .92 .3 .91 .3 .92-0 .92 .2 .91-0 .92 .3 .91 .3 .92 .1 .92-.3 .91 .7 .92 .2 .91-.4 .92 .7 .92-.3 .91-.1 .92 .7 .91-.3 .92 0 .92 .7 .91-0 .92-.3 .91 0 .92 .3 .92 .2 .91 .2 .92-.6 .91 .7 .92 .1 .92-0 .91 .2 .92 .2 .91-.4 .92 .2 .92 .3 .91 .1 .92 .2 .91 .2 .92 .5 .92-.5 .91 .3 .92 .2 .91-.2 .92 .1 .92 .3 .91 .1 .92-.2 .91 .4 .92 .1 .92 .1 .91 .2 .92-.4 .91 .6 .92-.2 .92 .2 .91 .1 .92-.1 .91 .4 .92 .5 .92-.3 .91 .3 .92-.3 .91 .1 .92 .2 .92 0 .91 .1 .92 .4 .91 .1 .92 .1 .92-0 .91 0 .92 .1 .91 .4 .92-.2 .92 .4 .91 .1 .92 .3 .91-.4 .92 .4 .92-.4 .91 .6 .92 0 .91 .2 .92-.6 .92 .9 .91-.3 .92 .1 .91-.2 .92 .2 .92 .6 .91 .2 .92-0 .91-.6 .92 .6 .92-.4 .91 .4 .92 0 .91 .5 .92-.5 .92 .3 .91 .3 .92 .2 .91-.4 .92 .3 .92-.3 .91 .8 .92-.2 .91 .1 .92 0 .92 .6 .91-.3 .92-.1 .91 .5 .92 0 .92-0 .91-.1 .92 .3 .91 .2 .92-.1 .92 .1 .91 .4 .92-.3 .91 .4 .92-.2 .92-.1 .91 .6 .92 .1 .91-.3 .92 .1 .92 .5 .91-.1 .92-.4 .91 .3 .92 .4 .92-.1 .91 .4 .92-.2 .91 .3 .92-0 .92 .1 .91 .1 .92 0 .91-.2 .92 .6 .92-.2 .91-.1 .92 .7 .91-.4 .92 .5 .92-.7 .91 .7 .92 0 .91-.1 .92 .5 .92-.4 .91 .3 .92-0 .91 .4 .92-.4 .92 .4 .91 0 .92-.3 .91 1.2 .92-.6 .92 .2 .91 .4 .92-.5 .91 .1 .92-.3 .92 .4 .91 .2 .92 .2 .91 0 .92 .1 .92 .1 .91 .1 .92 .1 .91 0 .92 .3 .92-.5 .91 .4 .92 .3 .91-.1 .92-.1 .92 .2 .91 .1 .92 .2 .91 1.1 .92-.7 .92-.3 .91 .2 .92 .5 .91-.5 .92 .4 .92-.2 .91-.1 .92 .3 .91 .1 .92 .4 .92-.4 .91 .5 .92-.2 .91 .1 .92-.1 .92-.2 .91 .5 .92-.1 .91 .3 .92-0 .92-.3 .91 .4 .92 .2 .91 0 .92 .2 .92-0 .91-.1 .92 .2 .91 0 .92 .2 .92 .1 .91 0 .92 .5 .91-.5 .92-.1 .92 .6 .91-.2 .92 .3 .91-.1 .92 .2 .92-.1 .91 .1 .92 .6 .91-.1 .92-.4 .92 .2 .91 .4 .92-.1 .91-.6 .92 .8 .92 .4 .91-.4 .92 .2 .91-.1 .92 .4 .92 .3 .91-.4 .92-0 .91 .3 .92-0 .92 0 .91-.1 .92 .1 .91 0 .92 .1 .92 .2 .91 0 .92 .6 .91-.4 .92 .1 .92 .1 .91 .3 .92 .1 .91-.4 .92 .1 .92 .1 .91 .2 .92 .1 .91 .4 .92 .1 .92-.4 .91-.3 .92-.3 .91 .7 .92 .3 .92 .2 .91-.3 .92 .5 .91 .1 .92-.7 .92 .3 .91 .7 .92-.3 .91 .1 .92 2.1 .92-1.9 .91-0 .92-.4 .91 .5 .92 .2 .92-.2 .91 .6 .92-.5 .91 .6 .92-.2 .92-.1 .91 .3 .92 .3 .91-.1 .92-.4 .92 .5 .91-.1 .92 .3 .91 0 .92-.1 .92 .3 .91-.3 .92 .5 .91-.5 .92 .5 .92-0 .91-.1 .92 .4 .91-.5 .92 .9 .92-.5 .91 .1 .92 .1 .91-.1 .92 .3 .92-.3 .91-.3 .92 .7 .91-.3 .92 .7 .92-.2 .91 .1 .92-.2 .91 .5 .92-.3 .92-0 .91-0 .92 .2 .91 .5 .92-.1 .92-.1 .91-0 .92 .1 .91 .4 .92-.1 .92 0 .91 .4 .92-.4 .91 .2 .92-.3 .92 .2 .91-.1 .92 .4 .91 .1 .92-.1 .92 .3 .91 .1 .92-.2 .91 .2 .92 .2 .92-.4 .91 .6 .92-.3 .91 .2 .92-.3 .92 .5 .91 .1 .92-.1 .91-.1 .92 .3 .92-.3 .91 .5 .92 .1 .91 0 .92 .2 .92-.2 .91 .1 .92 .2 .91 0 .92-.2 .92 .2 .91-0 .92 .2 .91 0 .92 .3 .92-0 .91 .1 .92-.2 .91 .4 .92-.1 .92 .6 .91-.5 .92-.5 .91 .9 .92-.6 .92 .3 .91 0 .92 .1 .91 .4 .92-.1 .92 0 .91-.1 .92 .1 .91 .1 .92 .1 .92-0 .91-.3 .92 .5 .91-0 .92-.1 .92 .3 .91 .1 .92-.1 .91 .6 .92-.7 .92 .3 .91 .1 .92 0 .91 .3 .92-.3 .92-.1 .91 .7 .92-.3 .91 .1 .92 .1 .92 .2 .91-.1 .92-.3 .91 .3 .92 .1 .92 .2 .91 .2 .92-.5 .91 .4 .92-0 .92 .1 .91-.5 .92 .2 .91 .3 .92-.1 .92 .2 .91 .1 .92 .2 .91-.4 .92 .1 .92 .1 .91 .7 .92-.6 .91 .5 .92 0 .92-.1 .91-.2 .92 .3 .91 .1 .92-.1 .92-.1 .91 .2 .92-0 .91 .1 .92 .2 .92-.1 .91-0 .92 .6 .91-.2 .92 .4 .92-.2 .91-.2 .92 .2 .91 0 .92 .1 .92 .1 .91-.1 .92 .3 .91 .1 .92-.6 .92 .7 .91-.1 .92-.3 .91 .6 .92-.1 .92 .2 .91 .1 .92 0 .91-.3 .92 .1 .92 .1 .91-.2 .92 .2 .91 .3 .92-.4 .92 .5 .91-.4 .92 .1 .91 .4 .92-.3 .92 .5 .91 0 .92-0 .91-.2 .92 .2 .92 .3 .91 .2 .92-.5 .91-.2 .92 .4 .92 .1 .91 .1 .92 .4 .91-.5 .92 0 .92 0 .91 .5 .92-.2 .91 .3 .92-0 .92 .1 .91-.1 .92 .1 .91-.1 .92 .2 .92 0 .91 .1 .92 .1 .91 0 .92-0 .92 0 .91 0 .92-.2 .91 .6 .92 .1 .92-.6 .91 .8 .92-0 .91-.2 .92 0 .92 .1 .91-.1 .92 0 .91 .2 .92 .1 .92-.4 .91 .3 .92-0 .91 .1 .92-.1 .92 .2 .91 .2 .92-.2 .91 .4 .92 0 .92-.1 .91 .4 .92-.4 .91 .2 .92-.2 .92-0 .91 .7 .92-.4 .91-.1 .92 .3 .92 .1 .91-.2 .92 .2 .91 .4 .92-.1 .92-.1 .91-.2 .92 .6 .91 0 .92-.3 .92 .1 .91 .5 .92-.1 .91 0 .92-.1 .92-.1 .91 .1 .92-0 .91 .2 .92 .3 .92-.4 .91-0 .92 .2 .91 .2 .92-.3 .92 .2 .91-.1 .92-0 .91 .6 .92-.2 .92-.1 .91 .1 .92 0 .91 .2 .92 .2 .92-.5 .91 .6 .92-.3 .91 .2 .92-.2 .92-0 .91 .3 .92 0 .91 0 .92 .2 .92-.3 .91 .5 .92 .2 .91-.3 .92 .2 .92-.2 .91 .3 .92-.1 .91-.2 .92 .3 .92-.1 .91 .1 .92 .2 .91-.2 .92 .3 .92-.1 .91 .2 .92-.3 .91 0 .92 .4 .92-.1 .91 .2 .92 .3 .91-.1 .92-.2 .92 .5 .91-.5 .92-.2 .91 1.7 .92-1.3 .92 .3 .91-.5 .92 .6 .91-.1 .92 .6 .92-.6 .91 .4 .92-.2 .91 .2 .92-.1 .92-0 .91-.3 .92 .5 .91-.5 .92 .4 .92 .3 .91-.2 .92 .2 .91 .2 .92-0 .92-.2 .91 0 .92 .3 .91-.1 .92-.1 .92-.1 .91 .2 .92 .1 .91-.1 .92 .4 .92-.1 .91-.3 .92 0 .91 .5 .92 .1 .92 .1 .91-.2 .92 0 .91-.4 .92 .7 .92-.5 .91-0 .92 .4 .91 0 .92 .4 .92-.4 .91 0 .92 .1 .91-0 .92 .4 .92-0 .91 .1 .92-.3 .91 .2 .92 .3 .92-.3 .91-.1 .92-.2 .91 .6 .92-.1 .92-.3 .91 .4 .92 .3 .91 .2 .92-.5 .92 .3 .91-0 .92 .1 .91-.1 .92-1 .92 1.4 .91-.1 .92-.2 .91 .1 .92 0 .92 .2 .91 .1 .92-.5 .91 .3 .92 0 .92 .3 .91-.2 .92 .1 .91-.3 .92 .3 .92 0 .91 .4 .92 0 .91 .2 .92-.5 .92 .2 .91 .2 .92 .3 .91-.2 .92 .2 .92-.1 .91 .3 .92-.2 .91-.1 .92 .2 .92 .1 .91 .1 .92-.4 .91 .2 .92-.1 .92 .1 .91-.1 .92 .7 .91-.4 .92-.1 .92-.2 .91 .5 .92-.2 .91 .1 .92 .2 .92 .1 .91-.1 .92-.1 .91 .8 .92-.7 .92 .2 .91-.1 .92 .6 .91-.6 .92 .2 .92-.4 .91 .4 .92 .4 .91-.3 .92-.1 .92 0 .91 .4 .92 .2 .91-.2 .92-.2 .92 .3 .91-0 .92 0 .91 .3 .92-.2 .92-.2 .91 .8 .92-.8 .91 .4 .92 .1 .92-.3 .91 .8 .92-.2 .91-.3 .92-.4 .92 .7 .91 .4 .92-.2 .91-.3 .92 .3 .92-.1 .91 0 .92 .2 .91-.2 .92 0 .92 .4 .91-.2 .92 .1 .91-0 .92-.1 .92 .4 .91-.2 .92-.3 .91 .3 .92-.3 .92 .6 .91-.6 .92 .5 .91-.1 .92 .2 .92 0 .91 .1 .92 .3 .91-.6 .92 .3 .92-.3 .91 .7 .92-0 .91 .1 .92-.1 .92 .1 .91-.4 .92-0 .91 .5 .92-.1 .92-.4 .91 .6 .92-.3 .91 .1 .92 .2 .92-.3 .91 .5 .92-0 .91-.4 .92-.3 .92 .7 .91 .1 .92 .4 .91-.7 .92 .8 .92-.5 .91 .1 .92-.3 .91 .3 .92 .4 .92-.3 .91-.4 .92 .4 .91-.2 .92 .2 .92 .2 .91-.3 .92 .2 .91 .5 .92-.1 .92-.3 .91-.4 .92 .5 .91-0 .92-.2 .92 .3 .91-.1 .92 .5 .91-.3 .92 .1 .92 .4 .91-.4 .92-.1 .91-.1 .92 .6 .92-.2 .91 .4 .92-.6 .91 .2 .92 .1 .92 .2 .91-.3 .92-.1 .91 .7 .92-.7 .92 .3 .91-.3 .92 .8 .91-.6 .92 .6 .92 .1 .91-.6 .92 .7 .91-.2 .92-.3 .92 .7 .91-.3 .92 .1 .91 0 .92-.1 .92 .1 .91 0 .92-.1 .91-.1 .92 .4 .92-.2 .91-.1 .92 .2 .91-0 .92 .5 .92-.2 .91-.4 .92 .4 .91-.1 .92-0 .92 .3 .91-.2 .92-.2 .91 .4 .92-.2 .92 .3 .91-.2 .92 .6 .91-0 .92-.4 .92 .4 .91-.4 .92 .1 .91 .5 .92-.5 .92 .3 .91-.1 .92 .3 .91-.2 .92-.3 .92 .4 .91-0 .92 .1 .91 0 .92 .2 .92-.4 .91-.1 .92 .2 .91-.1 .92 .1 .92 .6 .91-.4 .92 0 .91 .2 .92-.1 .92-.2 .91 .3 .92-0 .91 .5 .92-.1 .92-.4 .91 .3 .92-.3 .91 .4 .92-1.5 .92 1.2 .91 .3 .92 0 .91 0 .92 .1 .92 .2 .91 .2 .92-.5 .91 .4 .92-.1 .92-.2 .91 .1 .92 .4 .91-.3 .92-0 .92 0 .91-0 .92-.3 .91 .1 .92 .3 .92 .1 .91 .4 .92-.3 .91 .5 .92-.7 .92 .2 .91 .9 .92-1 .91 .2 .92 .5 .92-.6 .91-.1 .92 .3 .91 .2 .92-0 .92 0 .91 .4 .92-.4 .91 .2 .92-.3 .92 0 .91 .3 .92-.1 .91 .1 .92-.2 .92 .3 .91 .1 .92-.2 .91 .3 .92 .1 .92-.9 .91 .8 .92 .2 .91 0 .92-.3 .92-.2 .91 .2 .92 .2 .91 .3 .92-.3 .92 .2 .91 .1 .92-.6 .91 .6 .92-0 .92-0 .91 0 .92-.1 .91 .3 .92-.3 .92 .4 .91-.1 .92-.1 .91-.1 .92 .4 .92-.4 .91 .1 .92-.2 .91 .3 .92 .3 .92-.3 .91 .1 .92-.1 .91 .1 .92 .1 .92 .8 .91-.6 .92-.2 .91 .3 .92 .1 .92-.4 .91 .3 .92 .1 .91-.1 .92-.2 .92 .4 .91-.3 .92 .2 .91 .1 .92-0 .92 .1 .91-0 .92 .2 .91-.5 .92 .3 .92 .1 .91 .5 .92-0 .91-.8 .92 .5 .92 .5 .91-.6 .92 .8 .91-.6 .92-.4 .92 .3 .91-.1 .92 .3 .91 .3 .92-.7 .92 .2 .91 .2 .92-0 .91 .2 .92-0 .92-.3 .91 .1 .92 .3 .91 .1 .92-.3 .92 .3 .91-.1 .92-0 .91-.2 .92 .1 .92 .6 .91-.2 .92-.1 .91-.1 .92-.3 .92 .3 .91-.1 .92 .1 .91 .5 .92-.8 .92 .3 .91 .3 .92-.3 .91 .2 .92 .3 .92-.1 .91 .2 .92-.1 .91-.3 .92 .4 .92-.2 .91 .1 .92 .3 .91-.3 .92-.2 .92 .4 .91-.4 .92-.1 .91 .4 .92-.1 .92 .3 .91-.1 .92 .3 .91 .1 .92-.7 .92 .6 .91-.2 .92 .2 .91-.2 .92 0 .92-.3 .91 .4 .92-.3 .91 .2 .92 .6 .92-.1 .91-.2 .92 .5 .91-.3 .92-.1 .92-.2 .91 .5 .92 0 .91 .5 .92-.6 .92-.3 .91 .3 .92-.4 .91 .3 .92 .2 .92-.1 .91-0 .92 .1 .91 .3 .92-.4 .92-0 .91 .1 .92-0 .91 .2 .92-.6 .92 .5 .91-.2 .92 .3 .91 .2 .92-.1 .92-0 .91-.2 .92 .3 .91 0 .92-.2 .92 .1 .91 .2 .92-.2 .91-.1 .92 .5 .92-.3 .91 0 .92 .4 .91-.1 .92-.1 .92-.1 .91-.1 .92 .2 .91-.4 .92 .5 .92 .1 .91-.2 .92-.1 .91 .7 .92-.6 .92 .1 .91 .3 .92 .1 .91-.1 .92-.2 .92 .2 .91 .3 .92-.3 .91 .1 .92 .1 .92-.3 .91 .2 .92-.2 .91 .2 .92-.2 .92 .2 .91 .2 .92-.1 .91 .1 .92-.1 .92-.2 .91 0 .92 .7 .91-.2 .92-.2 .92 .1 .91 .5 .92-.1 .91-.3 .92-.1 .92 .3 .91-.1 .92-.1 .91-0 .92 .4 .92 .1 .91-.2 .92-.1 .91 .1 .92-0 .92-.6 .91 .7 .92 0 .91-.2 .92 .2 .92-.3 .91-.1 .92-.2 .91 1.1 .92-.4 .92-0 .91-.3 .92 .1 .91 .2 .92 .1 .92-0 .91-.2 .92 .4 .91 0 .92-.2 .92 .6 .91-.3 .92-.4 .91 .1 .92-.2 .92 .4 .91-.3 .92 .6 .91-.1 .92 0 .92 0 .91-.4 .92-.1 .91 .3 .92 .2 .92-.1 .91 .2 .92-.2 .91 .1 .92-.5 .92 .5 .91-.1 .92 1.1 .91-.8 .92 .1 .92-.5 .91 0 .92 .1 .91 .2 .92-.1 .92-0 .91 .3 .92-.4 .91 .3 .92 .1 .92-.1 .91-.1 .92 .4 .91-.2 .92 0 .92 .1 .91-0 .92 .1 .91-.4 .92 .4 .92-.3 .91 .2 .92 .6 .91-.3 .92-0 .92 0 .91-.2 .92 .1 .91-.1 .92 .4 .92-.7 .91 .6 .92-.3 .91 .2 .92-0 .92-.1 .91-0 .92-.2 .91 .6 .92-.1 .92-.1 .91-.1 .92 .5 .91-.5 .92 0 .92 .2 .91 0 .92 .1 .91 .1 .92-.4 .92 .4 .91 .2 .92 .2 .91-.2 .92-.4 .92 .3 .91-.1 .92 .5 .91-.7 .92 .3 .92 .4 .91-.7 .92 .3 .91-.3 .92 .4 .92 .1 .91-.2 .92-.3 .91 .7 .92-.6 .92 .5 .91-.3 .92 .3 .91 0 .92-.3 .92 .3 .91-.3 .92 .7 .91-.5 .92 .3 .92 0 .91 .3 .92-.7 .91 .4 .92-.2 .92 .1 .91 .2 .92 .1 .91-.3 .92 0 .92-.1 .91 1.3 .92-1.2 .91 1 .92-.8 .92 .2 .91-.3 .92 .1 .91 .1 .92 0 .92-0 .91-.1 .92 .2 .91-.1 .92 .3 .92-.1 .91-.4 .92 .3 .91 0 .92 .1 .92-.3 .91 .4 .92-.1 .91-0 .92 0 .92 0 .91 .3 .92-.2 .91 0 .92 .1 .92 .1 .91-.5 .92 .1 .91 .3 .92 .2 .92-.5 .91 .5 .92-.3 .91 .2 .92-.1 .92-0 .91 .2 .92 .3 .91-.5 .92-.2 .92 .4 .91 .1 .92-.1 .91 .1 .92-.2 .92 .1 .91 .4 .92-.4 .91 .4 .92-.1 .92-.4 .91 0 .92 .3 .91 .1 .92-.4 .92 .1 .91 .2 .92-0 .91-0 .92 .3 .92-0 .91-.1 .92-.1 .91-.1 .92 .2 .92-.6 .91 .4 .92 .2 .91-.2 .92 .3 .92-.6 .91 .7 .92-.3 .91-0 .92 .3 .92-.3 .91 .3 .92-.1 .91 .2 .92 .1 .92-.2 .91-.1 .92 .3 .91-.1 .92-.1 .92 .4 .91-.4 .92 0 .53 .3" stroke="#00ffff" stroke-width="3.9"/>
<path d="M189.5 275.5l.5-0 .5 2.7 .5 3.1 .5 3.5 .5 3.3 .5 3.6 .5 3.3 .5 3.3 .5 3.2 .5 3.1 .5 3.1 .5 3 .5 2.9 .5 2.8 .5 2.6 .5 2.7 .5 2.5 .5 2.3 .5 2.5 .5 2.3 .5 2.5 .5 2 .5 2.2 .5 2.2 .5 2.1 .5 1.8 .5 2 .5 2 .5 2 .5 1.1 .5 2 .5 3.7 .5 0 .5 1.7 .5 1.2 .5 1.8 .5 1.8 .5 1.4 .5 1.6 .5 1.5 .5 1.6 .5 1.6 .5 .9 .5 1.4 .5 1.7 .5 1.3 .5 1.1 .5 1.1 .5 1.5 .5 1.4 .5 1.4 1 2.6 1 2.2 1 1.7 1 3.1 1 1.8 1 1.9 1 2 1 2.3 1 1.5 1 1.9 1 2 1 2.2 1 .9 1 2.5 1 .7 1 2 1 1.9 1 1.9 1 .8 1 2.2 1 1.6 1 .9 1 1.5 1 1.4 1 .8 1 2.8 1 .7 1 .7 1 1.9 1 1.2 1 1 1 1.4 1 1.4 1 .7 1 1 1 2 1 .7 1 .9 1 1.7 1-.1 1 1.4 1 1.6 1 .9 1 1 1 .7 .92 .9 .91 .9 .92 .8 .91 1.3 .92 1 .92 .7 .91 1.1 .92-.1 .91 1.3 .92 .5 .92 1.7 .91 .1 .92 1.1 .91 .6 .92 .5 .92 .7 .91 1.4 .92 .6 .91 .3 .92 1.5 .92 .2 .91 .9 .92 .6 .91 .9 .92-.2 .92 1.7 .91 .4 .92 .7 .91 .8 .92 .5 .92-.1 .91 1 .92 .4 .91 .8 .92 1 .92 .9 .91-.3 .92 .7 .91 1 .92 .7 .92 .5 .91 .3 .92 .9 .91 .6 .92 .2 .92 1.2 .91-.3 .92 1 .91 .6 .92 .6 .92 .8 .91 0 .92 .7 .91 .7 .92 .9 .92-.2 .91 .9 .92 .4 .91 .2 .92 .9 .92-.4 .91 1.2 .92 .6 .91 1.1 .92-.9 .92 1.4 .91 .5 .92 .2 .91 .4 .92 1.1 .92-.2 .91 .9 .92 0 .91 .9 .92 .5 .92-.3 .91 .6 .92 .7 .91 .5 .92-0 .92 1 .91 .6 .92 .1 .91 .5 .92-0 .92 1.1 .91 .7 .92 .7 .91-.4 .92 .9 .92-.6 .91 1 .92 .3 .91-.1 .92 .6 .92 .6 .91 .4 .92 .3 .91 .5 .92 .7 .92 .4 .91-.7 .92 1 .91 .5 .92-.4 .92 1.3 .91 .6 .92-.4 .91 0 .92 .9 .92 1 .91 .8 .92-.4 .91 .3 .92 0 .92 .9 .91-.1 .92 .6 .91 .7 .92-0 .92-0 .91 .8 .92 .6 .91 .3 .92-.6 .92 1 .91 .4 .92 .1 .91 0 .92 .5 .92 .3 .91 1.2 .92-.2 .91 .1 .92 .6 .92 .6 .91-.1 .92 .6 .91 .2 .92-0 .92 .9 .91-.1 .92 .6 .91 .4 .92-.3 .92 .2 .91 .4 .92 1.2 .91-.4 .92 .2 .92 .9 .91-.5 .92 1.2 .91-.6 .92 .7 .92 .2 .91 .3 .92 .5 .91 .2 .92-.3 .92 .3 .91 .6 .92 .6 .91-.1 .92 .2 .92-.2 .91 1.1 .92 .2 .91-.2 .92 .5 .92 .9 .91-.4 .92 .2 .91 .7 .92-.5 .92 .7 .91 .3 .92-.2 .91 .7 .92 .3 .92 .4 .91 .1 .92 .6 .91 .3 .92-0 .92 0 .91-.2 .92 1.7 .91-.5 .92 .3 .92 .5 .91-.3 .92 .2 .91 .7 .92-1.1 .92 1.7 .91 0 .92-.3 .91 .4 .92 .9 .92-.4 .91 .8 .92 .1 .91 .1 .92 .2 .92 .2 .91 .2 .92 .4 .91 .5 .92-.7 .92 1.3 .91 .5 .92-1 .91 1.1 .92-0 .92 .3 .91-0 .92-.1 .91 .8 .92 0 .92 .4 .91-.3 .92 .5 .91 1.1 .92-1.1 .92 .8 .91-.4 .92 1 .91 .7 .92-1 .92 .7 .91 .4 .92-.3 .91 .8 .92 0 .92 .1 .91 .6 .92 .1 .91 .8 .92-.2 .92-.1 .91 .2 .92-.3 .91 .4 .92-.4 .92 1.1 .91 .2 .92-.3 .91 .6 .92 .1 .92 0 .91 .6 .92-.3 .91 .3 .92-.1 .92 .8 .91-.4 .92 .5 .91 .5 .92 .3 .92-0 .91 .1 .92-1.1 .91 1.8 .92-.4 .92 .2 .91 .8 .92-.4 .91 .1 .92 .6 .92 .3 .91 .1 .92-.5 .91 .9 .92-.1 .92 .2 .91 .6 .92 .1 .91-.5 .92 1 .92-.2 .91 .2 .92-0 .91 .4 .92 .4 .92-.2 .91-.1 .92 1.4 .91-.3 .92 .1 .92 .4 .91-.9 .92 .7 .91-0 .92 .5 .92 1.1 .91-.3 .92-.5 .91 .8 .92 .1 .92 .3 .91-.5 .92 .4 .91-.2 .92 .5 .92 .4 .91-.2 .92 .2 .91 .5 .92-.2 .92-.1 .91 .7 .92-.6 .91 1.2 .92-.6 .92 .3 .91-.1 .92 1 .91 .2 .92-.2 .92 .2 .91 .5 .92-.3 .91-.3 .92 .3 .92 .3 .91-.6 .92 .9 .91 .1 .92 .5 .92-0 .91 .6 .92-.5 .91 .4 .92 .4 .92-.2 .91 .3 .92-.5 .91 .7 .92 .1 .92 .5 .91-.2 .92 .3 .91 .6 .92-.8 .92 .6 .91-.3 .92 .2 .91 .5 .92-.1 .92 .6 .91-.3 .92 .3 .91 .3 .92 0 .92 .3 .91-.2 .92 .8 .91 .2 .92-.1 .92 .1 .91-.1 .92 .3 .91 .2 .92 1 .92-.6 .91-.2 .92 .6 .91-.6 .92 .6 .92-0 .91 .1 .92 .2 .91-.2 .92 .3 .92 .2 .91 .3 .92 .2 .91-.1 .92 0 .92 .7 .91-.6 .92 1.2 .91-.1 .92-0 .92-.3 .91 .2 .92 0 .91 .7 .92-0 .92-.2 .91 .2 .92 .1 .91-.1 .92 .5 .92-0 .91 .5 .92-.1 .91-.3 .92 .5 .92 .5 .91-.2 .92-.1 .91-.1 .92 .3 .92 .5 .91-0 .92-.5 .91 .8 .92-.4 .92 .5 .91 .1 .92 .2 .91 0 .92-0 .92-.2 .91 .7 .92 0 .91 .5 .92-.2 .92 .4 .91-.1 .92-.1 .91 1.5 .92-1.5 .92 .3 .91 .5 .92 .3 .91-.2 .92-0 .92 .1 .91 .5 .92-.8 .91 .1 .92 .5 .92-0 .91 .3 .92 .2 .91-0 .92 .3 .92 0 .91 0 .92 .2 .91 .2 .92-.1 .92 .7 .91-.1 .92-.3 .91 .9 .92 0 .92-.5 .91 .2 .92-.2 .91 .3 .92 .1 .92 .6 .91 .5 .92-.3 .91-0 .92 0 .92 .7 .91-.3 .92-.4 .91 .2 .92 .2 .92 .5 .91-.2 .92-.6 .91 1 .92 .5 .92-.3 .91-.2 .92 .4 .91 .3 .92-.1 .92-.1 .91-.3 .92 1 .91-.5 .92 1.1 .92-.9 .91-0 .92 1.2 .91-1.2 .92 .8 .92-.2 .91 .7 .92-.4 .91 .2 .92 .7 .92-.6 .91 .1 .92 .3 .91-.4 .92 .6 .92-.2 .91 .6 .92-.2 .91-.5 .92 .1 .92 .3 .91 .8 .92-.5 .91 .6 .92-.4 .92 .3 .91 .1 .92 .7 .91-.8 .92 .3 .92-.1 .91 1.5 .92-1 .91 .3 .92-.3 .92 .8 .91-.2 .92-.3 .91 .5 .92-.2 .92-.2 .91 .9 .92-.1 .91-.2 .92-.4 .92 1.2 .91-.6 .92-0 .91 .2 .92 .3 .92-.3 .91-.1 .92 .6 .91 .2 .92-.3 .92 .3 .91 .4 .92-.1 .91-.2 .92 .5 .92-.4 .91 .4 .92 .1 .91 .1 .92 .2 .92-.3 .91 .4 .92-.5 .91 .6 .92-.7 .92 .7 .91 .5 .92-.8 .91 .6 .92 .4 .92-.2 .91-0 .92 .5 .91-.2 .92 .2 .92-.1 .91 .4 .92 .1 .91-.2 .92 .4 .92-.1 .91 .3 .92-.8 .91 .3 .92 .3 .92 .6 .91 .2 .92-.4 .91 0 .92 .7 .92-.4 .91-.3 .92 .3 .91 .5 .92-0 .92 .5 .91-.5 .92 .6 .91-.7 .92 .5 .92-.1 .91 .5 .92-.9 .91 .9 .92-.1 .92 .3 .91 .6 .92-1.1 .91 1 .92-.4 .92-.2 .91 .5 .92-.9 .91 .7 .92 .7 .92-.1 .91-.1 .92 .4 .91-.8 .92 .6 .92-.3 .91 .6 .92 .1 .91-.5 .92 .9 .92 .4 .91-.8 .92 .5 .91-.1 .92-.3 .92 .4 .91-0 .92-.2 .91 .6 .92 .3 .92-.9 .91 .1 .92 .6 .91-.4 .92 1.8 .92-1.3 .91 .6 .92-.8 .91 .5 .92 .2 .92 .5 .91-.1 .92-.7 .91 .5 .92 .1 .92 .2 .91 .8 .92-.4 .91-.5 .92 .2 .92 .2 .91-.3 .92 .3 .91-0 .92 .5 .92-.4 .91 1.1 .92-.7 .91-.5 .92 .6 .92-0 .91-.2 .92 .7 .91-.3 .92 .3 .92 0 .91 .1 .92-.2 .91-0 .92-1.7 .92 2.7 .91-.2 .92-.4 .91 .3 .92-.2 .92 .4 .91-.2 .92-.7 .91 .8 .92 .2 .92 .1 .91 .9 .92-1.4 .91 1 .92-0 .92-.7 .91 .7 .92 .8 .91-1 .92 .1 .92 0 .91 .6 .92-.1 .91 .4 .92 .2 .92-.7 .91 .3 .92-.3 .91 .7 .92-.6 .92 .6 .91 .4 .92-0 .91-.5 .92 0 .92 .3 .91-.1 .92 .1 .91-.6 .92 .2 .92 .9 .91 .4 .92-.5 .91-.1 .92 .6 .92-.2 .91-.1 .92 0 .91-.4 .92 1 .92 .1 .91-.2 .92 .1 .91-.4 .92 .4 .92 .2 .91-.2 .92 .2 .91 .2 .92-.5 .92 .3 .91 .9 .92-.3 .91-.5 .92 .9 .92-.4 .91 .1 .92 .3 .91 .5 .92-0 .92-.9 .91 .8 .92 .4 .91-.3 .92-.6 .92 .4 .91 .1 .92-.1 .91-.1 .92 .4 .92-.1 .91 .4 .92 .2 .91-.4 .92 .3 .92-.3 .91 .7 .92 .2 .91-.4 .92 .1 .92-1.9 .91 1.6 .92 .4 .91-0 .92 .2 .92-.2 .91 .7 .92-.4 .91-.3 .92 .8 .92-.2 .91 .3 .92-.3 .91 .3 .92 .3 .92-.6 .91 .9 .92-.3 .91-.2 .92-.5 .92 .4 .91 .1 .92 .2 .91-0 .92 .1 .92-.1 .91 .7 .92-1.1 .91 .6 .92-0 .92 0 .91 .6 .92-.2 .91 .7 .92-.6 .92 .2 .91 .2 .92-.9 .91 1 .92-.5 .92 .1 .91 .4 .92-.3 .91 .3 .92 .1 .92 .2 .91 .1 .92 .3 .91-.1 .92-.7 .92 .1 .91 .3 .92 .4 .91-.1 .92-.3 .92 .7 .91-.3 .92-.2 .91 .6 .92-.3 .92 .5 .91-.7 .92 .4 .91 .4 .92 .2 .92-.4 .91 .6 .92-.2 .91 .2 .92-.2 .92-.4 .91 .4 .92-.3 .91-0 .92-.3 .92 1.1 .91-.3 .92 .1 .91 .6 .92-.4 .92 .3 .91-.4 .92 .5 .91-.2 .92 .4 .92-.4 .91-.5 .92 1 .91-.4 .92 .4 .92-.2 .91 .4 .92-.2 .91 .3 .92-.1 .92 .5 .91 .4 .92-.5 .91 .2 .92-1.2 .92 1.2 .91-.6 .92 .3 .91 .1 .92 .1 .92-.5 .91 .1 .92 .7 .91-.1 .92 .4 .92-0 .91-.1 .92-.2 .91 .6 .92-.2 .92 .1 .91-1 .92 .5 .91 .7 .92-.6 .92 .4 .91 .1 .92 0 .91 .2 .92-.3 .92-.2 .91-.4 .92 1 .91 .2 .92-.2 .92-.5 .91 .2 .92 .5 .91-.7 .92 .8 .92 .2 .91-.1 .92-.2 .91 .8 .92-.2 .92-.2 .91-.6 .92 1 .91 .4 .92-.2 .92-.5 .91 .3 .92-.5 .91 .3 .92 .6 .92-.5 .91 .3 .92 .3 .91-.3 .92-.4 .92 .4 .91 .2 .92 .3 .91-.3 .92 .1 .92 .4 .91 .5 .92-.8 .91-.5 .92 .9 .92-.4 .91 .1 .92 .8 .91-.2 .92 .2 .92 .3 .91-.4 .92-.2 .91-.3 .92 1.9 .92-1.4 .91 .2 .92 .1 .91 .1 .92-.2 .92-.2 .91-.2 .92 .1 .91 .5 .92 .3 .92 .3 .91-.4 .92 .2 .91-.2 .92-.5 .92 1 .91 .3 .92 .5 .91-1.3 .92-.3 .92 .9 .91-.3 .92 .7 .91-1 .92 .1 .92-.1 .91 .5 .92 .3 .91-0 .92 .6 .92-1.5 .91 1.2 .92 .3 .91-.7 .92 .2 .92-.4 .91 1.8 .92-1.7 .91 .7 .92-.1 .92-.4 .91 .5 .92-.3 .91 .5 .92-.3 .92 0 .91 .5 .92-.3 .91 0 .92 .5 .92-.6 .91 1.1 .92-.7 .91 .3 .92-.3 .92-.1 .91 .4 .92-.2 .91 .1 .92 .8 .92-1 .91 .3 .92-0 .91 .4 .92-.1 .92 .4 .91-.4 .92 .1 .91 .2 .92-0 .92 .3 .91-.8 .92 .2 .91 .1 .92 .7 .92-0 .91-0 .92 .2 .91-.4 .92-0 .92 .2 .91-0 .92 .5 .91-.5 .92 .6 .92-.8 .91 .7 .92-0 .91-.4 .92 .4 .92-.2 .91-0 .92 .5 .91-1 .92 1.2 .92-.6 .91 .4 .92 .9 .91-.3 .92-.4 .92 .2 .91-.7 .92 .4 .91 .4 .92 .1 .92-0 .91-.4 .92 .1 .91 .4 .92 .1 .92-.1 .91-1.9 .92 1.6 .91 .1 .92 .2 .92-.5 .91 .5 .92-.4 .91 1 .92-.5 .92 .1 .91-.2 .92-.6 .91 1.1 .92-.7 .92 1.1 .91-.2 .92-.2 .91 .2 .92-.3 .92-.2 .91 .9 .92-.8 .91 .2 .92 .5 .92-.5 .91 .1 .92 .4 .91-.7 .92 1.1 .92-.3 .91-.1 .92 .2 .91-.7 .92 1.1 .92-.9 .91 1.1 .92-.4 .91-.2 .92 .1 .92 .3 .91 .4 .92-.7 .91 .5 .92 .3 .92-.6 .91 0 .92 .3 .91 .2 .92 .2 .92-.5 .91-.4 .92 .5 .91 .4 .92-.6 .92 .7 .91-.1 .92 .5 .91-.5 .92 .4 .92-.5 .91-1.7 .92 2.2 .91 .3 .92-.6 .92 .1 .91-.1 .92 .6 .91-.5 .92-.2 .92 .5 .91 .2 .92-.3 .91-.1 .92 .7 .92-.1 .91 .2 .92-.4 .91-.2 .92 .4 .92 .7 .91-.4 .92-.5 .91 .2 .92 .8 .92-.7 .91-.8 .92 1.2 .91-.6 .92 .7 .92-.4 .91 .6 .92-.6 .91-0 .92 1.2 .92-.9 .91 .1 .92-.3 .91 .2 .92 1.6 .92-.9 .91-.4 .92 .1 .91-.3 .92 .5 .92-.5 .91-.3 .92 1.2 .91-.9 .92 .6 .92 .2 .91-.4 .92 .3 .91 0 .92-0 .92 .1 .91 .1 .92-0 .91-.7 .92 .9 .92-.6 .91 .3 .92 1 .91-.4 .92-.1 .92-.1 .91 .5 .92-.4 .91-.4 .92-.6 .92 1 .91 .3 .92 .2 .91-.5 .92-0 .92 .4 .91-.5 .92 .5 .91 .4 .92-.5 .92-.4 .91 .4 .92 .7 .91-.3 .92-.1 .92-.2 .91 .6 .92-.7 .91 .9 .92-.4 .92-.1 .91 2 .92-2.2 .91 .7 .92-.4 .92 .2 .91 .3 .92-.1 .91-.7 .92 1.1 .92 .1 .91-.9 .92 .2 .91 .7 .92-.5 .92 0 .91 .3 .92-0 .91-.2 .92 .3 .92-.1 .91 0 .92-0 .91 1.2 .92-.3 .92-1.2 .91 .5 .92 .4 .91 .1 .92-.5 .92-0 .91 .5 .92-.1 .91-.3 .92 .7 .92-.1 .91 .1 .92-.4 .91 .3 .92-0 .92-.2 .91 .4 .92-.2 .91-.2 .92 .2 .92 .1 .91 0 .92 .4 .91-.8 .92 .7 .92-.6 .91 .2 .92-.5 .91 .5 .92 1.2 .92-1.5 .91 .8 .92-.1 .91 .3 .92 .5 .92 .1 .91-.4 .92-.6 .91 .2 .92-.1 .92 .4 .91-.1 .92-.2 .91 .2 .92 .3 .92 .1 .91 .2 .92 .1 .91-.1 .92 .1 .92 .2 .91 .1 .92-.2 .91-0 .92-.8 .92 0 .91 .6 .92 .7 .91-1.5 .92 1.2 .92 .7 .91-1.2 .92 .8 .91-0 .92-.4 .92-0 .91-0 .92 .6 .91-.9 .92 .8 .92-.5 .91-0 .92 .5 .91 .5 .92-1 .92 .7 .91-.4 .92 .1 .91 .1 .92-.2 .92-.6 .91 1.3 .92-.1 .91 .9 .92-.8 .92-.8 .91 .2 .92-.1 .91 .6 .92-.2 .92 .5 .91 0 .92-.4 .91 .4 .92-.6 .92 .4 .91-.1 .92 .5 .91-.1 .92 .4 .92-.3 .91-.7 .92 .6 .91 .3 .92-.2 .92-.3 .91 .5 .92-.2 .91 .2 .92 .3 .92-.4 .91 .2 .92-.3 .91-.1 .92 1.1 .92-.6 .91 .5 .92-1.2 .91 .1 .92 .5 .92 1.1 .91-1.3 .92 .4 .91-.2 .92 0 .92 .9 .91-.6 .92 .8 .91-.7 .92 .6 .92-.6 .91 .9 .92-1.4 .91 .2 .92 .4 .92 .9 .91-.5 .92 .6 .91-1 .92 .9 .92-.8 .91-.5 .92 .7 .91 0 .92 .5 .92-.5 .91 .3 .92-.6 .91-.6 .92 1.2 .92 .2 .91 .2 .92-.1 .91 .6 .92-.3 .92-.8 .91 .2 .92 .5 .91 0 .92-.3 .92 .1 .91 .4 .92-.2 .91 .3 .92-.5 .92-.1 .91 .2 .92-.1 .91 .3 .92-.2 .92 .5 .91-.4 .92-.3 .91 .6 .92-.1 .92-.7 .91 .4 .92 0 .91 .6 .92 .4 .92-.4 .91 .2 .92 .5 .91-.4 .92-.4 .92 0 .91-.1 .92 0 .91-.4 .92 .7 .92-.5 .91 .1 .92 .3 .91 .3 .92-.4 .92 .2 .91 0 .92 0 .91 1 .92-.4 .92-.4 .91 .3 .92-.1 .91 .2 .92-.1 .92-.3 .91 .6 .92-.3 .91 .2 .92-.1 .92 .1 .91 .6 .92-1.1 .91 .4 .92-.1 .92 .5 .91-.4 .92 .4 .91-0 .92 .1 .92-.2 .91-.5 .92-.2 .91 1 .92-.1 .92-.2 .91 .6 .92 .1 .91-.2 .92 .1 .92-.2 .91-.4 .92 .1 .91 .5 .92 0 .92-.6 .91 .7 .92 .2 .91-.1 .92-.3 .92-.2 .91 .3 .92-.1 .91 .3 .92 0 .92-.1 .91 .5 .92-.3 .91 .3 .92-1.1 .92 1 .91 .4 .92-.7 .91-.3 .92 .4 .92 .4 .91 .1 .92 .2 .91-.4 .92 .1 .92-.2 .91 .2 .92-.4 .91-.1 .92 .8 .92-.9 .91 .9 .92-.6 .91 .6 .92 .3 .92-.8 .91-0 .92 .6 .91-.1 .92-.7 .92 .8 .91-.1 .92 .3 .91-.3 .92-.2 .92 .2 .91 0 .92 .8 .91-.2 .92-1.8 .92 1.1 .91 .2 .92-.4 .91 1 .92-.3 .92 .1 .91-.2 .92 .4 .91-.3 .92 .2 .92-.1 .91 .3 .92-.5 .91-.5 .92 .9 .92-0 .91-.1 .92 .4 .91-.1 .92-0 .92-.1 .91-.6 .92 1.3 .91-1 .92 .5 .92-.2 .91 .2 .92-.3 .91-.4 .92 .4 .92-.5 .91 1.1 .92-.4 .91-.1 .92 .3 .92 .3 .91-.6 .92 .1 .91 .2 .92-0 .92 .5 .91-.4 .92-.3 .91 .5 .92 .1 .92-.3 .91 .3 .92-.5 .91-.3 .92-.1 .92 .3 .91 .6 .92 .1 .91 0 .92-.5 .92 .3 .91 .1 .92 .3 .91-.1 .92-.7 .92 .8 .91 .1 .92-.3 .91 .1 .92 .3 .92-.5 .91 .2 .92-.2 .91 .8 .92-.4 .92-.3 .91 .4 .92-.1 .91-.3 .92 0 .92 .8 .91-.7 .92 .4 .91-.5 .92 0 .92 .5 .91-.1 .92-0 .91-.2 .92 .3 .92-.5 .91 1.3 .92-1.7 .91 .5 .92 .3 .92 .9 .91-1.1 .92 .2 .91-.6 .92 1.1 .92-.2 .91 .1 .92-.4 .91 .4 .92 .1 .92-.3 .91 0 .92-.1 .91 .1 .92 .2 .92 .6 .91-.7 .92 .5 .91-.3 .92-.1 .92 .3 .91-.5 .92 .5 .91-.3 .92 .3 .92 0 .91-.4 .92 .1 .91 .3 .92 .1 .92 .2 .91-.1 .92 .2 .91-.1 .92-.9 .92 .4 .91 .7 .92-.2 .91-.1 .92-.2 .92 .4 .91-.1 .92-0 .91-.1 .92 .2 .92-0 .91-.4 .92-.1 .91 1.3 .92-.2 .92-.4 .91 .2 .92 .1 .91-.3 .92-.5 .92-.1 .91 1.1 .92-.1 .91-.6 .92 .2 .92 .6 .91-.4 .92 0 .91-.8 .92 .3 .92 .5 .91 .1 .92 .6 .91-.6 .92 .6 .92-1.1 .91 .3 .92 .4 .91-.4 .92 .5 .92-.6 .91 .5 .92-.1 .91 .1 .92 .1 .92-.1 .91-.5 .92 .3 .91 .4 .92-.1 .92-.6 .91 .2 .92 .5 .91-.3 .92 .5 .92-.2 .91 0 .92-.3 .91 .2 .92 .1 .92-.4 .91-.1 .92 .8 .91-.6 .92 .1 .92 .4 .91 .5 .92-.2 .91-.1 .92-.1 .92 .3 .91-.3 .92 .4 .91-.6 .92 .1 .92-.1 .91 0 .92 .2 .91-.1 .92-.3 .92 .7 .91-.7 .92 .5 .91 .1 .92-.4 .92 .2 .91 .5 .92 .4 .91-1.3 .92 .1 .92 .3 .91 .1 .92 .5 .91-.7 .92 0 .92-.1 .91 .2 .92 .4 .91-.6 .92 .3 .92 .6 .91 .1 .92-0 .91-.8 .92 .4 .92 .4 .91-.1 .92-.1 .91 .5 .92-.7 .92 .3 .91-.7 .92 .7 .91-.3 .92 0 .92 .3 .91-.7 .92 .3 .91 .4 .92-0 .92-.1 .91 .5 .92-.2 .91-.1 .92-0 .92-0 .91 .4 .92 .1 .91-.8 .92 .1 .92 1.2 .91-.8 .92 .3 .91-.4 .92-.6 .92-.1 .91 .6 .92 .2 .91-.1 .92 .3 .92-0 .91-.6 .92 .9 .91 .1 .92-.4 .92-.5 .91-1.2 .92 2 .91-.5 .92 .1 .92 1 .91-.7 .92-.4 .91 .4 .92-.3 .92 .1 .91 .4 .92 0 .91-0 .92-.2 .92-.1 .91-.4 .92 .6 .91-.2 .92-.3 .92 .4 .91 .6 .92-.7 .91 .5 .92-.3 .92-.7 .91 .6 .92 .2 .91 .4 .92 .1 .92-.3 .91-.3 .92 .9 .91-.2 .92 .2 .92-.2 .91-.4 .92-.8 .91 1 .92 .2 .92-.3 .91 .4 .92-.2 .91-.5 .92 .3 .92-0 .91-.1 .92 .7 .91-.7 .92 .5 .92 .5 .91-1.5 .92 1.1 .91 .5 .92-1 .92-.1 .91 .8 .92-.3 .91 .2 .92 0 .92-.5 .91-.1 .92 .8 .91-.7 .92 .1 .92 .2 .91 .9 .92-1 .91-0 .92 .6 .92 .2 .91-.2 .92-.2 .91 .1 .92 .2 .92 .1 .91-.6 .92 .2 .91-.1 .92 .2 .92 0 .91-.1 .92 .3 .91-.1 .92 .7 .92-.7 .91-0 .92-0 .91 .5 .92-.4 .92 .1 .91 .3 .92 .1 .91-.3 .92 .8 .92-.3 .91 .9 .92-.6 .91-0 .92-.3 .92-.2 .91-.1 .92 .3 .91-.2 .92 .4 .92-.5 .91 .4 .92-.5 .91 .3 .92-.1 .92 .1 .91-.3 .92 .9 .91-.9 .92 1 .92-.4 .91-.5 .92 .5 .91 2.3 .92-3.5 .92 1 .91-.2 .92 1 .91-0 .92-.4 .92 .2 .91-.3 .92 .4 .91 .4 .92-1 .92 .5 .91 .1 .92-.2 .91 .2 .92 .2 .92-.6 .91-.8 .92 1.2 .91-.3 .92 .7 .92-0 .91 .3 .92-.1 .91-.6 .92 .3 .92-.2 .91 .5 .92-.1 .91 .2 .92-.3 .92-.3 .91 .3 .92 .1 .91-.3 .92 .7 .92-.4 .91 0 .92 .4 .53 .1" stroke="#0000ff" stroke-width="3.9"/>
<path d="M189.5 225.5l.5-.2 .5 4.4 .5 4.5 .5 3 .5 3.7 .5 3.2 .5 3.7 .5 2.6 .5 2.9 .5 3 .5 2.7 .5 2.4 .5 2.3 .5 2.5 .5 2.7 .5 2.3 .5 1.9 .5 2.7 .5 2 .5 1.8 .5 2.1 .5 2.1 .5 1.7 .5 2.3 .5 1.6 .5 1.8 .5 2.1 .5 1.6 .5 1.1 .5 2.2 .5 1.2 .5 2.1 .5 1.7 .5 .9 .5 2.4 .5 2.9 .5-.1 .5 .8 .5 1.9 .5 1.5 .5 1.5 .5 1.4 .5 .9 .5 1.1 .5 2 .5 2.2 .5 .2 .5 1.2 .5 1.4 .5 2.7 .5-.4 1 1 1 3.3 1 2.1 1 2 1 2 1 2.3 1 5.8 1-1 1 1.7 1 1.1 1 2.2 1 2.2 1 1.5 1 1.7 1 2.5 1 1.5 1 1.2 1 .4 1 2.4 1 .8 1 1.7 1 1.6 1 1.6 1 2.5 1-1.2 1 2.9 1 .6 1 1.5 1 .7 1 2.5 1 .4 1 1.5 1 .3 1 2.1 1 .6 1 .6 1 1.2 1 1 1 .9 1 2.1 1 .4 1 .3 1 .7 1 2.3 1 .4 .92 .7 .91 .6 .92 2 .91 .6 .92 0 .92 .7 .91 .9 .92 .9 .91 .8 .92 0 .92 .5 .91 1.7 .92 1.3 .91 .5 .92 .5 .92 .2 .91 1.3 .92 .9 .91 .7 .92 .9 .92-.2 .91 .5 .92 2.3 .91-.9 .92 1.2 .92 .3 .91-.2 .92 1.4 .91 .5 .92 .5 .92 .6 .91 .1 .92 1 .91 .1 .92 1.8 .92-.4 .91 1.2 .92 1.3 .91-1.3 .92 2.1 .92 .1 .91 .2 .92 .1 .91 1.7 .92 .4 .92-0 .91 .1 .92 1.6 .91 .8 .92-.8 .92 1 .91 .7 .92 .7 .91-.1 .92 1.7 .92-.6 .91 .3 .92 .3 .91 .3 .92 1.4 .92 .1 .91 0 .92 .3 .91 1.5 .92 1.5 .92-.8 .91 .2 .92 .1 .91 1.2 .92 1.7 .92-1.2 .91 .2 .92 1.3 .91-.8 .92 1 .92 1.3 .91-.4 .92 0 .91-.6 .92 1.1 .92 .8 .91 1.4 .92-1.2 .91 2.1 .92-.7 .92 .2 .91 .8 .92-.5 .91 1.2 .92 1 .92-1.5 .91 .9 .92 .2 .91 1.1 .92 .3 .92 1.3 .91-1.2 .92 1.5 .91-.5 .92 1.2 .92-.3 .91 .7 .92-.4 .91 1.3 .92 .2 .92-.9 .91 .9 .92 .7 .91-.4 .92 .3 .92-0 .91 1.4 .92 .4 .91-.4 .92 1.5 .92-1.4 .91 2.5 .92-1 .91 1.2 .92-.6 .92 .4 .91 .7 .92 .2 .91-.6 .92 .8 .92 .5 .91 .2 .92 .3 .91 .2 .92 .3 .92 .8 .91-.1 .92 .3 .91-.6 .92 1.9 .92-.5 .91 1.2 .92-.6 .91-.1 .92 .6 .92 .3 .91 .3 .92 .3 .91 .3 .92 .9 .92-.7 .91 .2 .92 .2 .91 1.4 .92-.6 .92 .6 .91 .9 .92-.4 .91-.5 .92 1.2 .92 .6 .91 .8 .92-.1 .91-.4 .92 .2 .92 .3 .91-0 .92 1.1 .91-.6 .92-.1 .92 .1 .91 .1 .92 .9 .91 .7 .92-.6 .92 .5 .91-.2 .92 .4 .91 .3 .92 1.2 .92 .9 .91-.3 .92-.2 .91-.2 .92 1.1 .92-.9 .91 .1 .92 1.5 .91-1.1 .92 1.5 .92-.4 .91 .7 .92-1 .91 1.3 .92 .2 .92 .8 .91-1.3 .92 .7 .91-.4 .92 1.8 .92-.6 .91 .2 .92 .8 .91-.5 .92 .5 .92-0 .91 .7 .92-1.3 .91 2 .92-.3 .92-.4 .91 1.3 .92 .8 .91-1.3 .92 .6 .92 .2 .91 .5 .92-.8 .91 .9 .92-.2 .92 .8 .91-.4 .92 .4 .91 .1 .92 .2 .92 .5 .91 .3 .92-1.7 .91 1.7 .92 .4 .92 .7 .91 .5 .92-.6 .91 .5 .92 .7 .92-.1 .91-.3 .92 .2 .91-.9 .92 2.3 .92-.5 .91-.2 .92 .3 .91 .9 .92 0 .92 .2 .91 .2 .92-.6 .91 .2 .92 .6 .92-.2 .91 .6 .92-.1 .91 .2 .92 .8 .92-.7 .91 .3 .92 1.2 .91-1.3 .92 1 .92 .1 .91-.1 .92 1.2 .91-.9 .92-.6 .92 1.8 .91 .6 .92-1.6 .91 1.1 .92 0 .92 .3 .91 .4 .92-0 .91 .2 .92-.9 .92-.7 .91 2.3 .92-.2 .91 .3 .92 .4 .92-1 .91 .1 .92 .5 .91 .9 .92-0 .92-.5 .91 .6 .92 .2 .91 .1 .92 .2 .92 .9 .91-.5 .92 .2 .91-.2 .92 2.7 .92-1.8 .91-.2 .92 .3 .91 .6 .92-.7 .92 1.1 .91-1.1 .92 .1 .91 .4 .92-.2 .92 1.2 .91-.2 .92 .4 .91 .7 .92-1.1 .92 1.1 .91-.5 .92 .8 .91 1.1 .92-1.5 .92 .8 .91-.4 .92 1.1 .91-1 .92 .6 .92-.7 .91 .5 .92 .8 .91 .2 .92 .1 .92 1.2 .91-.8 .92-.8 .91 .7 .92 .5 .92-.6 .91-.1 .92 1.4 .91-.4 .92-.9 .92 1 .91 .4 .92 .1 .91 .1 .92 .4 .92-.6 .91 .3 .92 .5 .91-.2 .92 .8 .92-.9 .91 .7 .92 .3 .91 0 .92 .1 .92-.2 .91 .1 .92-.3 .91 .6 .92 1 .92 .2 .91-1.2 .92-0 .91 2 .92-1.6 .92 1.4 .91-.1 .92 .1 .91-.5 .92 .4 .92 .2 .91-.5 .92 1.2 .91-1.6 .92 .9 .92-.1 .91 .5 .92 1.2 .91-1.3 .92 .8 .92-.9 .91 1.7 .92-1.1 .91 1 .92-.3 .92 .1 .91 .3 .92-.1 .91 .5 .92 .6 .92-2.5 .91 1 .92 1.4 .91-1.2 .92 1.8 .92-.2 .91 1.2 .92-.9 .91-.7 .92 .4 .92-.1 .91 .9 .92 .9 .91-1.1 .92-.2 .92 .4 .91-1.2 .92 1.2 .91 .7 .92-.4 .92 .2 .91 .5 .92-0 .91-.1 .92-0 .92 .6 .91-.9 .92 .4 .91 1.2 .92 .1 .92-.3 .91-2 .92 1.1 .91 1.1 .92-1.1 .92 1.2 .91-0 .92 .2 .91-1.1 .92 .9 .92-.1 .91-.4 .92 .4 .91 1.6 .92-1.1 .92-.5 .91 .7 .92 2 .91-1.9 .92 .3 .92 .3 .91-1.1 .92 .7 .91 .2 .92 1 .92-.7 .91 .1 .92-.4 .91 .1 .92 1.3 .92-.4 .91 .6 .92-1 .91 .6 .92 .4 .92-.4 .91 .2 .92-.6 .91-.2 .92 .6 .92-.2 .91 .2 .92 .8 .91-.1 .92 .7 .92 .2 .91 .6 .92-.8 .91-.2 .92 .6 .92-1 .91 .4 .92 1 .91-.5 .92 .6 .92-.1 .91-0 .92 .3 .91-.3 .92-.3 .92 .3 .91 .6 .92-.8 .91 2.5 .92-1.8 .92 .3 .91 .3 .92 .3 .91-1 .92 .6 .92-.4 .91 .7 .92 .1 .91 .1 .92-.1 .92-.1 .91 .2 .92-.8 .91 1.1 .92 .1 .92 .3 .91 .2 .92-.3 .91 .2 .92 0 .92 .4 .91-.3 .92 .9 .91-.1 .92-.9 .92 .2 .91-.1 .92 .4 .91-0 .92 .4 .92 .1 .91-.1 .92-.2 .91 .1 .92 1 .92-.6 .91 .4 .92-.3 .91 1 .92-.9 .92-.1 .91 .2 .92 .5 .91-.6 .92-2 .92 3.3 .91 .4 .92 0 .91-1 .92 .7 .92 .1 .91 .2 .92-.4 .91-.1 .92 .5 .92-.4 .91-1 .92 1.7 .91 .9 .92-1.3 .92 .3 .91-.7 .92 1.6 .91-.1 .92-.9 .92 .4 .91-.7 .92 1.3 .91-.3 .92 .6 .92-.2 .91 .2 .92-.5 .91 .3 .92 1 .92-2.2 .91 .8 .92 1.5 .91-.7 .92 .5 .92-.2 .91 .2 .92-.8 .91 .4 .92 0 .92 .2 .91 .4 .92-0 .91-.8 .92 1.5 .92-1.3 .91 1.3 .92-.5 .91 .5 .92 .5 .92-1 .91 .4 .92 .1 .91-1.9 .92 1.3 .92 1 .91 .2 .92-.4 .91-2.7 .92 3.1 .92 .6 .91-.6 .92 0 .91 .1 .92 .1 .92-.7 .91 .6 .92 .1 .91-.1 .92 .3 .92 .9 .91-.3 .92-0 .91-.5 .92 .7 .92-.1 .91-.1 .92 .5 .91-.2 .92 .4 .92-1 .91 .6 .92 .7 .91 .5 .92-.6 .92-.1 .91 0 .92 .3 .91 .8 .92-.7 .92-.5 .91 .1 .92 .4 .91 .7 .92-.7 .92-.3 .91 .9 .92-.4 .91-1.1 .92 2.3 .92-.3 .91 1 .92-.3 .91-.4 .92-.5 .92 .4 .91-.6 .92 .8 .91 .2 .92-.5 .92 .1 .91-.3 .92 .6 .91 0 .92 2.8 .92-2.8 .91 1.4 .92-1.3 .91-.2 .92 .3 .92 .5 .91-.8 .92 1.4 .91-0 .92-.7 .92 .3 .91 .8 .92-.6 .91 .4 .92-.3 .92 .2 .91-.8 .92 .8 .91 .5 .92-.1 .92-.8 .91 1.3 .92-.8 .91-.4 .92 .9 .92 .1 .91 .8 .92-.4 .91-.4 .92-.1 .92 .5 .91-.1 .92 .1 .91 .3 .92-.2 .92 .4 .91-.7 .92 .2 .91 .4 .92 .5 .92-.7 .91 .2 .92 0 .91 .6 .92 .1 .92 .5 .91-1.7 .92 .7 .91 .6 .92 0 .92-.5 .91 1.1 .92-1.2 .91 1.2 .92-.7 .92 1 .91-.5 .92 .4 .91-.9 .92 .2 .92 .5 .91 .7 .92-.8 .91 .4 .92-.1 .92-.2 .91 .5 .92 .6 .91-1.5 .92 1.2 .92-.6 .91-.8 .92 1.3 .91 .2 .92 .3 .92-.7 .91 .8 .92 .3 .91-.6 .92 .1 .92-.7 .91 .7 .92 .3 .91-0 .92-.5 .92 .8 .91-.1 .92-1.4 .91 .9 .92 .3 .92 .1 .91 .6 .92-.2 .91 .9 .92-1.4 .92 1.1 .91-1.2 .92 .9 .91-0 .92 .4 .92-.6 .91 .1 .92 .6 .91-.4 .92 .6 .92-.6 .91 .6 .92-1.1 .91 .7 .92 1.8 .92-1.1 .91-.2 .92 .4 .91-.5 .92 .5 .92 .2 .91-.8 .92 .5 .91 0 .92-1.1 .92 .9 .91-.1 .92 1.8 .91-1.8 .92 1.5 .92 .2 .91-.2 .92 1.2 .91-1.9 .92-.4 .92 .8 .91 .4 .92-1.2 .91 .8 .92-.3 .92 1.6 .91-1.5 .92 .9 .91 0 .92 .8 .92-.6 .91-.4 .92 1.1 .91-.8 .92-.3 .92-.7 .91 2 .92-.5 .91-.7 .92 .7 .92 .2 .91-.4 .92 3.4 .91-3.2 .92-.1 .92-.2 .91 .6 .92 .2 .91-.8 .92 .3 .92-.3 .91 1.4 .92-0 .91-.9 .92-0 .92 .9 .91-.5 .92 .7 .91 .7 .92-1 .92-0 .91-.4 .92 .5 .91-.4 .92 .9 .92-.6 .91 1.8 .92-.8 .91-.2 .92 .8 .92-1.7 .91 .7 .92-.6 .91 .6 .92-1.2 .92 1.1 .91-.2 .92 .1 .91 1.3 .92-.8 .92-0 .91 .7 .92-.1 .91-.2 .92 .2 .92 .6 .91-.3 .92-.4 .91 .3 .92-.2 .92 1.4 .91-1.4 .92 .1 .91 .8 .92-1.1 .92 .5 .91-.3 .92 1.4 .91-.7 .92-.3 .92 0 .91-.3 .92 .5 .91-.2 .92 .6 .92-.3 .91 .2 .92 .6 .91-.8 .92 1.2 .92 .1 .91-.8 .92 .3 .91-.2 .92-.1 .92 .3 .91 .6 .92-.3 .91 .4 .92-.6 .92-.8 .91 1 .92 .6 .91-.8 .92 0 .92 .9 .91 .1 .92-.4 .91-.1 .92 .7 .92 .3 .91-.3 .92-.7 .91-.2 .92 .4 .92 .1 .91-.1 .92 .7 .91-.8 .92 .3 .92 0 .91 .4 .92-.4 .91-.5 .92 .5 .92 1 .91-1 .92 .5 .91 1.2 .92-.2 .92 .5 .91-1.9 .92 1.2 .91-0 .92-.1 .92-.7 .91 .9 .92-.9 .91 1.5 .92-1.5 .92 0 .91 .7 .92 .2 .91 .5 .92-1.3 .92 .5 .91 .7 .92-.8 .91 .3 .92-.2 .92 .8 .91-.3 .92-1 .91 .9 .92-.8 .92 1.7 .91-.3 .92-.6 .91 .1 .92 .6 .92 0 .91-0 .92-.1 .91-.3 .92 1.4 .92-.3 .91-.9 .92-.2 .91 .7 .92 .1 .92-0 .91 .7 .92-.4 .91 .4 .92-1.1 .92-.3 .91 1.1 .92 .3 .91-.6 .92 .6 .92-2.2 .91 2.3 .92-.3 .91-.4 .92-.3 .92 1.4 .91 .4 .92-1.2 .91 1 .92-1 .92 .8 .91-1.1 .92 .5 .91 .1 .92 .7 .92-.4 .91 .1 .92 .2 .91 .7 .92-.3 .92 .4 .91 .5 .92-.8 .91-.4 .92-0 .92 .4 .91-.4 .92 .2 .91-1 .92 1.3 .92 .1 .91 0 .92 .4 .91-0 .92-.6 .92 .1 .91 .5 .92 .7 .91-.2 .92-.7 .92-.1 .91 1.1 .92 .6 .91-1.2 .92-.9 .92 .2 .91 1 .92 0 .91-.6 .92 .5 .92-.8 .91 .8 .92 .6 .91 .5 .92-.3 .92-.3 .91 .8 .92-.8 .91-.2 .92 .8 .92-.4 .91 .4 .92-.8 .91 .1 .92 .2 .92-.4 .91-.2 .92 1.2 .91-2.2 .92 2 .92 .2 .91-.1 .92 .3 .91-1.3 .92 .8 .92-.3 .91 .4 .92 .5 .91-.4 .92-0 .92 .4 .91 .3 .92-.5 .91-.5 .92 .9 .92 1.2 .91-.6 .92 .6 .91-1.9 .92-.5 .92 1.4 .91 .1 .92-.1 .91-.6 .92 1.4 .92-.4 .91-1 .92 .5 .91-.2 .92-0 .92-.2 .91 1.2 .92-.1 .91-.7 .92 .8 .92-1 .91 .8 .92-0 .91 1.1 .92-.8 .92-.8 .91 .8 .92 .2 .91-.2 .92 .1 .92-.6 .91 .4 .92 .3 .91-.8 .92 .8 .92 .9 .91-1 .92 .1 .91 0 .92-.4 .92 1.4 .91-.3 .92-1.5 .91 1.1 .92 .7 .92-2.5 .91 2.5 .92 .1 .91-.4 .92-.7 .92 2.6 .91-1.8 .92-3.6 .91 2.9 .92 .5 .92 .9 .91-1.5 .92 .3 .91 0 .92 1.2 .92-2.5 .91 1.9 .92 .1 .91 1 .92-.8 .92-.8 .91 1 .92-.1 .91 .2 .92-.6 .92 .9 .91-.1 .92-.9 .91 .6 .92 .5 .92-1.4 .91 .8 .92-.4 .91 1.2 .92-.3 .92-.6 .91 .4 .92-.1 .91-.2 .92 1.2 .92-1.9 .91 1.4 .92-.4 .91 1 .92 .1 .92-.8 .91 .3 .92-.7 .91 .8 .92 .2 .92-.9 .91 .9 .92 .3 .91-.1 .92-.3 .92-.1 .91 .6 .92-1.1 .91 1.7 .92 .6 .92-1.4 .91-.7 .92 .8 .91-.2 .92 0 .92 .5 .91-0 .92 1.3 .91 3 .92 3.4 .92 2.8 .91 1.1 .92-.5 .91-3.6 .92-4.6 .92-2.7 .91-1.1 .92-.7 .91 .2 .92 1.8 .92 .7 .91 3.7 .92 4.7 .91 3.6 .92 0 .92-3.3 .91-2.1 .92-4.1 .91-2 .92-3.4 .92-.9 .91 .2 .92 1 .91 .8 .92 1.7 .92 0 .91-.3 .92-.5 .91 .5 .92 .2 .92-.4 .91 .8 .92-.1 .91-.9 .92 .4 .92-0 .91 .5 .92 .2 .91-.7 .92 .5 .92-.5 .91 .5 .92-.7 .91 .5 .92 .1 .92-.2 .91-0 .92 .8 .91-.3 .92 .4 .92-.6 .91 .7 .92-.6 .91 .1 .92 .8 .92-1.3 .91 2.1 .92-1.4 .91-.5 .92 .9 .92-.7 .91 0 .92 .7 .91 .2 .92 .5 .92-1.2 .91 2.1 .92-1.7 .91-.1 .92 .9 .92 .4 .91-1.3 .92 1.5 .91-.7 .92-.4 .92 .9 .91-.5 .92 .2 .91-.7 .92 .5 .92 .3 .91-.8 .92 .8 .91-.3 .92 .8 .92-1.2 .91 .1 .92 .6 .91 .3 .92-.8 .92 1.1 .91-1.2 .92 .9 .91-.2 .92 .2 .92 .2 .91-.7 .92-.5 .91 2.2 .92-1.2 .92 .8 .91-.2 .92-.7 .91-.3 .92 .2 .92 .8 .91-.4 .92 .3 .91-.2 .92-.3 .92 .2 .91 .4 .92-1 .91 .6 .92-.5 .92 .2 .91 .4 .92 .3 .91-.4 .92-.5 .92 .8 .91-.4 .92 .2 .91 1.2 .92-.2 .92-.7 .91-.6 .92 .8 .91-2.2 .92 2.1 .92 .2 .91-.1 .92 .4 .91-.6 .92 .1 .92 .2 .91 1.1 .92-.4 .91-.5 .92-.2 .92 .1 .91 .7 .92-.2 .91-.4 .92-.5 .92 .6 .91 .3 .92-.3 .91 .5 .92-.7 .92 .1 .91 .7 .92-.8 .91-.2 .92-.3 .92 2.1 .91-.4 .92-1.1 .91 .7 .92-.3 .92-.2 .91 1 .92-.9 .91 .1 .92 .4 .92 .4 .91 .1 .92-.2 .91 0 .92-.7 .92 .1 .91 0 .92 1 .91-.6 .92 .2 .92 .6 .91-1.5 .92 .5 .91 .3 .92 .3 .92 .1 .91-1.1 .92 .3 .91 .8 .92-.7 .92 2 .91-.8 .92-1 .91-.2 .92 .6 .92-.1 .91 .4 .92-.4 .91 .2 .92 .8 .92 .4 .91-.8 .92 1.4 .91-.3 .92-1.9 .92 3.1 .91-2.5 .92-.2 .91 .5 .92-.1 .92 .7 .91 .2 .92-1 .91 .9 .92-1.2 .92 .6 .91-.5 .92 .7 .91-.6 .92 .6 .92 .3 .91-.3 .92-.3 .91-.8 .92 .7 .92 .7 .91 .1 .92-.4 .91 .4 .92-1.4 .92 .9 .91-.1 .92 .7 .91 0 .92-1 .92 1.4 .91-.1 .92-.2 .91 .3 .92-1.7 .92 1.3 .91 .1 .92-.7 .91 .6 .92-.8 .92 .9 .91 .2 .92 .6 .91-.8 .92-.4 .92-.3 .91 .2 .92-.2 .91 1.2 .92 .1 .92-1.4 .91 .8 .92-.7 .91 .3 .92 .5 .92 .7 .91-.4 .92 .7 .91-.6 .92 0 .92-1.4 .91 1.5 .92-.6 .91 .6 .92-.2 .92 .7 .91-.7 .92 .1 .91-0 .92 .5 .92-.4 .91 1 .92-.6 .91-.2 .92-.4 .92-.1 .91 .3 .92 1.2 .91-.8 .92-.1 .92-.7 .91 .4 .92 .6 .91-1 .92 1.3 .92-.5 .91-.1 .92-.7 .91 .6 .92-.1 .92 1.5 .91-.2 .92-2 .91 .8 .92-.2 .92 1.1 .91-.9 .92-.1 .91 .9 .92-0 .92-.4 .91 .2 .92-.1 .91-.3 .92 1.1 .92-1.1 .91-.2 .92 .3 .91-.2 .92 .2 .92 .7 .91-1 .92 .5 .91-.4 .92 .7 .92 .8 .91-.6 .92 .1 .91 .2 .92-1 .92 .1 .91 .9 .92 .2 .91-.4 .92 .1 .92-2.8 .91 3.5 .92-1 .91-0 .92 1.2 .92-.9 .91-1 .92 .8 .91-.2 .92-.2 .92 1.4 .91-1.1 .92 .8 .91-1.1 .92 .6 .92-0 .91 .6 .92-.7 .91-.7 .92 .9 .92 .1 .91 1.4 .92-1.5 .91-.1 .92-.4 .92 .3 .91 .3 .92 .7 .91-1.9 .92-.6 .92 2.4 .91-.7 .92-.3 .91 1 .92-.1 .92-.2 .91-.4 .92 .8 .91-.1 .92 .4 .92-.5 .91 .6 .92-1.3 .91 .1 .92 .5 .92-.5 .91 .6 .92-.5 .91 1.1 .92-.4 .92-.2 .91-.1 .92-0 .91-.2 .92 .8 .92-.7 .91 .4 .92-.3 .91-.1 .92 .3 .92 .6 .91-.7 .92 .2 .91 .4 .92-1.4 .92 1 .91-.5 .92-.1 .91 .2 .92 1 .92-.5 .91-1.2 .92 1.2 .91-.8 .92 1 .92-1.1 .91 1.6 .92-.5 .91 .4 .92-.8 .92 .9 .91-.9 .92 .9 .91-1.1 .92 .6 .92-.6 .91 1.1 .92-.7 .91-.9 .92 .5 .92 1.1 .91 .1 .92-2.1 .91 .9 .92 .6 .92-.1 .91 .4 .92 .7 .91-.6 .92-.1 .92-.6 .91 .7 .92-.1 .91-.8 .92 1.4 .92-.9 .91 1 .92-.1 .91-.7 .92 1.4 .92-1.4 .91 1.7 .92-1.8 .91 .5 .92-.2 .92-.7 .91 .1 .92 .3 .91 1.1 .92-1.6 .92 1.6 .91 .1 .92-.3 .91-.5 .92-.1 .92 .8 .91-1.8 .92 1.4 .91 .2 .92-.5 .92 .6 .91-.2 .92 .2 .91 .8 .92-.1 .92-.8 .91 .6 .92-1.4 .91 .2 .92-0 .92 .5 .91-.4 .92 .7 .91-.5 .92 .6 .92-.3 .91-.1 .92-.3 .91-.1 .92 .5 .92 .9 .91-.6 .92-.1 .91-.3 .92 .8 .92-1 .91 .7 .92-.4 .91-.1 .92-.3 .92 .9 .91-.5 .92 .2 .91 .1 .92-0 .92-.2 .91 .4 .92-.6 .91 1.6 .92-1.2 .92-0 .91 .7 .92-.7 .91-.4 .92 .4 .92-.2 .91 .9 .92-.1 .91 .1 .92-1.1 .92 .1 .91 .7 .92 .7 .91-.6 .92 .3 .92-.7 .91 1 .92-1.2 .91 1.2 .92-.8 .92 .7 .91-.3 .92-.9 .91 1.6 .92-.4 .92-.1 .91-.6 .92 .3 .91-1.1 .92 1.8 .92-1.3 .91 .6 .92 1.5 .91-4.3 .92-.9 .92-1.1 .91 .7 .92-1 .91 .4 .92 .6 .92 1.1 .91 1.4 .92 .5 .91 .1 .92-1.7 .92 2.1 .91 .7 .92-.1 .91-.2 .92 .6 .92 .1 .91 .3 .92-.5 .91-.5 .92 .7 .92 .1 .91 .1 .92 0 .91-.1 .92-.1 .92 .1 .91 .5 .92-.2 .91-.3 .92-.6 .92 .5 .91-.1 .92-.5 .91 .8 .92 .3 .92-.8 .91 .3 .92 .3 .91 .6 .92-.7 .92 .4 .91-.5 .92-.5 .91 1.7 .92-1.8 .92 1 .91-1.4 .92 .3 .91 1 .92-.7 .92 .8 .91-0 .92-.5 .91-.4 .92 1.1 .92-.4 .91-.4 .92 .7 .91-.7 .92 .6 .92 .1 .91-1.8 .92 5.1 .91-4.4 .92 1.3 .92-1 .91 .4 .92 .6 .91-.5 .92 1 .92-.8 .91-.3 .92 .1 .91-.2 .92-.4 .92 1.5 .91-1.1 .92 1.3 .91-.4 .92-.7 .92 1.2 .91-.6 .92 .1 .91-.2 .92-.5 .92 .4 .91-.2 .92 .3 .91 .6 .92-.6 .92-0 .91 .4 .92-1.3 .91-.1 .92 1.1 .92 0 .91-.3 .92 .4 .91-1.3 .92 1.2 .92-.1 .91-.1 .92 1 .91-.8 .92-.8 .92 .5 .91 .5 .92-.7 .91 .2 .92-.8 .92 .5 .91 1.1 .92-.5 .91 .4 .92-1.2 .92 .9 .91 .1 .92-0 .91 .4 .92-1.4 .92 1.4 .91-1.1 .92 1.1 .91 .2 .92-1.7 .92 .9 .91 .4 .92-.7 .91 .3 .92 .1 .92-.2 .91-.3 .92 .4 .91 .5 .92-.5 .92 .6 .91-.3 .92-.8 .91 1.7 .92-.5 .92-.1 .91-1.4 .92 .3 .91 2.2 .92-1.8 .92 .4 .91 .3 .92-.4 .91 .4 .92-.5 .92-.3 .91 1.4 .92-1.1 .91 .2 .92 .5 .92-.1 .91 .5 .92-1.2 .91 .5 .92 0 .92 .6 .91-1.2 .92 .9 .91-1 .92 1 .92-.1 .91-1.1 .92 1.2 .91-.8 .92 1 .92-.4 .91 .4 .92-1 .91 .8 .92-.3 .92 .5 .91-.3 .92-.6 .91-.2 .92 1 .92-.5 .91 .2 .92 0 .91-.3 .92-.8 .92 1.8 .91 .3 .92-.7 .91 .1 .92-.1 .92 .5 .91-1 .92 .2 .91 .9 .92-1.1 .92 1.2 .91-1.4 .92 .2 .91-.7 .92 1 .92 .6 .91-.4 .92-3.1 .91 3 .92 .7 .92 0 .91-1.2 .92-0 .91 1.6 .92-1 .92-.3 .91 .2 .92-.3 .91 .5 .92-.9 .92 1 .91-.1 .92-.4 .91-.3 .92 1.1 .92 .2 .91-.9 .92-.2 .91 .8 .92 .7 .92-.8 .91 .4 .92-.2 .91-1.3 .92 1 .92-.1 .91 .1 .92 0 .91 .5 .92-.7 .92 .9 .91-.3 .92-.9 .91 1.2 .92 .1 .92-.8 .91 .2 .92-.2 .91 0 .92 .4 .92 .4 .91-1 .92-1.3 .53 1.5" stroke="#8c00ff" stroke-width="3.9"/>
<path d="M189.5 162.3l.5-.8 .5 1.9 .5 1.6 .5 2.7 .5 2.9 .5 1.8 .5 2.9 .5 2.7 .5 2.8 .5 2 .5 2.6 .5 2 .5 2.6 .5 2.5 .5 1.9 .5 1.3 .5 1.6 .5 2.3 .5 2.2 .5 1.5 .5 3 .5 1.1 .5 2.6 .5 .7 .5 1.7 .5 1.4 .5 1.8 .5 1.5 .5 1.8 .5 .6 .5 1 .5 2.1 .5 1.8 .5 1.1 .5 .4 .5 2.4 .5 .4 .5 .5 .5 2.1 .5 .4 .5 2.6 .5 .6 .5 .5 .5 1.2 .5 1.4 .5 .8 .5 .8 .5 2.6 .5-.4 .5 .9 .5-.1 1 3.7 1 1.8 1 2 1 .5 1 3.5 1-.2 1 .3 1 3.5 1 1.5 1 3.2 1 3.4 1-1.9 1 2.4 1 .7 1 .2 1 .5 1 2.3 1 .4 1 1.5 1 2.3 1 .2 1 2.1 1-1.1 1 1.6 1 4.1 1-.3 1 .5 1 1.3 1-.6 1 1.1 1 2.5 1-3.3 1 4.9 1-1.2 1 3.6 1 .3 1 .3 1 1.4 1 1.1 1-.4 1 .5 1 1.7 1 1.9 1-.8 1 1.8 .92 4.1 .91-3 .92 .7 .91-.4 .92 3.1 .92-.6 .91 .5 .92-1.4 .91 3.9 .92-.1 .92 .9 .91-.1 .92 .3 .91 1.7 .92 .7 .92-.3 .91 .6 .92 1.2 .91 .4 .92 2 .92 1.2 .91-1.4 .92-.6 .91 4 .92-1 .92 .3 .91 .4 .92 1.3 .91 .1 .92 .6 .92 .8 .91-1.9 .92 2.6 .91 .5 .92 .3 .92 .1 .91-.3 .92 .2 .91 1.9 .92-.5 .92 2.8 .91-.1 .92-.1 .91 2.7 .92-1.3 .92-0 .91 1.8 .92-.4 .91 .3 .92 .8 .92 .4 .91 .6 .92-.3 .91 .6 .92 1.1 .92 .1 .91 .7 .92-.9 .91 1.1 .92 .2 .92 1 .91 .9 .92-.5 .91 .9 .92 .4 .92 .7 .91 .1 .92 .2 .91 .2 .92 .6 .92 1.6 .91 .5 .92-.5 .91-.5 .92 .9 .92 .9 .91-3.5 .92 3.3 .91 2 .92-.9 .92-.6 .91 .8 .92-.8 .91 1.6 .92 .3 .92 .4 .91 .3 .92 .4 .91 1.2 .92-.2 .92-.2 .91 .7 .92-1.2 .91 1.7 .92 2 .92-.1 .91 .6 .92-1.6 .91 1 .92 2.1 .92-1.3 .91 .1 .92 1.2 .91 .8 .92-.4 .92 .9 .91-1.4 .92 4 .91-3 .92 .9 .92-1.5 .91 2 .92-.3 .91 .8 .92-.7 .92-.3 .91 1.2 .92 1.1 .91-.5 .92 0 .92 .4 .91 1.6 .92-.9 .91-.6 .92 2.4 .92-.6 .91 .4 .92-1.3 .91 1.3 .92 .8 .92 .6 .91-0 .92 .8 .91-.5 .92-.3 .92-.6 .91 2.5 .92-.4 .91 3.2 .92-1.6 .92-1.8 .91 1.4 .92 .3 .91 .3 .92-1.3 .92 .7 .91 .2 .92 1.5 .91-.3 .92-.9 .92 .2 .91 .8 .92-.7 .91 .5 .92 .9 .92 1 .91-.3 .92 0 .91-.6 .92 .3 .92-.5 .91 1.9 .92 0 .91-.2 .92 2.5 .92-1.8 .91 1.4 .92-.7 .91 1.3 .92-3.1 .92 2.8 .91 .4 .92-2.2 .91 3 .92-1.6 .92 .8 .91-0 .92 1.3 .91-.1 .92-1.4 .92 .9 .91 .9 .92-.5 .91 .1 .92 .3 .92 1.4 .91-1.7 .92 .2 .91 1.5 .92-.6 .92-.4 .91 1.8 .92-.8 .91-.1 .92-.1 .92 2.3 .91-1 .92 1.5 .91 .3 .92-1.7 .92 1.9 .91-.9 .92 1.9 .91-2.6 .92 .1 .92 .5 .91 .3 .92 1.6 .91-.2 .92-1 .92 1.1 .91-2 .92 1.6 .91 .8 .92-1 .92 .2 .91 1.2 .92-.3 .91 1.7 .92-1.7 .92 1.2 .91 1.1 .92-.1 .91-.4 .92-.7 .92 .5 .91 .8 .92-.3 .91 .3 .92-.3 .92 .2 .91 3.7 .92-1.1 .91-3.5 .92 2.2 .92 1.5 .91-2.3 .92-1.3 .91 2 .92 .2 .92 .2 .91-.3 .92 2.6 .91-2.4 .92 1.5 .92 .2 .91-.3 .92 .6 .91 2.3 .92-2.9 .92 1.3 .91 .2 .92-2 .91-2.1 .92 3.8 .92 .6 .91-.9 .92 .5 .91 1.4 .92-1 .92 .6 .91-.5 .92 .3 .91-.4 .92 1 .92-.1 .91 .5 .92-.1 .91 .5 .92 .2 .92-.3 .91-.3 .92-.5 .91 0 .92 1.7 .92-.2 .91-.2 .92-.2 .91 .8 .92-1 .92 1.9 .91-.6 .92-1.5 .91 1.1 .92 .7 .92 2.1 .91-1.8 .92-.7 .91 .9 .92 .9 .92 .3 .91 .1 .92 .2 .91-.3 .92 .1 .92-.6 .91 1.8 .92-1 .91 1.6 .92-2.3 .92 2.3 .91-1.6 .92 1.1 .91-.7 .92 3.4 .92-2.1 .91-.5 .92 1.2 .91-1 .92-.3 .92-.2 .91 1 .92 .1 .91-1.7 .92 1.6 .92 .8 .91-.9 .92 2.1 .91-2 .92 .5 .92 .6 .91 1.8 .92-1.5 .91-.6 .92-.8 .92-0 .91-.1 .92 3.6 .91-2.1 .92-.1 .92 .6 .91 .7 .92-1.7 .91 1 .92 .6 .92 2.2 .91-.6 .92 .6 .91-1.5 .92-.6 .92 1.5 .91-2 .92 1.3 .91 .7 .92-.7 .92-.5 .91 .9 .92-.4 .91-.2 .92 .7 .92-.2 .91 2.9 .92-2.6 .91 1.6 .92-2 .92 2.4 .91-.7 .92-.6 .91-.4 .92 .5 .92-2.9 .91 4.2 .92-1.6 .91 2.5 .92-.2 .92-.1 .91-.2 .92 .2 .91-1.9 .92 1 .92 .9 .91 .1 .92 .8 .91 1.1 .92-1.6 .92 .3 .91 .7 .92-.9 .91 0 .92-.3 .92-.4 .91 .5 .92 .7 .91-.9 .92 .7 .92-.3 .91 .8 .92 .8 .91 1 .92-.7 .92-2.1 .91 1.3 .92 .5 .91-.7 .92 4.1 .92-4.1 .91 1.3 .92-1.3 .91 .5 .92 .6 .92 .4 .91-.4 .92 1.9 .91-.7 .92 .8 .92-2.7 .91 2.1 .92 3.2 .91-2.5 .92-1.6 .92 .1 .91 0 .92 2.1 .91-2 .92 .5 .92 1.1 .91-1 .92 .3 .91-.4 .92 2 .92-1.5 .91 1.4 .92-.8 .91 .6 .92 .2 .92-.5 .91 .4 .92-1 .91 1.2 .92-.1 .92 .3 .91-1.7 .92 1.9 .91-.5 .92-.5 .92 .4 .91 1 .92 .3 .91 .7 .92-1.7 .92 0 .91 .4 .92 1.3 .91-.3 .92-2 .92 2.7 .91-.7 .92 .2 .91-0 .92-.6 .92 .3 .91 1.7 .92-1.4 .91 .7 .92-1.1 .92-0 .91-1.8 .92 3.3 .91-.1 .92 .2 .92 1.4 .91-1.9 .92-.2 .91-0 .92 .6 .92 .5 .91 .1 .92 .3 .91-1.1 .92 .6 .92-1.5 .91 1.5 .92 1.3 .91-1.2 .92 2.3 .92 1.8 .91-2 .92-1.3 .91-.1 .92 .6 .92 .5 .91-.7 .92-0 .91 .5 .92 .2 .92-.2 .91-.1 .92 .5 .91 .2 .92-.2 .92-.5 .91-.5 .92 .8 .91-1.9 .92 1.6 .92 .1 .91 1 .92-1.3 .91-0 .92 1.5 .92-0 .91-1.2 .92 1.1 .91-.2 .92-.5 .92-0 .91 .4 .92 .6 .91 .4 .92 .6 .92-.7 .91-1.7 .92 .5 .91 .6 .92 .6 .92-.1 .91-.9 .92 2.7 .91-.2 .92-.8 .92-.5 .91-.2 .92 1.5 .91-.8 .92 .9 .92-.3 .91-.9 .92 .9 .91 .2 .92-.2 .92 .3 .91-.8 .92 .8 .91 0 .92 .9 .92-1.3 .91 1.7 .92-.3 .91-1.5 .92 1.5 .92-.3 .91 .2 .92 1 .91-.8 .92-1.1 .92 2.1 .91-1.3 .92 .5 .91-1 .92 1.7 .92-1.2 .91-.3 .92-.3 .91 1 .92 1.6 .92-1.8 .91 1 .92-.2 .91 1.3 .92-.4 .92-1.2 .91-.1 .92 .1 .91 .2 .92 1.1 .92-.2 .91-1.2 .92 .6 .91 .4 .92-1.2 .92 1.6 .91 .8 .92-1.5 .91 1.4 .92-.6 .92-.1 .91 .3 .92-.1 .91 3.4 .92-3.5 .92 .9 .91-.4 .92-.2 .91-.9 .92 2.3 .92-1 .91 .9 .92-0 .91-.4 .92-.1 .92-2 .91 2.8 .92-.1 .91-.3 .92 .2 .92 1 .91-2 .92 1.4 .91-.7 .92 .7 .92-.5 .91-1.7 .92 1.7 .91 1.4 .92-1.1 .92 1.1 .91-1.7 .92 .3 .91-.1 .92-.2 .92 2.1 .91-1 .92-.3 .91 1 .92-1.6 .92-2.7 .91 4.7 .92-1.9 .91 1.1 .92-.3 .92-.4 .91 .4 .92 .4 .91 .2 .92-.2 .92-.1 .91-2.1 .92 1.6 .91 .3 .92 .2 .92 1.1 .91-.4 .92-.6 .91 1.8 .92-2.3 .92 3.1 .91-1.9 .92-.2 .91 .1 .92-3.2 .92 4.4 .91-.9 .92 .5 .91 .9 .92-.7 .92 .4 .91-.4 .92-1.4 .91 4.6 .92-3.7 .92-1.5 .91 1.7 .92-.8 .91 1.9 .92-1.4 .92 1.9 .91-1.5 .92 1 .91-.3 .92-.1 .92-.2 .91 .9 .92-.6 .91-.1 .92 1.8 .92-.2 .91 .3 .92-.8 .91-.6 .92-.7 .92 .2 .91 .3 .92-.3 .91 1.1 .92 0 .92-.1 .91 .2 .92-1.1 .91 1 .92-.1 .92 .2 .91-.8 .92-.5 .91 1.4 .92 .2 .92-.9 .91 1.9 .92 .1 .91-.5 .92 .7 .92-2.2 .91 1.2 .92 .5 .91-.3 .92 .2 .92-.8 .91 1.2 .92 0 .91-.6 .92-3.4 .92 3.9 .91-.2 .92 2.4 .91-1.8 .92-.5 .92 .7 .91-1.3 .92 1.1 .91 .6 .92-1.6 .92 1.4 .91-.3 .92 .9 .91-.1 .92-1.4 .92-.2 .91-.9 .92 2.4 .91 .3 .92-.5 .92-.6 .91-0 .92-.3 .91-.4 .92 .9 .92 .8 .91 0 .92-.7 .91 .3 .92-.4 .92 1.3 .91-.2 .92 1.6 .91-1.7 .92-.6 .92-.1 .91 1.7 .92-.9 .91 .2 .92 .2 .92-.3 .91-1.2 .92 1.9 .91-1.8 .92-.3 .92 .8 .91 2.1 .92-3.2 .91 2.4 .92 .8 .92-.6 .91-.1 .92 .5 .91-.7 .92 1 .92-2 .91-1.2 .92 1.8 .91 .2 .92 .4 .92-.5 .91-.2 .92-.6 .91 1.2 .92-3.2 .92 4.3 .91 .3 .92 .2 .91-1.6 .92-.1 .92 1.3 .91-.8 .92 .1 .91 1.8 .92-1.6 .92 .2 .91 .2 .92-.1 .91-2.5 .92 2.1 .92 1.5 .91-1.6 .92 .1 .91-.2 .92 .7 .92 .2 .91 .8 .92 .9 .91-2 .92 .7 .92 1.1 .91-1.4 .92 1.4 .91-1.6 .92-.6 .92 .9 .91-.9 .92 1.4 .91-1.3 .92 1.4 .92 .2 .91 .8 .92-1 .91-.4 .92 .2 .92-0 .91-2.9 .92 2.4 .91-.1 .92-2 .92 2.1 .91-.3 .92 1.6 .91-.1 .92 3.5 .92-3.3 .91-.4 .92 0 .91-0 .92-1 .92 2.5 .91-.2 .92-1.3 .91 1.3 .92-1.3 .92 .3 .91-.8 .92 1.8 .91 1.9 .92-4.9 .92 2.8 .91 3.2 .92-3.6 .91-1.1 .92 .9 .92 .6 .91-.1 .92 .4 .91 1 .92-1.6 .92 1 .91-1.1 .92-.3 .91 .2 .92 1.1 .92 .7 .91-2.2 .92 1.1 .91-2.2 .92 3.3 .92-.6 .91-0 .92-.8 .91 1.6 .92 .2 .92-1.8 .91-1.1 .92 2.7 .91-.7 .92-1.3 .92 .5 .91 1.2 .92-1.3 .91 1.2 .92 .7 .92-1.3 .91 .3 .92-.5 .91 1 .92 .5 .92-1 .91 2 .92-2.2 .91 .7 .92-.1 .92 .8 .91-.1 .92-.1 .91-.2 .92 .3 .92-1.9 .91 .8 .92 1.1 .91 .2 .92 1 .92-1.5 .91 .3 .92 .1 .91 .3 .92 .1 .92-.5 .91-1 .92 1.1 .91 .1 .92 .6 .92 .5 .91-1.3 .92-.2 .91 2.8 .92-3.4 .92 .3 .91 1.8 .92-1.8 .91 2.1 .92-1.4 .92 1.1 .91-.3 .92-.9 .91 0 .92 .7 .92-.3 .91-.2 .92 .2 .91 .2 .92-.5 .92 .9 .91 1.5 .92-2.8 .91 1.4 .92-.1 .92 .5 .91 .1 .92-.2 .91-3 .92 3 .92-.3 .91-.2 .92 .2 .91 .6 .92-.2 .92 .5 .91-.6 .92 .3 .91 1.2 .92-.8 .92-1.1 .91 .6 .92-.5 .91-.3 .92 .1 .92 .6 .91 .5 .92-2.2 .91 2.1 .92 2.6 .92-2.3 .91-0 .92-.8 .91-.7 .92 1.2 .92 .2 .91-.9 .92 .4 .91 2.1 .92-1.6 .92-1.4 .91 2.1 .92-.2 .91-.7 .92 .4 .92 .4 .91-.4 .92 1.6 .91 .4 .92 .1 .92-1.8 .91-.5 .92 1.1 .91-3.1 .92 3.2 .92-.5 .91 .3 .92 0 .91-0 .92-1.4 .92 0 .91 1.4 .92-.4 .91-.8 .92 .5 .92 .9 .91 .4 .92-.9 .91-.7 .92 1.1 .92 .5 .91-1.1 .92 .9 .91-.3 .92 1.9 .92-2.2 .91-1.6 .92 2.2 .91 2.1 .92-2.3 .92 1.6 .91-1 .92-.6 .91 .2 .92 0 .92 .6 .91-.7 .92-1.3 .91 2.2 .92-1 .92-.4 .91 1.2 .92-.6 .91-0 .92-.9 .92 1.7 .91-.4 .92 1.1 .91-.7 .92 .8 .92-1.5 .91 .7 .92-2.2 .91 2.4 .92-1.3 .92 1.1 .91 .1 .92 .8 .91-1.5 .92 .7 .92 .8 .91-.9 .92 .1 .91-2.4 .92 1.4 .92 1.3 .91-.1 .92-.3 .91-1.1 .92 .6 .92 .7 .91 .5 .92-.8 .91 .6 .92 0 .92-.2 .91-.1 .92 .4 .91-.3 .92-.1 .92-.5 .91 1.4 .92-.8 .91 1.6 .92-1.2 .92-.3 .91 0 .92-.2 .91 .1 .92 0 .92 .5 .91 .5 .92-1.5 .91 1.9 .92-.3 .92 .4 .91-1.6 .92 1 .91 .9 .92-.9 .92-.6 .91 .2 .92 .3 .91-1.1 .92 1.5 .92 0 .91 .4 .92 .2 .91-2.2 .92 1 .92 .6 .91-.9 .92 .5 .91 1.6 .92-.8 .92 .8 .91-1.8 .92 3.3 .91-2.5 .92 .3 .92-1.1 .91-1.2 .92 1.8 .91 .3 .92-0 .92 3.6 .91-4.4 .92 .5 .91 1.1 .92-.1 .92-.2 .91-1.3 .92 .9 .91 1 .92-.7 .92 .9 .91-2.1 .92 .6 .91 1.6 .92-.7 .92-1 .91 .5 .92-.9 .91 .8 .92 1.2 .92-.2 .91-1.4 .92 1.6 .91-.5 .92 .1 .92-1.7 .91 1 .92-.1 .91 1.3 .92-.4 .92-1.1 .91 .6 .92 .3 .91 .1 .92 .4 .92-.1 .91 .9 .92-1.8 .91 1.1 .92 .2 .92 1 .91-2.5 .92 .7 .91-.1 .92 .9 .92 0 .91-.3 .92-1.2 .91 4.8 .92-4.5 .92 1.7 .91-1.6 .92-.2 .91 1.8 .92 .8 .92-1.4 .91 2.1 .92-1.7 .91-.6 .92-.6 .92 2 .91-1.3 .92 0 .91 .2 .92 .2 .92 .1 .91-.1 .92 .2 .91 .9 .92-1.8 .92 1.3 .91-1.1 .92 1.3 .91-.8 .92 .3 .92-.6 .91 3.7 .92-2.6 .91 .7 .92-1.1 .92-1.3 .91 1.1 .92-.1 .91 .5 .92 .8 .92-.9 .91 .6 .92-.2 .91 .1 .92-.7 .92 1.9 .91-2.3 .92 2.6 .91-2.2 .92 1.3 .92-.2 .91-1.8 .92 1.7 .91-.5 .92-.3 .92 .4 .91 1.4 .92-1.6 .91 .2 .92 .3 .92-.5 .91 1.3 .92-2.7 .91 1.8 .92 2.1 .92-3.6 .91 1.7 .92-.9 .91 1 .92 .4 .92-1.4 .91 .6 .92-.6 .91-.6 .92 2.3 .92-.1 .91-1.3 .92-.1 .91-.9 .92 2.3 .92-.6 .91 .7 .92-.6 .91 1 .92-.2 .92-1.1 .91 .9 .92-.6 .91-.2 .92-.2 .92-0 .91 1.8 .92 1.7 .91-2.5 .92-1.2 .92 1.5 .91-.3 .92-.1 .91 .1 .92-.5 .92-.1 .91 .8 .92 .1 .91 1 .92-.5 .92 2.1 .91-3.3 .92 2 .91-1.2 .92 .8 .92-1.5 .91 .2 .92 .8 .91 .1 .92-.7 .92-1.6 .91 1.3 .92-.2 .91 .6 .92-.2 .92 .4 .91 1 .92-1.1 .91 1.1 .92-1.4 .92 .5 .91 .9 .92-2.6 .91 3.8 .92-4.5 .92 4.1 .91-2.3 .92-0 .91 .9 .92 .2 .92-.9 .91 2 .92-1.3 .91-.5 .92 .8 .92 .8 .91-1.4 .92 .2 .91 1.3 .92-0 .92-.8 .91 .4 .92-.4 .91-.4 .92-.4 .92 1.4 .91-.2 .92-.4 .91-.4 .92 .7 .92 1.1 .91-1.4 .92 .4 .91 .1 .92-0 .92-.4 .91-.2 .92 .6 .91 .8 .92-1.6 .92-.2 .91 1.2 .92-2.7 .91 2.5 .92 1 .92-1.5 .91 1.3 .92-1.1 .91-.1 .92-.1 .92 .4 .91-.2 .92 .7 .91 .2 .92-2 .92 2.2 .91-.5 .92 .3 .91-1.1 .92 1.9 .92-1.7 .91 .3 .92 .2 .91 1 .92-1.6 .92 .3 .91 .9 .92 .1 .91-.7 .92-1.9 .92 1.7 .91 1.2 .92-1.7 .91 .4 .92 .9 .92 .4 .91-1.3 .92-.2 .91 1.1 .92-.9 .92 .2 .91 .5 .92 0 .91 1.1 .92-1.1 .92-.7 .91 .8 .92 .4 .91-1.4 .92 1.3 .92-3.8 .91 4.2 .92-1 .91 .5 .92-.9 .92 .3 .91-.4 .92 1.1 .91 1 .92 .2 .92-.9 .91-.2 .92-.4 .91-.5 .92-.1 .92 .8 .91 .5 .92 .1 .91 .2 .92-1.5 .92 1.4 .91-.9 .92 .3 .91 2.5 .92-3.1 .92 1.7 .91-.3 .92-2 .91 .8 .92-.4 .92 1.4 .91-.1 .92-.5 .91-.7 .92-.3 .92 .7 .91 .8 .92-1 .91-1.5 .92 2.5 .92-.2 .91 1.4 .92-.4 .91-.2 .92-.5 .92 0 .91 1 .92 .5 .91-2.1 .92 1.6 .92-.3 .91 .5 .92-.4 .91 1.5 .92-2.5 .92 .3 .91 1.1 .92-.3 .91-1.4 .92 1 .92-1 .91 1.7 .92-1.2 .91 .3 .92 .7 .92 .2 .91-.8 .92-1.6 .91 1.1 .92 .1 .92 3 .91-1.7 .92 .1 .91-1.9 .92 1.2 .92 0 .91-.4 .92 1.4 .91-1 .92 1.5 .92-.8 .91 1.2 .92-.9 .91-1.3 .92 .4 .92-.5 .91 1.4 .92-.6 .91-1.3 .92 1.2 .92 0 .91 .2 .92-1.8 .91 2.4 .92 .2 .92-.4 .91 .1 .92 .2 .91-1.7 .92 .4 .92-.3 .91 1.7 .92-.9 .91-.4 .92 1.4 .92 .4 .91-1.8 .92 .4 .91-.6 .92 1.4 .92 .1 .91-.8 .92-.3 .91 1.4 .92-.9 .92 .4 .91 1 .92-2.2 .91 1.6 .92-.6 .92 .3 .91-.9 .92 .2 .91 1.6 .92-1.5 .92 .8 .91-1.2 .92-.2 .91 2.1 .92-1.2 .92-.2 .91 .9 .92-.9 .91 .7 .92-.3 .92 .7 .91-1.2 .92 .2 .91 1.1 .92-1.2 .92-.1 .91 1.2 .92-.5 .91-1.5 .92 .2 .92 1.8 .91-.2 .92-0 .91-.4 .92-.5 .92 1.2 .91-.4 .92-.1 .91 .8 .92-.5 .92 .6 .91-.8 .92 .2 .91-1.1 .92 .7 .92 1.5 .91-1.2 .92 .9 .91 .2 .92-2.8 .92 1 .91 2.1 .92-1.4 .91-1.3 .92 1.5 .92-.3 .91 .7 .92-.3 .91-1.8 .92 2.1 .92 0 .91-.2 .92 .8 .91-2.1 .92 1 .92 .8 .91-.8 .92-.1 .91 .6 .92 .6 .92-.8 .91 .1 .92 0 .91-1.2 .92 2.7 .92-2.6 .91 .2 .92 1.1 .91-.4 .92-.9 .92 .9 .91 .4 .92 1.2 .91-2.8 .92 2.3 .92 0 .91-.9 .92-.1 .91 .3 .92 .1 .92-.6 .91 1.4 .92-4.3 .91 2.7 .92 .1 .92 1.1 .91-1.5 .92 1.4 .91-1.6 .92 5.1 .92-3.2 .91 .1 .92-.8 .91 .4 .92 .9 .92-1 .91-.2 .92 1.1 .91-1.4 .92-.3 .92 1.3 .91-.6 .92 .8 .91 .2 .92-.9 .92-.3 .91-1.5 .92 1.9 .91 2 .92-2.6 .92 1.5 .91-.3 .92 .3 .91-.9 .92 .5 .92-.4 .91 .7 .92-.2 .91-1.6 .92 1.5 .92-.3 .91 1.1 .92-1.8 .91 .3 .92 .8 .92 .9 .91-.4 .92-.5 .91-.7 .92 1.2 .92 .1 .91-.7 .92 .3 .91-.4 .92-1.4 .92 1.8 .91 .2 .92-1.2 .91 2.6 .92-1.5 .92 1.1 .91-1.2 .92-1.3 .91 1.9 .92-.7 .92 3.6 .91-4.1 .92-.8 .91 .9 .92-.4 .92 1.6 .91 1.1 .92-4 .91 2 .92 .2 .92 .5 .91 .5 .92-.3 .91 .2 .92-1.4 .92-.9 .91 1.1 .92-.2 .91 1.4 .92-.4 .92 .1 .91-.9 .92-0 .91-.2 .92 1.8 .92-1 .91 .5 .92-1.3 .91 1.1 .92 1.4 .92-2.5 .91 .1 .92-1 .91 1.9 .92 .7 .92-2.1 .91 1.7 .92 .9 .91-1.7 .92-0 .92 .3 .91 1.9 .92-2.5 .91 2.5 .92-.5 .92-2.3 .91 1.2 .92-.2 .91 .3 .92 3.5 .92-3.5 .91-.5 .92 .5 .91 1.6 .92-1.7 .92-1.5 .91 1.3 .92-.3 .91 1.6 .92-1.2 .92 .5 .91-1.6 .92 .8 .91 1.2 .92 .3 .92-4.1 .91 2.3 .92 .9 .91-3.6 .92 2.7 .92 .3 .91 .8 .92-.5 .91 .5 .92-.2 .92-.5 .91 2.1 .92-1.8 .91 1 .92 .4 .92-2.1 .91 1.3 .92-.2 .91-3.4 .92-.2 .92 4 .91-0 .92-.1 .91-1.2 .92 .1 .92-.7 .91 .2 .92 1.6 .91-.1 .92 1.5 .92-.9 .91 .9 .92 1.9 .91-0 .92-1.1 .92-1.1 .91 .8 .92-2.2 .91 .1 .92 .4 .92-.8 .91-.2 .92 .5 .91 1.9 .92-2.1 .92-.5 .91 1.5 .92-1.3 .91-.2 .92 1.9 .92-.6 .91 .4 .92 0 .91-.8 .92-.6 .92 1 .91-.6 .92 .6 .91-.5 .92 1 .92-.9 .91 .2 .92-1.4 .91 .6 .92 1.3 .92-.9 .91 2.8 .92-3.5 .91-0 .92 1 .92-.1 .91 1.6 .92 .1 .91-1.6 .92 1.2 .92-.5 .91-.6 .92 2.4 .91-3.2 .92 .5 .92 .3 .91 .8 .92-.3 .91 .6 .92-1.8 .92 2.1 .91-1.1 .92-1.1 .91 .6 .92 .3 .92 .1 .91-.3 .92 1.9 .91-1.5 .92 .1 .92 1.3 .91-1.9 .92 1.1 .91 .9 .92-.3 .92-1.8 .91 1 .92-.1 .91 .8 .92-4.1 .92 2.3 .91 1.3 .92-1.1 .91 .7 .92 .3 .92-2.5 .91 3 .92-1.3 .91 .9 .92-0 .92 3.3 .91-3.7 .92-.3 .91 .8 .92 .2 .92-.1 .91 .4 .92-1.2 .91 1.3 .92-.5 .92-1.1 .91 .4 .92-.5 .91 .9 .92-.6 .92 1.8 .91-.2 .92-2 .91 1.5 .92 .8 .92-.5 .91-1.2 .92 .7 .91-.3 .92 3.7 .92-4 .91 .2 .92-.3 .91 2.1 .92-2.9 .92 .8 .91 .6 .92-.4 .91 .5 .92-.1 .92 .3 .91-1.5 .92 1.7 .91-1.7 .92 .4 .92 .7 .91-1.2 .92 1.8 .91 .3 .92-.2 .92-1.8 .91-.2 .92 2.5 .91-2.8 .92 1.6 .92-.1 .91 .4 .92-.8 .91 1.1 .92-1.1 .92 .8 .91-.5 .92 1.5 .91-1.4 .92-1.5 .92 3.9 .91-3.6 .92 2 .91-1.5 .92 .8 .92-.1 .91-1.2 .92 3.3 .91-1.2 .92-.7 .92 0 .91-.3 .92 .9 .91-.6 .92 .3 .92 .1 .91-.1 .92-.1 .91-.2 .92 2.1 .92-.7 .91-1.7 .92 .4 .91 .7 .92 .9 .92-2.2 .91 .4 .92 1.4 .91-1.3 .92 .8 .92 .1 .91-.7 .92 .5 .91-1.4 .92 .2 .92 .7 .91-.7 .92 .9 .91 .9 .92-1.2 .92 1.3 .91-.6 .92 .7 .91-2.1 .92 .5 .92 .7 .91-.6 .92 .8 .91-.2 .92-0 .92-.5 .91 1.2 .92-.3 .91 .7 .92-1.1 .92 1.2 .91-2.7 .92 .9 .91 2 .92-1.7 .92 .9 .91-1.5 .92 1.8 .53-1.5" stroke="#ff80c8" stroke-width="3.9"/>
<path d="M189.5 87.7l.5 .5 .5-1.2 .5 .9 .5 2.4 .5 2.5 .5 2.7 .5 2.9 .5 2.9 .5 3 .5 2.8 .5 2.5 .5 2.9 .5 2.3 .5 2.3 .5 2.6 .5 2.6 .5 2 .5 2 .5 2.4 .5 1.6 .5 1.6 .5 1.6 .5 2.4 .5 .7 .5 1.5 .5 3 .5 .5 .5 .2 .5 2.3 .5 .7 .5 1.4 .5 .8 .5 1.2 .5 1.9 .5 .6 .5 .1 .5 1.2 .5-.9 .5 1.7 .5 1.7 .5 3 .5 .5 .5-1.2 .5 2.9 .5 1.4 .5-1.7 .5 1.2 .5 .8 .5 .1 .5 2.2 .5 1.2 1 .1 1 1.8 1 2.3 1-.3 1 .6 1 1.2 1 3.5 1 .4 1 1.1 1 1.7 1 1 1 .7 1-0 1-1 1 5.7 1 .2 1-2.5 1 4 1 2.1 1 2 1 .7 1 .3 1 1 1-.4 1 2.1 1 .2 1 1.6 1-2.9 1 4.8 1-0 1 2 1-1.3 1 2.6 1 .5 1-.2 1 1.6 1-2 1 6.3 1-6 1 6.3 1-2.4 1 .1 1 .2 1 3.2 1-1.8 .92 1.1 .91 .5 .92 .2 .91 2.2 .92 .4 .92 .5 .91-1.2 .92 2.2 .91-.4 .92 1 .92-.2 .91 1.6 .92 1.1 .91-.6 .92 .8 .92 .1 .91-.3 .92 1.6 .91-2.6 .92 3.3 .92 1 .91 1.1 .92-1.5 .91 2 .92 1.1 .92-.8 .91 .5 .92 .7 .91 .4 .92-.2 .92 2.2 .91-3.5 .92 1.7 .91 1.4 .92 1.4 .92-1.5 .91 .3 .92 .8 .91 1.7 .92-3.1 .92 4 .91 3.5 .92-3 .91 1.4 .92 0 .92 1.1 .91-1.5 .92 .1 .91 1.9 .92 1.1 .92-1.6 .91 3 .92-4.3 .91 2.6 .92-.9 .92 1.5 .91-.2 .92 2.4 .91-.8 .92 1.3 .92 3 .91-4.8 .92 3.4 .91-1.1 .92 .5 .92-.4 .91-2.9 .92 2.9 .91 .2 .92 .1 .92 1.6 .91 .9 .92-1.2 .91 .6 .92 1.6 .92-1.8 .91 2.1 .92-1.7 .91 2.7 .92-.8 .92-.2 .91 .6 .92 2.1 .91-2.6 .92 .4 .92 2.2 .91 .2 .92-.8 .91 2.7 .92-2 .92 .9 .91-.4 .92 .5 .91 .2 .92-.3 .92 .6 .91 .7 .92-.1 .91-1 .92 1.6 .92 2 .91 .8 .92-.9 .91-1.5 .92-.8 .92 1.2 .91-.5 .92 1.4 .91-1.6 .92 1.9 .92-.5 .91 1 .92-.3 .91 1.1 .92-2.2 .92 .8 .91 1.7 .92 1.1 .91-1.1 .92-.1 .92 .4 .91 1 .92-.3 .91-.8 .92 .6 .92-.1 .91 .8 .92 .4 .91 1.3 .92-.7 .92-.7 .91 .9 .92-.4 .91 .5 .92 .4 .92 .5 .91-.2 .92 .8 .91 1 .92 2.7 .92-1.7 .91-1.8 .92-0 .91 .2 .92 1.1 .92-.6 .91 .5 .92-3.2 .91 3.4 .92 3.9 .92-4.5 .91-1.1 .92 2.5 .91 .9 .92-1 .92 1.7 .91 .5 .92 .3 .91-.7 .92-.2 .92-.7 .91 .8 .92 .6 .91-1.9 .92 2.2 .92 .3 .91 .4 .92 1.7 .91-1.6 .92 1.1 .92-.1 .91-.8 .92 .4 .91-1.6 .92 .8 .92 .7 .91-1 .92 2.6 .91-.2 .92 .2 .92-.7 .91-1.9 .92 3.3 .91-.6 .92 1.9 .92-.8 .91-1.9 .92-.2 .91 1.6 .92 .3 .92 .4 .91 1.6 .92 .3 .91-.8 .92 .7 .92-1.3 .91 2.4 .92-3.6 .91 2.6 .92-.6 .92 1.7 .91-3.2 .92 2.7 .91-.2 .92-.4 .92 1.7 .91-2.3 .92-.1 .91-.9 .92 3.2 .92 1.6 .91-5.6 .92 4 .91 2.1 .92-2.9 .92 0 .91 .8 .92 .8 .91-3.3 .92 3.6 .92-0 .91 .1 .92-2 .91 1.3 .92 .2 .92 1.2 .91-3.4 .92 4.1 .91 .1 .92-2.2 .92 1.8 .91-1.5 .92-0 .91 2.2 .92 .5 .92-1 .91 1.5 .92-1.6 .91 1.8 .92-.7 .92 1.1 .91-.2 .92-.9 .91-.4 .92 1 .92 .4 .91 .9 .92-1.7 .91 .1 .92-1.4 .92 6 .91-5.1 .92 1.2 .91 1.1 .92-.3 .92-2.4 .91 2.7 .92 .8 .91-.7 .92 .6 .92-.5 .91 2.3 .92-2.1 .91 .4 .92-2.6 .92 1.8 .91 .6 .92 1.5 .91-.8 .92 .7 .92-2.7 .91 1.1 .92 1.8 .91-.6 .92 .4 .92 .6 .91 .4 .92-0 .91-.3 .92-1 .92 1.3 .91-.9 .92 .9 .91-.4 .92-.7 .92 1.7 .91 3.4 .92-3.2 .91-2.7 .92 1.7 .92 2.5 .91-4 .92 1.4 .91 1.3 .92 .3 .92 .2 .91 .4 .92-1.2 .91 1 .92 .7 .92-.1 .91 .9 .92-2.7 .91 1.3 .92-.2 .92 1.7 .91-.6 .92 .5 .91-1.1 .92 .8 .92 .4 .91 .2 .92-.7 .91 .7 .92-.5 .92 1.7 .91-2.1 .92 1.2 .91-1.5 .92-.8 .92 1.3 .91 2.6 .92 2.4 .91-3 .92-.7 .92-1.1 .91 2.2 .92-.3 .91-.2 .92 .9 .92-.9 .91 3.9 .92-4.6 .91 1.6 .92-.2 .92 .4 .91-.1 .92-.3 .91-.6 .92 1.3 .92-.5 .91 .1 .92 .2 .91-.9 .92 1 .92 0 .91 1.6 .92-.4 .91-1.7 .92 1.7 .92-2 .91-1.7 .92 3.9 .91-1 .92 .7 .92 .4 .91-1.2 .92 1.7 .91-1 .92-.4 .92 1.6 .91-.3 .92 1.4 .91-.5 .92-.2 .92-1.1 .91 1.2 .92-.6 .91 .2 .92 2.1 .92-2.5 .91 2 .92 .4 .91-2.1 .92 .8 .92 .4 .91 0 .92-.7 .91-.9 .92 .9 .92 .7 .91-.1 .92-.4 .91 1 .92-.1 .92 .6 .91 .7 .92-.4 .91-2.3 .92 1.9 .92-2.5 .91 2.1 .92 .5 .91-1 .92 2 .92-0 .91-.8 .92 .9 .91 .3 .92-2.9 .92 1.8 .91 .3 .92 2.4 .91-5.3 .92 3.3 .92 3.5 .91-2.4 .92-.7 .91 2.7 .92-2.3 .92 .1 .91-.1 .92-2.2 .91 1.1 .92-.2 .92 .8 .91-.3 .92 1.8 .91 2.7 .92-2.2 .92-.7 .91-.5 .92-.6 .91-2.4 .92 4.2 .92-.3 .91-.7 .92 .1 .91 .5 .92-.2 .92-0 .91 .4 .92-.8 .91-.4 .92 .7 .92 0 .91 .9 .92-.2 .91-.4 .92 3.2 .92-2.9 .91-.2 .92 .3 .91 1.1 .92-.2 .92-1.7 .91-1.3 .92 4.6 .91-2.8 .92-2.2 .92 3.3 .91 .1 .92 .6 .91-1.2 .92 1.5 .92-.7 .91 1.1 .92-.9 .91 .7 .92-.5 .92 1.1 .91 2.1 .92-3.8 .91 1.7 .92 .3 .92-1.1 .91 1 .92-1.3 .91 .1 .92 1.5 .92-1.3 .91-.6 .92 .9 .91 .2 .92 .5 .92-.2 .91 .2 .92 .8 .91-.2 .92-1.5 .92-.2 .91 2.4 .92-1.1 .91 .3 .92-.8 .92 .8 .91-.1 .92-1.2 .91 2.3 .92-2 .92 1.2 .91-.5 .92 .7 .91 .2 .92-1.1 .92 1.9 .91-.4 .92-1.3 .91 .2 .92 .6 .92 1.3 .91-1.3 .92-.3 .91 1.7 .92-1.1 .92-.2 .91 1 .92-3.7 .91 4.9 .92-.8 .92 1.8 .91-.7 .92-2.1 .91 .5 .92 1.8 .92-3.5 .91 1.9 .92 .2 .91 .2 .92 .5 .92-1.7 .91-2.7 .92 3.1 .91-1.3 .92 2.8 .92-.5 .91-3.8 .92 3.4 .91-.8 .92 3.7 .92-2.8 .91 .8 .92-1.4 .91 1.8 .92-.1 .92-1.3 .91 .7 .92 2 .91-1.7 .92-1.5 .92 1.3 .91 .6 .92-2 .91 2.3 .92-1.9 .92 2.3 .91-.9 .92 1.2 .91-1.2 .92 0 .92 .6 .91 1.6 .92-1.7 .91-.6 .92 1.2 .92-.8 .91 1.2 .92-.4 .91-.7 .92 1 .92 .3 .91-1.3 .92-1.3 .91 1.8 .92 .4 .92-.6 .91 2.1 .92-.3 .91-1.1 .92-3.8 .92 3.7 .91-1.6 .92 1.2 .91 .9 .92-.7 .92 1 .91-1.5 .92 1.2 .91-1.4 .92 1.2 .92-1.2 .91 1.6 .92 1.4 .91-1.1 .92-2.1 .92 .8 .91 .1 .92 1.2 .91 .2 .92-.6 .92 1.5 .91-.9 .92 1.1 .91-1.2 .92 .4 .92-.5 .91 .4 .92-.4 .91 1.5 .92-1 .92 .9 .91-.3 .92-.3 .91 .8 .92-1 .92 .2 .91-2 .92 1.5 .91 .5 .92 .6 .92 .2 .91-.8 .92-2 .91 3 .92-.7 .92-.8 .91 .5 .92 1.3 .91-.8 .92 .8 .92-.9 .91 .5 .92 .5 .91-1.6 .92 .4 .92 .2 .91 .3 .92-3.5 .91 6.3 .92-1.5 .92-.9 .91 .2 .92-.8 .91-.6 .92 1.7 .92 .3 .91 0 .92-1.7 .91 2.2 .92 .4 .92-1.8 .91 .7 .92-.3 .91-1 .92 1 .92 1.4 .91-1.9 .92 .5 .91-.9 .92 .7 .92 .2 .91 1.9 .92-.9 .91-.7 .92 3.7 .92-2.9 .91-1.6 .92 1.5 .91 0 .92-1 .92 .8 .91 .1 .92-3.7 .91 4 .92 .2 .92 .1 .91-1.6 .92-1 .91 3 .92-1.8 .92 1.7 .91-1.8 .92 1.5 .91-1.3 .92 1.6 .92 1.3 .91-1.7 .92-.6 .91-1.3 .92-1.2 .92 4 .91 .2 .92-.4 .91-.8 .92-.5 .92-.6 .91 5.1 .92-1.7 .91-2.9 .92 1.1 .92-2.2 .91 1.3 .92-.8 .91 2.1 .92 3.4 .92-4.9 .91 2.1 .92 .2 .91 1.4 .92-2.8 .92 2.1 .91-.7 .92 1.1 .91-2 .92-.1 .92 1 .91-2.2 .92 2.1 .91 .7 .92-.6 .92-3.3 .91 3.3 .92-.9 .91 1.9 .92-1.2 .92-.9 .91 .6 .92-.6 .91-2.7 .92 4.1 .92-4 .91 0 .92 3.8 .91 .6 .92-.5 .92 .6 .91-.7 .92 .4 .91 1.2 .92-1.2 .92 2.1 .91-2.6 .92 2.2 .91-3.1 .92 2.2 .92-1 .91 1.1 .92-.9 .91-.5 .92-.2 .92 .6 .91 .5 .92-.5 .91 .8 .92 .1 .92-3.4 .91 3.1 .92-2.1 .91 3.6 .92-2 .92 .4 .91 .3 .92-1.4 .91 .9 .92 3.8 .92-2.3 .91-2.1 .92 0 .91 1.3 .92-3.7 .92 2.3 .91 2.4 .92-2 .91 1.1 .92 .6 .92-.8 .91 .6 .92 1.2 .91-1.4 .92 .6 .92-1.4 .91 2.1 .92-1.6 .91 1.4 .92-2.4 .92 1.3 .91 .3 .92-.4 .91 1.6 .92-4.9 .92 3.7 .91-.7 .92 1.8 .91-.6 .92-1.8 .92-2.3 .91 2.9 .92 1.8 .91-.5 .92 1.2 .92-.9 .91-1.3 .92 .6 .91 .7 .92-.3 .92 1.1 .91-.2 .92-1.6 .91 1.4 .92 .4 .92-1.2 .91-1.5 .92 2.1 .91-.3 .92-.8 .92 1.4 .91 .1 .92-.9 .91 .5 .92-1.4 .92 1.7 .91-.5 .92 0 .91-1 .92 2.1 .92-.7 .91-.4 .92-.7 .91-2.4 .92-.3 .92 3.4 .91 0 .92 .6 .91 .3 .92-1.2 .92 1.5 .91 .2 .92 1.8 .91-2.6 .92-1.8 .92 1.9 .91-1.1 .92 2.2 .91-.1 .92 .3 .92-.5 .91-1.8 .92 1.6 .91-1.3 .92 .2 .92 .2 .91-1.9 .92 1.8 .91 1.1 .92 .7 .92-.9 .91 .5 .92-.4 .91-.2 .92 1.1 .92-1.1 .91 1.2 .92-1.5 .91 1.2 .92-1 .92 1 .91-1.9 .92 .1 .91 .2 .92 1.6 .92-.5 .91-.9 .92 .5 .91 3.3 .92-2.4 .92-.4 .91-.2 .92-.6 .91 2.4 .92 1.9 .92-2.7 .91-.3 .92-1.8 .91 1.2 .92 .1 .92 .9 .91-1.2 .92 2.3 .91-1.8 .92 .5 .92-.2 .91-.3 .92-3.5 .91 5.2 .92-0 .92 2 .91-6.7 .92 4.2 .91-.4 .92-1 .92 1 .91-1.7 .92 1.5 .91 .7 .92 .7 .92 0 .91-1 .92-.9 .91 .3 .92-.7 .92-.1 .91 .6 .92-.4 .91 3.7 .92-1.6 .92-.7 .91-3.4 .92 2.5 .91 3.9 .92-4.2 .92 1.5 .91 1.4 .92-2.9 .91 1.2 .92-.3 .92 1.4 .91-.9 .92 .3 .91-.3 .92-1.4 .92 2.3 .91-2.3 .92-.6 .91 1.7 .92-.1 .92-.6 .91 .5 .92-.3 .91 1.2 .92-.2 .92 1.8 .91-1.6 .92-.1 .91-.8 .92-1.1 .92 2.1 .91-1.2 .92 1.1 .91-1.1 .92 1 .92-2 .91 2.2 .92 .6 .91-3.1 .92 2.4 .92 .7 .91 .3 .92 .1 .91-.9 .92-1.3 .92 .2 .91 1.3 .92-0 .91-.2 .92 .2 .92 .5 .91-.7 .92-1.8 .91 1.3 .92-2.5 .92 1.8 .91 1.6 .92-.6 .91-.5 .92 2 .92-1 .91-0 .92-1.6 .91 5.1 .92-5.5 .92 2.3 .91-0 .92-.7 .91-1.4 .92 2.6 .92-1.2 .91 .2 .92 .5 .91 .3 .92-1.5 .92 1 .91-.6 .92-.9 .91 2.1 .92-.1 .92-1.2 .91 1.2 .92 .9 .91-.2 .92-2.1 .92 .9 .91 1.1 .92-1.5 .91 .5 .92-3.3 .92 3 .91-.7 .92 1.2 .91 .7 .92-.1 .92 .7 .91-.6 .92 .2 .91 0 .92-.2 .92-1.4 .91-.2 .92 .3 .91-2.6 .92 3.5 .92 1 .91-1.2 .92-0 .91 .2 .92 .8 .92-1.1 .91 1.1 .92-.6 .91-3.5 .92 4.1 .92 .8 .91-1.7 .92 .5 .91 .9 .92-.1 .92 .8 .91-1.1 .92 .6 .91-.2 .92 .9 .92-3.8 .91 .1 .92 2.3 .91-.9 .92 .6 .92 .6 .91-0 .92-.2 .91-2 .92 2.1 .92 .7 .91-.8 .92 .9 .91 .9 .92-1.9 .92-.2 .91-1.3 .92-1.8 .91 4.2 .92-.1 .92 1.5 .91-2.5 .92 2.2 .91 1.8 .92-2.5 .92-1.3 .91 0 .92-2.9 .91 1.5 .92 2.7 .92-1.2 .91-.4 .92 .2 .91 .8 .92 1.1 .92-1.2 .91 .5 .92 .9 .91-1.6 .92 .3 .92 .6 .91-.6 .92 .9 .91 .4 .92 .1 .92-1.9 .91 .2 .92 2.4 .91-1.4 .92-3.2 .92 4.7 .91-.5 .92-2.8 .91 1 .92 .5 .92 .2 .91-1.2 .92 1.7 .91-.9 .92-.7 .92-2.2 .91 4.8 .92-1.2 .91-2 .92 .9 .92 1 .91-.2 .92 .5 .91-1.3 .92-.3 .92-.4 .91 2.4 .92-.5 .91-.2 .92-1.4 .92 1 .91 1 .92-.3 .91-.8 .92-1.4 .92-1 .91 2.6 .92 .9 .91-.2 .92-1.4 .92-0 .91 2.1 .92-1.7 .91 .8 .92-0 .92-.8 .91-.5 .92 .3 .91 1.3 .92 .1 .92-4.1 .91 5.6 .92-1.6 .91-1.8 .92 .6 .92 3.4 .91-3.3 .92-.2 .91 3 .92-1.6 .92 3.1 .91-2.3 .92-.6 .91 0 .92-.6 .92 1.7 .91-2.3 .92 1.2 .91-1 .92 4.3 .92-2.8 .91-1.3 .92 .6 .91 .9 .92-2.4 .92-.4 .91 2.6 .92-.4 .91-.8 .92 1.2 .92-1.9 .91 1.4 .92 3.5 .91-2.3 .92-2.4 .92 1.6 .91 2.7 .92-3.4 .91 3 .92-3.1 .92-.2 .91-.8 .92 .3 .91 2.6 .92-1.1 .92 1.3 .91-1.6 .92 .7 .91-2.4 .92 1.3 .92 .5 .91 .1 .92-.5 .91-1.2 .92 2.6 .92-.7 .91 .4 .92 .1 .91-.4 .92-1.6 .92 2.5 .91-2 .92 .1 .91-.1 .92 .2 .92-0 .91-.4 .92 1.7 .91-2 .92 1.3 .92 .9 .91-.2 .92-.2 .91-.1 .92-.7 .92 1.7 .91-2.2 .92 2.5 .91-1.9 .92-0 .92 1.5 .91 .6 .92-3.6 .91 2.3 .92-1.1 .92-2.2 .91 4.2 .92 2.7 .91-2.5 .92 .5 .92-2.5 .91 2 .92-1.2 .91 .8 .92 .7 .92-2.6 .91 1.9 .92-.4 .91-1.6 .92-0 .92 1.8 .91-.8 .92 4.2 .91-3.1 .92-.7 .92-.1 .91 .9 .92-.1 .91-2.2 .92 1.6 .92 1.1 .91-2.9 .92 2.7 .91-2.2 .92 .1 .92 .9 .91 .9 .92 3 .91-4.5 .92-.4 .92 .8 .91 .4 .92 1 .91 .2 .92 .1 .92-1.3 .91 1.7 .92-1.4 .91-.1 .92-.5 .92 .4 .91 1.3 .92-1.4 .91 4.3 .92-1.9 .92-1.2 .91-2.2 .92 .6 .91 1.1 .92 .2 .92-.1 .91 .4 .92-1.5 .91 1.6 .92 .1 .92-.9 .91-.9 .92-1.5 .91 4.3 .92-1.4 .92-.1 .91-.6 .92-1.2 .91 2.6 .92 .3 .92-.6 .91-2.3 .92 2.4 .91 .5 .92 .6 .92-4.2 .91 2.6 .92 2.2 .91-1.8 .92-.1 .92-.3 .91 2.1 .92-1.2 .91 1.9 .92-3.4 .92 .6 .91-.1 .92-.5 .91 1.3 .92-1 .92 1.2 .91-.3 .92-.3 .91-.2 .92-.8 .92 2.5 .91-1.8 .92 1.2 .91-.7 .92 .7 .92-1.3 .91-2.6 .92 4.4 .91 .1 .92-.9 .92-2.7 .91 2.7 .92 .8 .91-.3 .92-2.5 .92 2.7 .91-.4 .92-.5 .91 .1 .92-.6 .92-.2 .91 .5 .92-.2 .91-.3 .92 1.7 .92-.9 .91 .3 .92-.3 .91 .1 .92-1.4 .92 1.1 .91-.8 .92-.2 .91 2.4 .92 .1 .92-1.2 .91 .3 .92 .1 .91-.8 .92 1.2 .92-1 .91-1.4 .92 1.6 .91 .3 .92-.1 .92-.8 .91 .3 .92-1.1 .91 .2 .92 2.4 .92-.6 .91 .2 .92-1.7 .91 1.3 .92 .2 .92 3.4 .91-7.2 .92 3 .91 .1 .92 1.9 .92-2.2 .91 4.5 .92-3.4 .91-.3 .92 .8 .92-1.5 .91 .4 .92-.4 .91-.7 .92 .5 .92-.6 .91 1.3 .92 1.3 .91-3.8 .92 2.7 .92-.3 .91 .4 .92 1.2 .91-.8 .92 .8 .92-.5 .91 .2 .92 .5 .91-1.7 .92 .3 .92-.5 .91 1.8 .92-2.3 .91 3.1 .92-5.3 .92 5.1 .91-1 .92-.3 .91-1.8 .92 2.7 .92 1 .91-2.8 .92 .4 .91 0 .92 .3 .92-.3 .91 .6 .92-2.1 .91 1.1 .92-.7 .92 .7 .91 .9 .92-.4 .91 1.2 .92-.7 .92-.1 .91-.4 .92 .6 .91-.2 .92-.6 .92 1.5 .91-1.1 .92 .6 .91-.2 .92 .4 .92 .3 .91-.6 .92 .1 .91 .4 .92-.6 .92-.9 .91-.3 .92 .7 .91 2.1 .92-2.6 .92 3.2 .91-.3 .92-4 .91 2.1 .92-.2 .92 2.1 .91-1.5 .92 1 .91-1.6 .92 .4 .92 .3 .91 .4 .92-.1 .91 .3 .92-1.5 .92 1.6 .91 .2 .92-1.1 .91 1.4 .92 .1 .92-2 .91-2.3 .92 3.5 .91-1.1 .92 .4 .92-.1 .91 2.3 .92-1.6 .91 1 .92-.7 .92 .5 .91-2.1 .92 1.3 .91 .9 .92-2.1 .92 .4 .91 .7 .92-1.5 .91-.7 .92 1.8 .92 .4 .91 0 .92 .6 .91-1 .92-2 .92 3.6 .91-1.7 .92 .7 .91-.9 .92 1.4 .92-2.3 .91 1.7 .92-1.4 .91 .3 .92 .6 .92 .6 .91-.8 .92 .8 .91-1.1 .92 2 .92-.9 .91-.1 .92 .3 .91 .4 .92-2 .92 .2 .91 3.8 .92-3.2 .91-.2 .92 1.3 .92-.5 .91 0 .92 .6 .91 .6 .92-2.7 .92 .2 .91 1.7 .92-1.3 .91 2 .92-.1 .92-.8 .91-.1 .92-3.4 .91-.2 .92 4 .92 1.2 .91-2.5 .92 .9 .91-0 .92 .2 .92-.5 .91 1.5 .92-2.2 .91 1.4 .92-.1 .92 .1 .91-.4 .92-.6 .91-.2 .92-.7 .92 2.6 .91-1.7 .92-.6 .91 5 .92-4.6 .92 1.1 .91-1.1 .92 1.1 .91-0 .92 1.2 .92 0 .91-.1 .92-.8 .91-.7 .92 1.3 .92-.9 .91 .9 .92 1.2 .91-2.1 .92 3.4 .92-2 .91-2.6 .92 .1 .91 .5 .92-1.1 .92 .8 .91-1 .92 3.7 .91-2.2 .92 .9 .92 1.6 .91-3.8 .92 1.8 .91-.4 .92 .3 .92-.2 .91 1.5 .92-1 .91-0 .92-.5 .92 .6 .91-.4 .92-.3 .91 1.4 .92-.9 .92-.4 .91 .2 .92 .5 .91 .6 .92-2.7 .92 1.3 .91 .3 .92 .5 .91-.1 .92-.5 .92 .2 .91-0 .92 .5 .91-.1 .92 1 .92-.4 .91 .4 .92-1.7 .91 .2 .92-1.4 .92 1.5 .91-0 .92 2.7 .91-1.7 .92-1.5 .92 2.3 .91-1.3 .92-.2 .91 2.3 .92-1.4 .92 .6 .91-.2 .92-1.7 .91 .2 .92-.2 .92 .4 .91-.7 .92 0 .91 4.5 .92-4.8 .92 .9 .91 .9 .92 .5 .91-1.3 .92 .2 .92-.4 .91 .8 .92 .9 .91-.7 .92-2.2 .92 1.9 .91-.9 .92 .6 .91-3.4 .92 2.2 .92 .8 .91 1.4 .92-2.1 .91 4.9 .92 0 .92-3.3 .91 .1 .92-.7 .91-2.2 .92 2.2 .92 1.4 .91 .9 .92-1.7 .91 1.1 .92-1.2 .92-.2 .91 2 .92-2.4 .91 .5 .92-.6 .92-.8 .91 2.4 .92 0 .91-1.1 .92 .2 .92-1 .91 2.8 .92-2.5 .91-.5 .92 .4 .92 1.7 .91-.5 .92-1 .91 1.6 .92-.8 .92-.1 .91-1 .92 .6 .91 4 .92-2.8 .92 .5 .91-.5 .92-.3 .91-1.2 .92 1 .92-1.9 .91 3.7 .92-2.5 .91 .9 .92 .5 .92-2.2 .91 1.3 .92 0 .91 .5 .92-2.4 .92 2.8 .91-0 .92-.2 .91 .3 .92-.3 .92-1.2 .91 .4 .92-.3 .91 .8 .92-2.4 .92 1.2 .91 .4 .92 1 .91 .4 .92-1.3 .92-.5 .91 2 .92-1.3 .91 1.1 .92 .3 .92-2 .91 1.7 .92-2.9 .91 1.7 .92-1 .92 2.2 .91-1.1 .92-.2 .91-.8 .92 1.1 .92 2 .91 .1 .92-2.2 .91-.5 .92 .4 .92 .6 .91-1.2 .92 1.3 .91 1.2 .92-.7 .92-1.9 .91 1.9 .92 1.1 .91-1.5 .92-.4 .92 .4 .91-.3 .92-.5 .91 2.6 .92-.4 .92-.8 .91 0 .92-4.4 .91 2.2 .92 3.3 .92-3.2 .91-2.3 .92 2.3 .91 2.7 .92-3.6 .92 2 .91 2 .92-1.2 .91-1.3 .92 .6 .92-.9 .91 4.6 .92-4.4 .91 1.8 .92-.6 .92-1 .91-1 .92 1.5 .91 .6 .92-.4 .92 1.9 .91-2.6 .92 1.5 .91-.5 .92-.8 .92 .8 .91-1 .92 2.4 .91-.6 .92 1.6 .92-1.6 .91-.9 .92 2 .91-2.8 .92 2.2 .92-.6 .91 .2 .92-.6 .91-1.2 .92-.3 .92-.5 .91 1.3 .92 .4 .91 .4 .92-2 .92 1.3 .91 .3 .92-2.8 .91 3.4 .92-1.7 .92 .8 .91-1.3 .92 2.2 .91-1.2 .92-.2 .92 .2 .91 .9 .92-1.3 .91 .1 .92-2.8 .92 4.4 .91-1.3 .92 0 .91 1.2 .92 0 .92 .8 .91-2 .92 .6 .91-.6 .92 .4 .92 .4 .91-.9 .92 .2 .91-1 .92 2 .92 .2 .91-2 .92-.1 .91 1.2 .92 .3 .92-1 .91 2 .92-1.5 .91 1.1 .92 .3 .92-2.8 .91 1 .92-.4 .91 1.7 .92-1.9 .92 2.2 .91-1.6 .92-.1 .91-.7 .92 1.6 .92 .8 .91-.5 .92 .1 .91-1.6 .92 .3 .92 .2 .91 4.3 .92-4.7 .91 1.1 .92-.3 .92 2.9 .91-4.4 .92 .9 .91 2.4 .92-.9 .92-1.6 .91 2.5 .92-2.6 .91 2.7 .92-.6 .92-.2 .91-0 .92-.9 .91 .1 .92 .2 .92 .2 .91-.2 .92-1.5 .91 2 .92-1.3 .92 .8 .91 .9 .92-.6 .91 .9 .92-.6 .92-.7 .91 3.6 .92-7.2 .91 4.1 .92-2.1 .92 .4 .91-2 .92 3.3 .91 2 .92-1.1 .92-1.1 .91 .3 .92-.6 .91-1.3 .92 2 .92 .6 .91-1.2 .92 1.2 .91-1.9 .92 4.7 .92-.3 .91-6.2 .92 4 .91-.3 .92-1.1 .92 1.3 .91-1.8 .92 .6 .91 .8 .92-.2 .92-.8 .91 .2 .92-.5 .91-.6 .92 .5 .92 1.2 .91-.5 .92-1.3 .91 1.4 .92 3.6 .92-4.5 .91 .8 .92-1 .91 1.2 .92-3.7 .92 4.6 .91-.3 .92-1.4 .53 .9" stroke="#606060" stroke-width="3.9"/>
</g>
<rect x="189.5" y="22.5" width="1831.85" height="1147.15" fill="none" stroke="#000" stroke-width="4.8"/>
<rect x="1029.0" y="33.5" width="981.0" height="198.3" fill="#fff" stroke="#333" stroke-width="4.6"/>
<line x1="1041.0" y1="62.7" x2="1106.5" y2="62.7" stroke="#ff0000" stroke-width="5.2"/>
<text transform="translate(1128.0 78.5) scale(0.986 1.01)" font-size="45.4" xml:space="preserve"><tspan font-style="italic">U</tspan> = 2.0 V</text>
<line x1="1041.0" y1="109.6" x2="1106.5" y2="109.6" stroke="#ff8000" stroke-width="5.2"/>
<text transform="translate(1128.0 125.3) scale(0.986 1.01)" font-size="45.4" xml:space="preserve"><tspan font-style="italic">U</tspan> = 2.1 V</text>
<line x1="1041.0" y1="156.4" x2="1106.5" y2="156.4" stroke="#c85000" stroke-width="5.2"/>
<text transform="translate(1128.0 172.1) scale(0.986 1.01)" font-size="45.4" xml:space="preserve"><tspan font-style="italic">U</tspan> = 2.2 V</text>
<line x1="1041.0" y1="203.2" x2="1106.5" y2="203.2" stroke="#009015" stroke-width="5.2"/>
<text transform="translate(1128.0 218.9) scale(0.986 1.01)" font-size="45.4" xml:space="preserve"><tspan font-style="italic">U</tspan> = 2.3 V</text>
<line x1="1378.0" y1="62.7" x2="1444.0" y2="62.7" stroke="#00ff40" stroke-width="5.2"/>
<text transform="translate(1465.0 78.5) scale(0.986 1.01)" font-size="45.4" xml:space="preserve"><tspan font-style="italic">U</tspan> = 2.4 V</text>
<line x1="1378.0" y1="109.6" x2="1444.0" y2="109.6" stroke="#00ffff" stroke-width="5.2"/>
<text transform="translate(1465.0 125.3) scale(0.986 1.01)" font-size="45.4" xml:space="preserve"><tspan font-style="italic">U</tspan> = 2.5 V</text>
<line x1="1378.0" y1="156.4" x2="1444.0" y2="156.4" stroke="#0000ff" stroke-width="5.2"/>
<text transform="translate(1465.0 172.1) scale(0.986 1.01)" font-size="45.4" xml:space="preserve"><tspan font-style="italic">U</tspan> = 2.6 V</text>
<line x1="1378.0" y1="203.2" x2="1444.0" y2="203.2" stroke="#8000ff" stroke-width="5.2"/>
<text transform="translate(1465.0 218.9) scale(0.986 1.01)" font-size="45.4" xml:space="preserve"><tspan font-style="italic">U</tspan> = 2.7 V</text>
<line x1="1722.5" y1="62.7" x2="1788.0" y2="62.7" stroke="#ff80c8" stroke-width="5.2"/>
<text transform="translate(1809.3 78.5) scale(0.986 1.01)" font-size="45.4" xml:space="preserve"><tspan font-style="italic">U</tspan> = 2.8 V</text>
<line x1="1722.5" y1="109.6" x2="1788.0" y2="109.6" stroke="#606060" stroke-width="5.2"/>
<text transform="translate(1809.3 125.3) scale(0.986 1.01)" font-size="45.4" xml:space="preserve"><tspan font-style="italic">U</tspan> = 2.9 V</text>
<text transform="translate(173.43 1226.2) scale(1 1.022)" font-size="58.5">0</text>
<text transform="translate(340.35 1226.2) scale(1 1.022)" font-size="58.5">20</text>
<text transform="translate(523.54 1226.2) scale(1 1.022)" font-size="58.5">40</text>
<text transform="translate(706.72 1226.2) scale(1 1.022)" font-size="58.5">60</text>
<text transform="translate(889.91 1226.2) scale(1 1.022)" font-size="58.5">80</text>
<text transform="translate(1057.02 1226.2) scale(1 1.022)" font-size="58.5">1<tspan dx="-2.5">0</tspan><tspan dx="-0.2">0</tspan></text>
<text transform="translate(1240.21 1226.2) scale(1 1.022)" font-size="58.5">1<tspan dx="-2.5">2</tspan><tspan dx="-0.2">0</tspan></text>
<text transform="translate(1423.39 1226.2) scale(1 1.022)" font-size="58.5">1<tspan dx="-2.5">4</tspan><tspan dx="-0.2">0</tspan></text>
<text transform="translate(1606.58 1226.2) scale(1 1.022)" font-size="58.5">1<tspan dx="-2.5">6</tspan><tspan dx="-0.2">0</tspan></text>
<text transform="translate(1789.76 1226.2) scale(1 1.022)" font-size="58.5">1<tspan dx="-2.5">8</tspan><tspan dx="-0.2">0</tspan></text>
<text transform="translate(1972.75 1226.2) scale(1 1.022)" font-size="58.5">200</text>
<text transform="translate(101.0 977.25) scale(1 1.022)" font-size="58.5" letter-spacing="-2.3">10<tspan font-size="30.6" dy="-29.4" dx="0.9" letter-spacing="0">2</tspan></text>
<text transform="translate(101.0 430.18) scale(1 1.022)" font-size="58.5" letter-spacing="-2.3">10<tspan font-size="30.6" dy="-29.4" dx="0.9" letter-spacing="0">3</tspan></text>
<text transform="translate(1105.2 1301.3) scale(1 1.02)" font-size="71.3" text-anchor="middle" xml:space="preserve">Time <tspan font-style="italic">t</tspan> (s)</text>
<text transform="translate(74.6 596.2) rotate(-90) scale(1 1.02)" font-size="71.3" text-anchor="middle" xml:space="preserve">Current density <tspan font-style="italic">j</tspan> (mA cm<tspan font-size="36.5" dy="-35.6" dx="-0.7">-2</tspan><tspan dy="35.6" dx="1.3">)</tspan></text>
</svg>
</body>
</html>
